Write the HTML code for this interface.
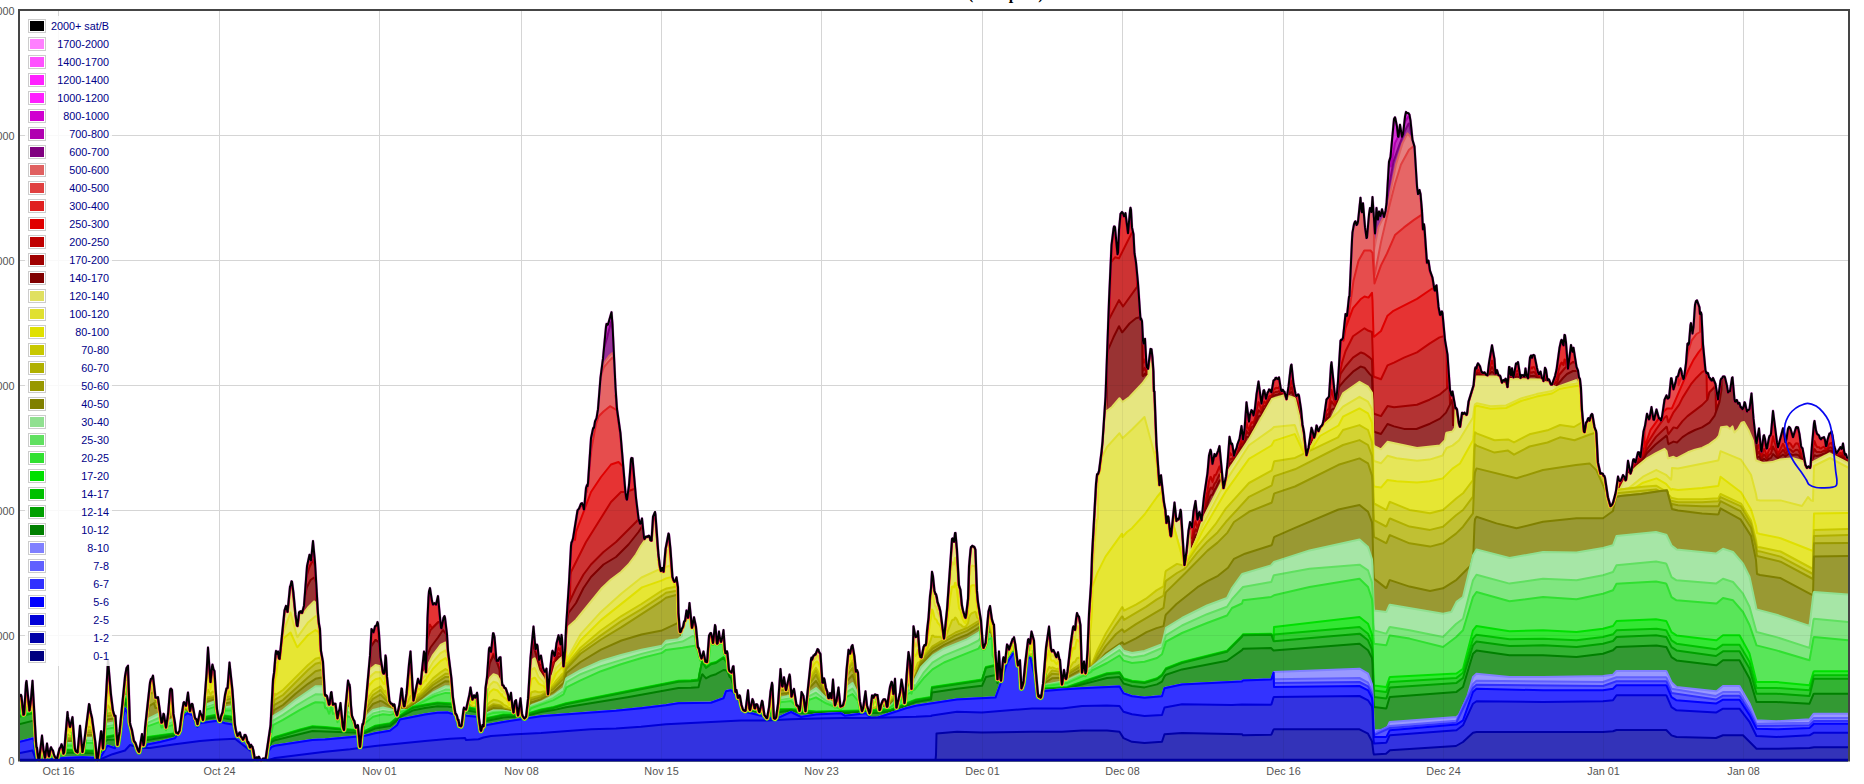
<!DOCTYPE html>
<html><head><meta charset="utf-8"><title>mempool</title>
<style>
html,body{margin:0;padding:0;background:#fff}
body{width:1864px;height:784px;position:relative;overflow:hidden;font-family:"Liberation Sans",sans-serif;font-size:10.83px;color:#545454}
.ttl{position:absolute;left:968px;top:-14.6px;white-space:nowrap;font-family:"Liberation Serif",serif;font-weight:bold;font-size:16px;color:#000;line-height:18px}
.xl{position:absolute;top:764.5px;width:60px;text-align:center;line-height:13px;white-space:nowrap}
.yl{position:absolute;right:1849.5px;width:60px;text-align:right;line-height:13px;white-space:nowrap}
.lg{position:absolute;left:25px;top:16px;width:87px;height:650px;background:rgba(255,255,255,.85)}
.lt{position:absolute;left:25px;top:16px;width:87px;color:#000088}
.r{position:relative;height:18px}
.r i{position:absolute;left:5px;top:5px;width:14px;height:10px;background:#000;box-shadow:0 0 0 1px #fff,0 0 0 2px #ccc}
.r span{position:absolute;right:3px;top:3px;line-height:14px;white-space:nowrap}
</style></head><body>
<div class="ttl">(Mempool)</div>
<svg width="1864" height="784" viewBox="0 0 1864 784" style="position:absolute;left:0;top:0">
<defs><path id="tp" d="M20,696.8 21,694.8 21.5,696.3 23.5,714.6 24,714.2 26,683 26.5,680.9 29.5,710.3 31,698.6 32.5,680.8 36,741.2 36.5,747 37,747.7 38.5,759.9 39,760.3 42,735.6 43.5,749.6 45,757.7 47,743.5 48.5,754.7 49,756.3 50.5,748.3 51,747.2 52,749.4 53,750.6 54,754.7 55,756.9 56,758.2 57,758.6 59.5,748.4 60.5,747.3 61.5,744.2 62.5,747.1 63.5,753.5 64,752.4 67.5,712 68,716.9 70,726.9 72.5,717.1 75,748.6 76,751.3 76.5,751.7 77,751.6 77.5,752.3 80,725.7 82.5,751.9 84,743.1 89,704.1 89.5,704.9 90.5,711.6 92,717.4 95.5,742.9 97,759.2 97.5,760.3 101,731.3 101.5,731.5 103,748.3 108,659.8 111,694.5 113,710.5 114.5,715.8 115.5,715.8 117.5,744.8 119.5,731.7 125,676.3 126.5,668 128,665.7 130,722.4 130.5,725.3 132,730 134,740.9 135.5,742.9 138,750.1 139,751.8 142,734 143.5,745.1 144,743 145,727.7 150,682.4 151,678.8 152,678.3 153,675.6 155.5,697.5 156.5,697.4 157.5,698.2 158,697.1 161.5,722.5 162,722.3 162.5,720.2 163.5,713.7 164,714.3 166,727.4 168,714 170,690.3 170.5,688.9 171,688.6 172,689.8 173.5,713.9 175,722.7 176,731.8 176.5,732.8 177.5,732.8 178,733.4 179.5,730.6 181.5,714.8 183.5,702.8 184,702.1 186,705.6 188,692.5 190,711.1 191,705.8 191.5,704.1 192,703.8 192.5,704.3 195,717.6 195.5,718.8 196.5,719.1 197.5,724.1 200,711.1 200.5,713.2 202,715.8 203,719.9 206.5,673.6 208,647.5 210.5,682 212,666.7 212.5,664.6 213.5,669.3 214.5,671 217,708.8 218.5,717.5 219.5,720.7 220,720.7 221,716.1 222.5,712.2 225,694.8 226.5,688.3 227.5,687.8 229.5,662.6 232.5,690.3 235,724.8 236,730.4 237.5,735.7 238.5,734.6 239.5,732.4 240,732.5 241,736.8 241.5,736.8 243,739.6 244,737.5 244.5,734.9 245.5,734.9 246.5,737.1 247.5,741.7 248,742.9 248.5,742.3 250,747.3 251,744.7 252,746.5 252.5,746.7 253.5,750.5 255,759.6 256.5,757.4 257.5,758.2 258,758.1 258.5,756.7 259,756.7 260.5,760.2 261.5,760.3 263,758.5 264.5,758.5 265.5,759.1 270.5,725.3 273,679.3 274,672.7 275.5,654.7 276,650.9 277,653.7 278,651.5 279,658.3 279.5,658.8 284.5,610.3 286,605.9 286.5,606.7 287.5,611.8 290,586.5 290.5,585.7 291.5,581.3 292,581.6 293.5,593 295.5,614.2 297,625.5 297.5,625.9 299,612.6 299.5,611.7 300,612.6 300.5,611.3 301,611.2 301.5,611.5 302,612.9 304,605.7 307,566.3 309.5,554.8 311,560.5 313,541.1 315,562.2 318,613.1 319,623.8 320,628.9 321,650.7 323,661.6 325,694.7 325.5,695.6 326,695 327,695.9 329,704.6 329.5,704 331,692.5 331.5,692.1 333,704.6 334,703.5 334.5,704.1 335.5,703.7 337.5,718.2 338.5,711.9 339.5,709.4 340.5,703 343,726.9 344,729.9 345.5,706.1 348,680.6 349,684.3 349.5,684.5 350,687.5 351,705.1 352,715.6 353.5,719.6 354.5,721.1 355.5,726.6 356,727.6 357.5,725 358,725.3 360,746.7 362,726.8 362.5,723.9 363,724.3 364,718.6 366,699.4 370,655.4 371.5,629 373.5,632.3 375,626.4 376.5,625.4 377.5,622.1 378,623.6 379,633.2 380.5,657.1 383,672.4 383.5,673.5 384,673.5 384.5,672.2 385.5,655.4 386,657.6 387,676.4 389.5,700.9 391,703.5 392,703.7 392.5,704.3 393,705.6 393.5,705.7 394,704.2 394.5,704.7 395.5,710.7 397,715.2 399.5,704.1 401.5,688.4 402,689 403,699.8 404,706.2 404.5,706 406.5,693.2 409,664.1 410.5,651.4 413.5,700.4 418,678.8 419.5,683.1 420.5,683.8 424,651.5 424.5,652.8 426,672.1 427.5,617.8 428.5,597.3 429,591.4 430,588.1 432,601.1 433,604.6 434.5,603.1 436,604.6 438,596.1 441,627.6 441.5,628.3 443.5,617.8 444.5,616.1 445,617.7 447,634.4 448,650.6 451.5,678.6 453,697.5 455.5,713.7 456,713.8 457,715.7 458,720 458.5,719.7 459.5,725.6 460,725.3 461,726.2 461.5,725.2 463.5,709.5 464,707.6 464.5,708.9 466,709.4 469.5,694.1 470.5,687.5 472.5,699.5 474,695.3 475,697.4 475.5,697.5 477,692.8 477.5,695.4 479,717.6 480.5,729.2 481,730.8 482.5,725 483.5,726.2 485.5,688 487,677 489,648.8 489.5,647.5 490,649.8 491,651.8 493,633.3 493.5,633.2 494.5,636.9 496.5,660.9 497.5,660.6 498,660.9 499.5,657.5 500.5,657.2 502,682 502.5,685.1 503.5,685.5 504.5,687.8 505,688.2 505.5,688 506,688.9 508,694.8 509,700.1 509.5,699.6 511,692.8 512.5,706.8 513.5,712.3 514.5,703.5 515,701.2 516,700.1 518,715.3 520.5,698.3 522,713.2 522.5,715.5 524,718.1 524.5,718.3 526,716.7 528,698.9 530.5,657.7 533.5,626.5 535.5,649.3 537,644.6 537.5,645.8 539,659.9 540.5,656 541,655.6 543,667.7 544.5,671.5 545,671.7 545.5,671.1 546.5,668.6 548,694.2 549.5,674.8 552,652.7 552.5,650.8 553,652.2 553.5,652.2 554.5,655.9 555,655.2 556.5,643.2 558.5,635.3 560.5,644.4 561.5,634.9 562,638 563.5,666.2 565,650.1 566,627.9 569,582.8 571,545.8 571.5,542.2 572,541.8 573,538.3 577.5,510.4 579,508.7 581,503.6 582,503.1 583,505.3 584,509.5 586,488 587,485 587.5,486 588,482.7 591,438.3 593,428.7 593.5,427.6 594,427.8 595,421.4 596.5,418.2 598,409.2 600.5,377.7 603,358.4 606,326.8 606.5,323.9 607,325.2 607.5,324 608,324.6 611.5,312.2 612.5,324.6 615.5,387.2 617,409 620.5,433.5 625.5,492.9 626.5,499.2 627,499.6 629,485 631,459.2 631.5,457.9 632.5,458.2 636,497.8 638.5,518.2 640,523.7 640.5,523.7 642,518.4 644,537.8 644.5,538.9 646,536.5 647,536.9 647.5,536.3 648,536.7 648.5,535.8 649,535.7 649.5,536.2 650.5,540.2 651.5,540.5 653,516.7 655,512 655.5,514.7 658.5,554.7 660,566.6 661,571 662,568 662.5,568.1 663.5,571.6 665.5,548.9 668.5,533.5 669,534.6 670.5,549.2 672.5,576.8 673.5,580 674.5,581.7 675.5,580.3 676.5,577.3 678,587.1 678.5,612.8 680,631.9 680.5,632 681,631.2 681.5,629.2 683,626.7 684,621.8 684.5,620.9 685,620.9 686.5,610.4 688,617.7 689.5,603 692,627.7 694,617.2 696,626.7 698,647.5 698.5,647.6 699,648.6 700.5,655.6 701.5,658.4 703.5,651.4 705.5,661.6 707,662 709,635.8 710,633.8 710.5,633 711,633 712.5,639 713,642.9 715,625.1 715.5,626.3 717,643.5 717.5,643.3 719,631.6 719.5,636 721,641.8 722.5,636.6 723.5,630.1 725,650.1 725.5,653 726,653.1 726.5,651.4 727,651.3 727.5,653.2 729,669.5 729.5,670.9 731.5,672.5 733,666.4 733.5,666.2 735.5,691.7 736,690 736.5,690.1 738,697.8 738.5,697.5 739.5,695.3 740,696.1 741.5,704.7 743,709.5 743.5,710 745,710.8 745.5,710.7 748,690.3 749.5,708.4 750,709.9 752.5,699.1 753.5,701.6 754.5,708.1 755,708.3 756,704.3 757,704.2 757.5,705.1 759,711.5 759.5,711.9 762,700.8 762.5,701.5 764.5,715 766.5,717.8 767,718 769,707.1 770.5,691.4 772,682.8 772.5,685.4 774,718.1 775,718.7 776,717.5 778,703.6 780.5,669 782,685.5 782.5,686.4 784,677.2 786,690 789.5,674.6 790,676.6 791.5,696.5 793,690.8 794,688.9 796.5,704.7 797,705.5 797.5,705.2 798.5,706.8 799.5,710.8 800,708.8 801.5,692 803.5,695.9 805.5,711.1 811,659.3 811.5,657.6 812,659.6 813.5,655.5 814.5,655.1 815,654.1 815.5,654.4 817.5,649.1 818.5,649.9 819,651.7 820.5,654 822.5,682.4 823,682.7 824,678.3 824.5,679.5 826,688 827.5,692.2 828,696.6 828.5,698 829,698.1 830,693.1 831.5,698.1 833,679.5 835,705.2 836.5,700.6 838.5,687.5 840.5,706.4 842,705.9 843,705.1 844.5,699.3 846.5,669.9 848.5,649.8 850,653.6 851.5,646.6 852.5,645 854.5,656.4 856,671.5 856.5,670.2 857,670.1 858,672.6 859.5,697 860,701.4 862,711.1 863,708.5 865.5,691.3 867,705.2 869.5,713.2 870,712 872,695.4 872.5,695.7 873,697.3 873.5,697.6 874.5,694.8 875,694.4 875.5,694.4 876,695.1 877.5,695 879.5,709.9 880,709.6 881,704.6 882.5,700.8 883.5,699.3 885,699.3 886,701.4 887,706.8 887.5,705.8 888,699.8 890,686.7 891.5,681.8 892,682.2 893.5,693.8 895,678.8 896.5,707.5 900,692.5 901.5,679.5 903,688.1 904.5,703 905,700.5 906.5,675.7 908.5,652.1 910,660.6 911.5,688.8 913.5,626.2 915.5,636.9 916.5,636.7 917,635.9 918,631.2 919.5,650.6 920,655.4 920.5,656.9 921,656.5 921.5,657.2 923.5,647 924.5,645 925,645.4 925.5,645.2 926,643.6 927,630.5 928.5,617.6 930,595.8 931,588.1 932,571.7 933,576.1 934.5,590.7 935.5,594 936,594.1 937,597.8 937.5,601.6 939.5,607.4 940.5,611.6 944,638.4 947,609.2 952,538.9 952.5,538.4 953,538.7 954,541.7 955,533 955.5,532.9 957,549.7 959,585.1 960.5,589.8 962,605.5 963,610.3 965,617 965.5,617.7 966,615.4 968,598.6 969,566.3 970.5,549.7 971,546.9 971.5,546.8 972,546 972.5,545.8 973.5,546.8 974,546.6 974.5,547.1 975.5,549.8 977,590.9 978,601.8 981,620.5 983,645.8 983.5,647.8 985.5,642.9 988.5,611.2 990,606 992,619.4 993.5,624.2 994,624.6 995.5,652.7 997.5,679.1 999,651.4 1000.5,677.9 1001,680.6 1003,659.3 1003.5,657.2 1005,662.2 1007,644.4 1008.5,646.8 1009,649.4 1012.5,639.2 1013.5,638.6 1014,637.2 1015.5,645.3 1018,665.3 1018.5,664.9 1019,662.5 1020,660.2 1021.5,688.3 1023,683.9 1023.5,680.7 1025,664.4 1028,639.8 1028.5,639.1 1030,643.5 1031.5,631.5 1034,640.4 1035.5,666.3 1038,693.8 1038.5,696.3 1039,696.7 1039.5,695.6 1040,696 1040.5,697.5 1041,697 1041.5,694.3 1043,683.4 1046,647.5 1049,626.6 1051,648.1 1051.5,649.9 1052,651.3 1053,650 1053.5,650.1 1055,653.1 1056,656.5 1056.5,657 1058,652.2 1059.5,659.4 1060,659.6 1062,684.3 1064,669.9 1065.5,678.2 1066,678.9 1066.5,677.2 1067.5,671.2 1070.5,644.4 1073,627.5 1073.5,626.3 1074.5,629.5 1075,629.8 1076,619.2 1077,613 1078,615.7 1079,616.7 1080.5,625.2 1082,672.6 1084,661.5 1085.5,673.2 1086,671.5 1087.5,650 1089,613.6 1091,583.5 1092,554.8 1096,483.6 1097,474.3 1097.5,474.5 1098,473.8 1099,470.9 1101.5,451.6 1102.5,441.6 1105.5,396.8 1109,300.9 1111.5,245 1113.5,228.8 1114,226.4 1114.5,226.4 1115,227.2 1117.5,254.2 1118,252.6 1119,229.9 1120.5,213.8 1122,212 1123,213.2 1124,216.3 1124.5,215.9 1125.5,213.1 1128,233.1 1130,210.5 1130.5,207.7 1131,209.9 1132,227.4 1133.5,234.3 1134.5,253.2 1136,262.3 1138,283 1140.5,319.4 1141,318.3 1142,321.1 1143,340.3 1143.5,343.5 1144.5,339.4 1145,338.8 1146.5,365.2 1147,367.2 1148,368.7 1150.5,348.9 1151.5,349.2 1152.5,357.5 1153.5,371.5 1154,391.2 1154.5,391.6 1156.5,443.2 1159.5,485 1160.5,476.1 1161,475.2 1164,502.1 1165.5,510.3 1166.5,522.8 1167.5,519.9 1168,516.3 1168.5,517.2 1170.5,535.1 1171,536.1 1174.5,502.5 1176.5,520.9 1177.5,519 1178,518.8 1178.5,519.4 1179,518.9 1180.5,509.8 1181,511.6 1184.5,564.9 1186.5,551.1 1188.5,530.7 1190,522.1 1191.5,525.3 1192,527.3 1193.5,511.8 1195.5,501.1 1197.5,519.6 1199,512.6 1199.5,512 1201.5,520.3 1204,496.4 1207.5,472.8 1209,455.6 1210.5,449.8 1211,451.2 1212.5,463.8 1214.5,454 1215,455.7 1215.5,456.3 1216,455.9 1218,451.1 1219.5,446.1 1223.5,488 1226,476.4 1227.5,463.7 1229.5,436.8 1231,443.7 1231.5,444.3 1232,443.6 1232.5,445.4 1234,455.7 1235.5,450.2 1236.5,448.3 1237.5,444.1 1239.5,438.9 1241.5,426.1 1243,439.5 1244.5,429.7 1246.5,402.3 1249,421.5 1250,414.9 1251.5,410.1 1252.5,411.1 1253.5,415.4 1255,408.1 1256.5,394.3 1258.5,381.6 1261.5,403.5 1263.5,390.7 1264,390.1 1264.5,391.4 1266,398.8 1267.5,392.7 1268.5,391.3 1269,389.4 1270,389.7 1271,391.9 1271.5,392.2 1273.5,380.5 1275,379.4 1275.5,377.9 1276.5,377.8 1277,378.8 1278,379.1 1279,377.4 1281,389.8 1281.5,391 1282,391.1 1282.5,389.8 1283,389.9 1284,391.8 1284.5,391.7 1286.5,399.1 1288.5,386.7 1290.5,368.9 1291,365.5 1291.5,364.6 1293.5,383.5 1295.5,393.8 1296,395.6 1296.5,396.1 1298,394.4 1298.5,394.5 1299,395.8 1301,408.8 1302.5,424.2 1304,432.1 1306.5,455.1 1308.5,447.5 1311.5,427.8 1312.5,430.5 1314,437.6 1315,434.9 1316.5,425.4 1317,426.2 1317.5,429.2 1318.5,431 1320,427.4 1321,426.1 1321.5,425.9 1322.5,424.3 1323.5,420.6 1326.5,399.5 1329,396.7 1331,365.4 1331.5,362.3 1334.5,391.4 1335.5,399.4 1336,399.1 1337,392.5 1338,381.1 1340.5,340.8 1341,339.9 1341.5,340.1 1342.5,338.9 1343,337.6 1345.5,314.1 1346.5,315.9 1347,315.7 1349,296.9 1349.5,296.1 1352,240 1352.5,232.4 1354,224.1 1355,221.6 1355.5,221.3 1356.5,225.1 1357.5,223.6 1358,221.6 1360.5,197.7 1361.5,211.3 1362,212.2 1363,203.2 1365,227.2 1366.5,238.1 1367,237.6 1369,214.5 1370,208 1371,211.6 1371.5,211.9 1372.5,197 1375,233.5 1376.5,207.9 1377.5,218.5 1378,219.6 1379,211.5 1380,215.6 1380.5,216.1 1382,209.3 1384,217 1385.5,211 1386.5,203.7 1389,161.9 1390.5,156.9 1394,119 1395,117.3 1395.5,119.1 1397,126.8 1398,136.6 1398.5,136.8 1400,124.7 1402,136.8 1403,134.3 1405,116.8 1406,111.9 1406.5,112.7 1408.5,113.2 1409.5,114.8 1410.5,120.7 1412.5,139.9 1414.5,146.6 1417,186.5 1418,194.1 1418.5,193.6 1419.5,190 1420.5,193.9 1422,210.7 1423,229.3 1423.5,229.2 1424,224.2 1424.5,227.8 1427,262.8 1428,261.9 1428.5,260.6 1430,270.7 1432.5,277.6 1434.5,290 1435,290.7 1436,285.9 1436.5,285.3 1438.5,306.7 1440,314.7 1440.5,314.9 1441.5,311.5 1442,311.6 1442.5,313.1 1445,340 1447.5,354.7 1450,390 1451.5,395.4 1452.5,391.5 1455.5,408.2 1456,407.7 1457,409.2 1459,423.6 1460,426.7 1462,412.7 1462.5,412.7 1463,413.9 1463.5,413.8 1464.5,412.6 1466.5,414.7 1467,413.7 1468.5,401.6 1473.5,385.3 1475,368.9 1475.5,367.4 1476,368.5 1476.5,368.5 1477,365.4 1478,363.3 1480,366.3 1481.5,372 1482,372.7 1482.5,372.2 1483,373 1483.5,372.7 1484,373 1484.5,372.3 1486,374.6 1487.5,375.2 1489,362.8 1492,345.2 1494.5,359.1 1495.5,373.5 1496,373.3 1497,370.1 1498.5,375.1 1500,375.6 1500.5,376.7 1502,382.5 1503,380.3 1503.5,380 1504.5,380.8 1505.5,378.7 1506,379 1507.5,387 1509,367 1509.5,367 1510.5,374.1 1511,375.3 1512,368.2 1513,375.9 1513.5,377.2 1516,363.5 1517,363.7 1518,362 1520.5,377.8 1521.5,375.1 1522.5,375.4 1523,375.1 1524,376.4 1524.5,376.5 1525.5,368.4 1526.5,375.2 1528,378.1 1530,357.4 1531,355.5 1532,357.8 1532.5,355.7 1533.5,354.9 1534.5,355.6 1537,368 1538,372.1 1539,374.2 1540.5,371.5 1542,378.1 1542.5,377.9 1543,378.4 1543.5,380.9 1545,367.7 1546,369.6 1547.5,380 1548.5,379.3 1549,379.4 1551,384.5 1552,384.5 1555,376.1 1556.5,369.8 1559.5,347.8 1561,341 1561.5,339.9 1562,340.1 1563,344.5 1563.5,345.3 1564.5,334.9 1565,335.1 1566,342.4 1568,368.7 1571,345 1572.5,351.7 1573.5,347.7 1576.5,366.8 1578,370.6 1579,377.3 1580,379.1 1581,388.2 1582,409.5 1584,431.5 1584.5,432 1586,422.7 1587,421.4 1588,418.5 1588.5,418.1 1589.5,420.5 1591,415.1 1592,413.9 1592.5,414.7 1594.5,426.7 1595.5,429.9 1596,430.4 1596.5,433.7 1598,462.4 1600.5,473.6 1602,473.3 1603,473.8 1603.5,475.6 1604.5,476.2 1605,477.7 1608,497.2 1610.5,506.1 1611,505.9 1612,504.7 1613,502.5 1615,495.1 1616,490.6 1618,476.6 1619,480.1 1620,481.1 1620.5,480.9 1621.5,479 1623,475 1624.5,477 1625.5,480.2 1626,479.7 1628,460.8 1630.5,473.4 1631.5,470.1 1633,460.4 1633.5,459.2 1634,459.2 1635,462 1635.5,462.4 1638,452.3 1639,452.3 1640,456.6 1640.5,457.2 1643.5,431.4 1645,425.8 1647,413.7 1649,419.3 1649.5,418.4 1651.5,407.1 1653.5,419.6 1654,419.8 1656.5,409.4 1659,418.5 1659.5,418 1661,420.5 1662,416.8 1664.5,399.7 1666.5,395.4 1667.5,398.4 1668,398.5 1669,397.6 1671,378.3 1671.5,378.3 1673.5,389.3 1675.5,382.4 1676.5,377.1 1678,376.1 1679.5,370.3 1680.5,368.4 1681.5,371.2 1682,374.7 1683.5,379.1 1684,377.9 1686,363.1 1687.5,343.7 1688,343.3 1688.5,344.7 1689,343.4 1690.5,324.9 1691,323.1 1692.5,333.6 1693.5,327 1695,305 1696,301 1697,300.4 1699.5,307.3 1700,313.8 1700.5,314.1 1701,312.5 1701.5,314.4 1703,344.1 1705.5,370.3 1706.5,373.3 1707,372.6 1707.5,373.6 1708,373.1 1709,377.2 1710,378.1 1710.5,379.4 1711,379.1 1711.5,380.4 1712.5,380.2 1713,377.9 1715.5,384 1718,399.4 1720.5,380.5 1721,379.2 1721.5,378.4 1722,378.4 1723,376.4 1724.5,376.4 1725,377.6 1727,386 1728,392.4 1729.5,391.1 1730,391.2 1732,377.9 1732.5,377.3 1734.5,399.6 1735,401.6 1735.5,401.7 1736.5,400 1737,400.2 1738,403.7 1739,402.7 1739.5,403.1 1740.5,407.1 1741,407.7 1741.5,407.2 1742.5,409.2 1743.5,407.5 1744.5,402.2 1745,402.8 1747,411.6 1747.5,410.2 1749,409.8 1749.5,408.8 1751.5,393.4 1753.5,418.7 1756,441 1756.5,443.5 1759,428.4 1761,449.5 1761.5,451.6 1763.5,436.1 1764,435.2 1765,438.8 1766.5,448.5 1767,448.2 1769,437.6 1769.5,436.1 1770.5,435.3 1771,433.5 1773,410.9 1777,442.4 1778,447.2 1783,428.3 1784,432.1 1785.5,442 1786.5,438.6 1788,428.7 1789,426.9 1790,427.7 1790.5,428.8 1793,437.1 1796,427.5 1797,427 1797.5,427.9 1798,427.4 1799.5,434.1 1801,445.5 1801.5,447.4 1802.5,448.3 1805.5,464.8 1807,467.9 1808.5,466.4 1810,467.9 1810.5,465.8 1812,444.7 1814,423.2 1814.5,420.9 1816,430.3 1817,433.8 1819,435.6 1820,438.3 1821,439.3 1822,437.8 1823,437.8 1824,437.1 1825,440 1826,446 1826.5,445.8 1827.5,439.8 1829.5,433.4 1830.5,433.2 1831.5,431.4 1832.5,435.2 1834,445.2 1836.5,453.5 1840.5,447 1841.5,448.9 1842,448.2 1843,443.5 1844.5,453.7 1845,454.7 1845.5,453.9 1846,454.3 1847,457.6 1848,458.1"/><clipPath id="ca"><path d="M20,696.8 21,694.8 21.5,696.3 23.5,714.6 24,714.2 26,683 26.5,680.9 29.5,710.3 31,698.6 32.5,680.8 36,741.2 36.5,747 37,747.7 38.5,759.9 39,760.3 42,735.6 43.5,749.6 45,757.7 47,743.5 48.5,754.7 49,756.3 50.5,748.3 51,747.2 52,749.4 53,750.6 54,754.7 55,756.9 56,758.2 57,758.6 59.5,748.4 60.5,747.3 61.5,744.2 62.5,747.1 63.5,753.5 64,752.4 67.5,712 68,716.9 70,726.9 72.5,717.1 75,748.6 76,751.3 76.5,751.7 77,751.6 77.5,752.3 80,725.7 82.5,751.9 84,743.1 89,704.1 89.5,704.9 90.5,711.6 92,717.4 95.5,742.9 97,759.2 97.5,760.3 101,731.3 101.5,731.5 103,748.3 108,659.8 111,694.5 113,710.5 114.5,715.8 115.5,715.8 117.5,744.8 119.5,731.7 125,676.3 126.5,668 128,665.7 130,722.4 130.5,725.3 132,730 134,740.9 135.5,742.9 138,750.1 139,751.8 142,734 143.5,745.1 144,743 145,727.7 150,682.4 151,678.8 152,678.3 153,675.6 155.5,697.5 156.5,697.4 157.5,698.2 158,697.1 161.5,722.5 162,722.3 162.5,720.2 163.5,713.7 164,714.3 166,727.4 168,714 170,690.3 170.5,688.9 171,688.6 172,689.8 173.5,713.9 175,722.7 176,731.8 176.5,732.8 177.5,732.8 178,733.4 179.5,730.6 181.5,714.8 183.5,702.8 184,702.1 186,705.6 188,692.5 190,711.1 191,705.8 191.5,704.1 192,703.8 192.5,704.3 195,717.6 195.5,718.8 196.5,719.1 197.5,724.1 200,711.1 200.5,713.2 202,715.8 203,719.9 206.5,673.6 208,647.5 210.5,682 212,666.7 212.5,664.6 213.5,669.3 214.5,671 217,708.8 218.5,717.5 219.5,720.7 220,720.7 221,716.1 222.5,712.2 225,694.8 226.5,688.3 227.5,687.8 229.5,662.6 232.5,690.3 235,724.8 236,730.4 237.5,735.7 238.5,734.6 239.5,732.4 240,732.5 241,736.8 241.5,736.8 243,739.6 244,737.5 244.5,734.9 245.5,734.9 246.5,737.1 247.5,741.7 248,742.9 248.5,742.3 250,747.3 251,744.7 252,746.5 252.5,746.7 253.5,750.5 255,759.6 256.5,757.4 257.5,758.2 258,758.1 258.5,756.7 259,756.7 260.5,760.2 261.5,760.3 263,758.5 264.5,758.5 265.5,759.1 270.5,725.3 273,679.3 274,672.7 275.5,654.7 276,650.9 277,653.7 278,651.5 279,658.3 279.5,658.8 284.5,610.3 286,605.9 286.5,606.7 287.5,611.8 290,586.5 290.5,585.7 291.5,581.3 292,581.6 293.5,593 295.5,614.2 297,625.5 297.5,625.9 299,612.6 299.5,611.7 300,612.6 300.5,611.3 301,611.2 301.5,611.5 302,612.9 304,605.7 307,566.3 309.5,554.8 311,560.5 313,541.1 315,562.2 318,613.1 319,623.8 320,628.9 321,650.7 323,661.6 325,694.7 325.5,695.6 326,695 327,695.9 329,704.6 329.5,704 331,692.5 331.5,692.1 333,704.6 334,703.5 334.5,704.1 335.5,703.7 337.5,718.2 338.5,711.9 339.5,709.4 340.5,703 343,726.9 344,729.9 345.5,706.1 348,680.6 349,684.3 349.5,684.5 350,687.5 351,705.1 352,715.6 353.5,719.6 354.5,721.1 355.5,726.6 356,727.6 357.5,725 358,725.3 360,746.7 362,726.8 362.5,723.9 363,724.3 364,718.6 366,699.4 370,655.4 371.5,629 373.5,632.3 375,626.4 376.5,625.4 377.5,622.1 378,623.6 379,633.2 380.5,657.1 383,672.4 383.5,673.5 384,673.5 384.5,672.2 385.5,655.4 386,657.6 387,676.4 389.5,700.9 391,703.5 392,703.7 392.5,704.3 393,705.6 393.5,705.7 394,704.2 394.5,704.7 395.5,710.7 397,715.2 399.5,704.1 401.5,688.4 402,689 403,699.8 404,706.2 404.5,706 406.5,693.2 409,664.1 410.5,651.4 413.5,700.4 418,678.8 419.5,683.1 420.5,683.8 424,651.5 424.5,652.8 426,672.1 427.5,617.8 428.5,597.3 429,591.4 430,588.1 432,601.1 433,604.6 434.5,603.1 436,604.6 438,596.1 441,627.6 441.5,628.3 443.5,617.8 444.5,616.1 445,617.7 447,634.4 448,650.6 451.5,678.6 453,697.5 455.5,713.7 456,713.8 457,715.7 458,720 458.5,719.7 459.5,725.6 460,725.3 461,726.2 461.5,725.2 463.5,709.5 464,707.6 464.5,708.9 466,709.4 469.5,694.1 470.5,687.5 472.5,699.5 474,695.3 475,697.4 475.5,697.5 477,692.8 477.5,695.4 479,717.6 480.5,729.2 481,730.8 482.5,725 483.5,726.2 485.5,688 487,677 489,648.8 489.5,647.5 490,649.8 491,651.8 493,633.3 493.5,633.2 494.5,636.9 496.5,660.9 497.5,660.6 498,660.9 499.5,657.5 500.5,657.2 502,682 502.5,685.1 503.5,685.5 504.5,687.8 505,688.2 505.5,688 506,688.9 508,694.8 509,700.1 509.5,699.6 511,692.8 512.5,706.8 513.5,712.3 514.5,703.5 515,701.2 516,700.1 518,715.3 520.5,698.3 522,713.2 522.5,715.5 524,718.1 524.5,718.3 526,716.7 528,698.9 530.5,657.7 533.5,626.5 535.5,649.3 537,644.6 537.5,645.8 539,659.9 540.5,656 541,655.6 543,667.7 544.5,671.5 545,671.7 545.5,671.1 546.5,668.6 548,694.2 549.5,674.8 552,652.7 552.5,650.8 553,652.2 553.5,652.2 554.5,655.9 555,655.2 556.5,643.2 558.5,635.3 560.5,644.4 561.5,634.9 562,638 563.5,666.2 565,650.1 566,627.9 569,582.8 571,545.8 571.5,542.2 572,541.8 573,538.3 577.5,510.4 579,508.7 581,503.6 582,503.1 583,505.3 584,509.5 586,488 587,485 587.5,486 588,482.7 591,438.3 593,428.7 593.5,427.6 594,427.8 595,421.4 596.5,418.2 598,409.2 600.5,377.7 603,358.4 606,326.8 606.5,323.9 607,325.2 607.5,324 608,324.6 611.5,312.2 612.5,324.6 615.5,387.2 617,409 620.5,433.5 625.5,492.9 626.5,499.2 627,499.6 629,485 631,459.2 631.5,457.9 632.5,458.2 636,497.8 638.5,518.2 640,523.7 640.5,523.7 642,518.4 644,537.8 644.5,538.9 646,536.5 647,536.9 647.5,536.3 648,536.7 648.5,535.8 649,535.7 649.5,536.2 650.5,540.2 651.5,540.5 653,516.7 655,512 655.5,514.7 658.5,554.7 660,566.6 661,571 662,568 662.5,568.1 663.5,571.6 665.5,548.9 668.5,533.5 669,534.6 670.5,549.2 672.5,576.8 673.5,580 674.5,581.7 675.5,580.3 676.5,577.3 678,587.1 678.5,612.8 680,631.9 680.5,632 681,631.2 681.5,629.2 683,626.7 684,621.8 684.5,620.9 685,620.9 686.5,610.4 688,617.7 689.5,603 692,627.7 694,617.2 696,626.7 698,647.5 698.5,647.6 699,648.6 700.5,655.6 701.5,658.4 703.5,651.4 705.5,661.6 707,662 709,635.8 710,633.8 710.5,633 711,633 712.5,639 713,642.9 715,625.1 715.5,626.3 717,643.5 717.5,643.3 719,631.6 719.5,636 721,641.8 722.5,636.6 723.5,630.1 725,650.1 725.5,653 726,653.1 726.5,651.4 727,651.3 727.5,653.2 729,669.5 729.5,670.9 731.5,672.5 733,666.4 733.5,666.2 735.5,691.7 736,690 736.5,690.1 738,697.8 738.5,697.5 739.5,695.3 740,696.1 741.5,704.7 743,709.5 743.5,710 745,710.8 745.5,710.7 748,690.3 749.5,708.4 750,709.9 752.5,699.1 753.5,701.6 754.5,708.1 755,708.3 756,704.3 757,704.2 757.5,705.1 759,711.5 759.5,711.9 762,700.8 762.5,701.5 764.5,715 766.5,717.8 767,718 769,707.1 770.5,691.4 772,682.8 772.5,685.4 774,718.1 775,718.7 776,717.5 778,703.6 780.5,669 782,685.5 782.5,686.4 784,677.2 786,690 789.5,674.6 790,676.6 791.5,696.5 793,690.8 794,688.9 796.5,704.7 797,705.5 797.5,705.2 798.5,706.8 799.5,710.8 800,708.8 801.5,692 803.5,695.9 805.5,711.1 811,659.3 811.5,657.6 812,659.6 813.5,655.5 814.5,655.1 815,654.1 815.5,654.4 817.5,649.1 818.5,649.9 819,651.7 820.5,654 822.5,682.4 823,682.7 824,678.3 824.5,679.5 826,688 827.5,692.2 828,696.6 828.5,698 829,698.1 830,693.1 831.5,698.1 833,679.5 835,705.2 836.5,700.6 838.5,687.5 840.5,706.4 842,705.9 843,705.1 844.5,699.3 846.5,669.9 848.5,649.8 850,653.6 851.5,646.6 852.5,645 854.5,656.4 856,671.5 856.5,670.2 857,670.1 858,672.6 859.5,697 860,701.4 862,711.1 863,708.5 865.5,691.3 867,705.2 869.5,713.2 870,712 872,695.4 872.5,695.7 873,697.3 873.5,697.6 874.5,694.8 875,694.4 875.5,694.4 876,695.1 877.5,695 879.5,709.9 880,709.6 881,704.6 882.5,700.8 883.5,699.3 885,699.3 886,701.4 887,706.8 887.5,705.8 888,699.8 890,686.7 891.5,681.8 892,682.2 893.5,693.8 895,678.8 896.5,707.5 900,692.5 901.5,679.5 903,688.1 904.5,703 905,700.5 906.5,675.7 908.5,652.1 910,660.6 911.5,688.8 913.5,626.2 915.5,636.9 916.5,636.7 917,635.9 918,631.2 919.5,650.6 920,655.4 920.5,656.9 921,656.5 921.5,657.2 923.5,647 924.5,645 925,645.4 925.5,645.2 926,643.6 927,630.5 928.5,617.6 930,595.8 931,588.1 932,571.7 933,576.1 934.5,590.7 935.5,594 936,594.1 937,597.8 937.5,601.6 939.5,607.4 940.5,611.6 944,638.4 947,609.2 952,538.9 952.5,538.4 953,538.7 954,541.7 955,533 955.5,532.9 957,549.7 959,585.1 960.5,589.8 962,605.5 963,610.3 965,617 965.5,617.7 966,615.4 968,598.6 969,566.3 970.5,549.7 971,546.9 971.5,546.8 972,546 972.5,545.8 973.5,546.8 974,546.6 974.5,547.1 975.5,549.8 977,590.9 978,601.8 981,620.5 983,645.8 983.5,647.8 985.5,642.9 988.5,611.2 990,606 992,619.4 993.5,624.2 994,624.6 995.5,652.7 997.5,679.1 999,651.4 1000.5,677.9 1001,680.6 1003,659.3 1003.5,657.2 1005,662.2 1007,644.4 1008.5,646.8 1009,649.4 1012.5,639.2 1013.5,638.6 1014,637.2 1015.5,645.3 1018,665.3 1018.5,664.9 1019,662.5 1020,660.2 1021.5,688.3 1023,683.9 1023.5,680.7 1025,664.4 1028,639.8 1028.5,639.1 1030,643.5 1031.5,631.5 1034,640.4 1035.5,666.3 1038,693.8 1038.5,696.3 1039,696.7 1039.5,695.6 1040,696 1040.5,697.5 1041,697 1041.5,694.3 1043,683.4 1046,647.5 1049,626.6 1051,648.1 1051.5,649.9 1052,651.3 1053,650 1053.5,650.1 1055,653.1 1056,656.5 1056.5,657 1058,652.2 1059.5,659.4 1060,659.6 1062,684.3 1064,669.9 1065.5,678.2 1066,678.9 1066.5,677.2 1067.5,671.2 1070.5,644.4 1073,627.5 1073.5,626.3 1074.5,629.5 1075,629.8 1076,619.2 1077,613 1078,615.7 1079,616.7 1080.5,625.2 1082,672.6 1084,661.5 1085.5,673.2 1086,671.5 1087.5,650 1089,613.6 1091,583.5 1092,554.8 1096,483.6 1097,474.3 1097.5,474.5 1098,473.8 1099,470.9 1101.5,451.6 1102.5,441.6 1105.5,396.8 1109,300.9 1111.5,245 1113.5,228.8 1114,226.4 1114.5,226.4 1115,227.2 1117.5,254.2 1118,252.6 1119,229.9 1120.5,213.8 1122,212 1123,213.2 1124,216.3 1124.5,215.9 1125.5,213.1 1128,233.1 1130,210.5 1130.5,207.7 1131,209.9 1132,227.4 1133.5,234.3 1134.5,253.2 1136,262.3 1138,283 1140.5,319.4 1141,318.3 1142,321.1 1143,340.3 1143.5,343.5 1144.5,339.4 1145,338.8 1146.5,365.2 1147,367.2 1148,368.7 1150.5,348.9 1151.5,349.2 1152.5,357.5 1153.5,371.5 1154,391.2 1154.5,391.6 1156.5,443.2 1159.5,485 1160.5,476.1 1161,475.2 1164,502.1 1165.5,510.3 1166.5,522.8 1167.5,519.9 1168,516.3 1168.5,517.2 1170.5,535.1 1171,536.1 1174.5,502.5 1176.5,520.9 1177.5,519 1178,518.8 1178.5,519.4 1179,518.9 1180.5,509.8 1181,511.6 1184.5,564.9 1186.5,551.1 1188.5,530.7 1190,522.1 1191.5,525.3 1192,527.3 1193.5,511.8 1195.5,501.1 1197.5,519.6 1199,512.6 1199.5,512 1201.5,520.3 1204,496.4 1207.5,472.8 1209,455.6 1210.5,449.8 1211,451.2 1212.5,463.8 1214.5,454 1215,455.7 1215.5,456.3 1216,455.9 1218,451.1 1219.5,446.1 1223.5,488 1226,476.4 1227.5,463.7 1229.5,436.8 1231,443.7 1231.5,444.3 1232,443.6 1232.5,445.4 1234,455.7 1235.5,450.2 1236.5,448.3 1237.5,444.1 1239.5,438.9 1241.5,426.1 1243,439.5 1244.5,429.7 1246.5,402.3 1249,421.5 1250,414.9 1251.5,410.1 1252.5,411.1 1253.5,415.4 1255,408.1 1256.5,394.3 1258.5,381.6 1261.5,403.5 1263.5,390.7 1264,390.1 1264.5,391.4 1266,398.8 1267.5,392.7 1268.5,391.3 1269,389.4 1270,389.7 1271,391.9 1271.5,392.2 1273.5,380.5 1275,379.4 1275.5,377.9 1276.5,377.8 1277,378.8 1278,379.1 1279,377.4 1281,389.8 1281.5,391 1282,391.1 1282.5,389.8 1283,389.9 1284,391.8 1284.5,391.7 1286.5,399.1 1288.5,386.7 1290.5,368.9 1291,365.5 1291.5,364.6 1293.5,383.5 1295.5,393.8 1296,395.6 1296.5,396.1 1298,394.4 1298.5,394.5 1299,395.8 1301,408.8 1302.5,424.2 1304,432.1 1306.5,455.1 1308.5,447.5 1311.5,427.8 1312.5,430.5 1314,437.6 1315,434.9 1316.5,425.4 1317,426.2 1317.5,429.2 1318.5,431 1320,427.4 1321,426.1 1321.5,425.9 1322.5,424.3 1323.5,420.6 1326.5,399.5 1329,396.7 1331,365.4 1331.5,362.3 1334.5,391.4 1335.5,399.4 1336,399.1 1337,392.5 1338,381.1 1340.5,340.8 1341,339.9 1341.5,340.1 1342.5,338.9 1343,337.6 1345.5,314.1 1346.5,315.9 1347,315.7 1349,296.9 1349.5,296.1 1352,240 1352.5,232.4 1354,224.1 1355,221.6 1355.5,221.3 1356.5,225.1 1357.5,223.6 1358,221.6 1360.5,197.7 1361.5,211.3 1362,212.2 1363,203.2 1365,227.2 1366.5,238.1 1367,237.6 1369,214.5 1370,208 1371,211.6 1371.5,211.9 1372.5,197 1375,233.5 1376.5,207.9 1377.5,218.5 1378,219.6 1379,211.5 1380,215.6 1380.5,216.1 1382,209.3 1384,217 1385.5,211 1386.5,203.7 1389,161.9 1390.5,156.9 1394,119 1395,117.3 1395.5,119.1 1397,126.8 1398,136.6 1398.5,136.8 1400,124.7 1402,136.8 1403,134.3 1405,116.8 1406,111.9 1406.5,112.7 1408.5,113.2 1409.5,114.8 1410.5,120.7 1412.5,139.9 1414.5,146.6 1417,186.5 1418,194.1 1418.5,193.6 1419.5,190 1420.5,193.9 1422,210.7 1423,229.3 1423.5,229.2 1424,224.2 1424.5,227.8 1427,262.8 1428,261.9 1428.5,260.6 1430,270.7 1432.5,277.6 1434.5,290 1435,290.7 1436,285.9 1436.5,285.3 1438.5,306.7 1440,314.7 1440.5,314.9 1441.5,311.5 1442,311.6 1442.5,313.1 1445,340 1447.5,354.7 1450,390 1451.5,395.4 1452.5,391.5 1455.5,408.2 1456,407.7 1457,409.2 1459,423.6 1460,426.7 1462,412.7 1462.5,412.7 1463,413.9 1463.5,413.8 1464.5,412.6 1466.5,414.7 1467,413.7 1468.5,401.6 1473.5,385.3 1475,368.9 1475.5,367.4 1476,368.5 1476.5,368.5 1477,365.4 1478,363.3 1480,366.3 1481.5,372 1482,372.7 1482.5,372.2 1483,373 1483.5,372.7 1484,373 1484.5,372.3 1486,374.6 1487.5,375.2 1489,362.8 1492,345.2 1494.5,359.1 1495.5,373.5 1496,373.3 1497,370.1 1498.5,375.1 1500,375.6 1500.5,376.7 1502,382.5 1503,380.3 1503.5,380 1504.5,380.8 1505.5,378.7 1506,379 1507.5,387 1509,367 1509.5,367 1510.5,374.1 1511,375.3 1512,368.2 1513,375.9 1513.5,377.2 1516,363.5 1517,363.7 1518,362 1520.5,377.8 1521.5,375.1 1522.5,375.4 1523,375.1 1524,376.4 1524.5,376.5 1525.5,368.4 1526.5,375.2 1528,378.1 1530,357.4 1531,355.5 1532,357.8 1532.5,355.7 1533.5,354.9 1534.5,355.6 1537,368 1538,372.1 1539,374.2 1540.5,371.5 1542,378.1 1542.5,377.9 1543,378.4 1543.5,380.9 1545,367.7 1546,369.6 1547.5,380 1548.5,379.3 1549,379.4 1551,384.5 1552,384.5 1555,376.1 1556.5,369.8 1559.5,347.8 1561,341 1561.5,339.9 1562,340.1 1563,344.5 1563.5,345.3 1564.5,334.9 1565,335.1 1566,342.4 1568,368.7 1571,345 1572.5,351.7 1573.5,347.7 1576.5,366.8 1578,370.6 1579,377.3 1580,379.1 1581,388.2 1582,409.5 1584,431.5 1584.5,432 1586,422.7 1587,421.4 1588,418.5 1588.5,418.1 1589.5,420.5 1591,415.1 1592,413.9 1592.5,414.7 1594.5,426.7 1595.5,429.9 1596,430.4 1596.5,433.7 1598,462.4 1600.5,473.6 1602,473.3 1603,473.8 1603.5,475.6 1604.5,476.2 1605,477.7 1608,497.2 1610.5,506.1 1611,505.9 1612,504.7 1613,502.5 1615,495.1 1616,490.6 1618,476.6 1619,480.1 1620,481.1 1620.5,480.9 1621.5,479 1623,475 1624.5,477 1625.5,480.2 1626,479.7 1628,460.8 1630.5,473.4 1631.5,470.1 1633,460.4 1633.5,459.2 1634,459.2 1635,462 1635.5,462.4 1638,452.3 1639,452.3 1640,456.6 1640.5,457.2 1643.5,431.4 1645,425.8 1647,413.7 1649,419.3 1649.5,418.4 1651.5,407.1 1653.5,419.6 1654,419.8 1656.5,409.4 1659,418.5 1659.5,418 1661,420.5 1662,416.8 1664.5,399.7 1666.5,395.4 1667.5,398.4 1668,398.5 1669,397.6 1671,378.3 1671.5,378.3 1673.5,389.3 1675.5,382.4 1676.5,377.1 1678,376.1 1679.5,370.3 1680.5,368.4 1681.5,371.2 1682,374.7 1683.5,379.1 1684,377.9 1686,363.1 1687.5,343.7 1688,343.3 1688.5,344.7 1689,343.4 1690.5,324.9 1691,323.1 1692.5,333.6 1693.5,327 1695,305 1696,301 1697,300.4 1699.5,307.3 1700,313.8 1700.5,314.1 1701,312.5 1701.5,314.4 1703,344.1 1705.5,370.3 1706.5,373.3 1707,372.6 1707.5,373.6 1708,373.1 1709,377.2 1710,378.1 1710.5,379.4 1711,379.1 1711.5,380.4 1712.5,380.2 1713,377.9 1715.5,384 1718,399.4 1720.5,380.5 1721,379.2 1721.5,378.4 1722,378.4 1723,376.4 1724.5,376.4 1725,377.6 1727,386 1728,392.4 1729.5,391.1 1730,391.2 1732,377.9 1732.5,377.3 1734.5,399.6 1735,401.6 1735.5,401.7 1736.5,400 1737,400.2 1738,403.7 1739,402.7 1739.5,403.1 1740.5,407.1 1741,407.7 1741.5,407.2 1742.5,409.2 1743.5,407.5 1744.5,402.2 1745,402.8 1747,411.6 1747.5,410.2 1749,409.8 1749.5,408.8 1751.5,393.4 1753.5,418.7 1756,441 1756.5,443.5 1759,428.4 1761,449.5 1761.5,451.6 1763.5,436.1 1764,435.2 1765,438.8 1766.5,448.5 1767,448.2 1769,437.6 1769.5,436.1 1770.5,435.3 1771,433.5 1773,410.9 1777,442.4 1778,447.2 1783,428.3 1784,432.1 1785.5,442 1786.5,438.6 1788,428.7 1789,426.9 1790,427.7 1790.5,428.8 1793,437.1 1796,427.5 1797,427 1797.5,427.9 1798,427.4 1799.5,434.1 1801,445.5 1801.5,447.4 1802.5,448.3 1805.5,464.8 1807,467.9 1808.5,466.4 1810,467.9 1810.5,465.8 1812,444.7 1814,423.2 1814.5,420.9 1816,430.3 1817,433.8 1819,435.6 1820,438.3 1821,439.3 1822,437.8 1823,437.8 1824,437.1 1825,440 1826,446 1826.5,445.8 1827.5,439.8 1829.5,433.4 1830.5,433.2 1831.5,431.4 1832.5,435.2 1834,445.2 1836.5,453.5 1840.5,447 1841.5,448.9 1842,448.2 1843,443.5 1844.5,453.7 1845,454.7 1845.5,453.9 1846,454.3 1847,457.6 1848,458.1 L1848,761.3 L20,761.3 Z"/></clipPath></defs>
<path d="M58.5,11V760M219.5,11V760M379.5,11V760M521.5,11V760M661.5,11V760M821.5,11V760M982.5,11V760M1122.5,11V760M1283.5,11V760M1443.5,11V760M1603.5,11V760M1743.5,11V760M20,135.5H1848M20,260.5H1848M20,385.5H1848M20,510.5H1848M20,635.5H1848" stroke="#d5d5d5" stroke-width="1" fill="none"/>
<g clip-path="url(#ca)" stroke-width="2" stroke-linejoin="round">
<rect x="20" y="0" width="1828" height="762" fill="#ff4dff"/>
<path d="M8,-50 L20,-50 1848,-50 L1860,-50 V800 H8 Z" fill="#d933d9" stroke="#d000d0"/>
<path d="M8,-50 L20,-50 1390.5,-50 1391,166.5 1395,143.1 1400,133 1405,121.8 1408,117.1 1408.5,116.7 1409.5,117.9 1410,-50 1848,-50 L1860,-50 V800 H8 Z" fill="#c033c0" stroke="#b000b0"/>
<path d="M8,-50 L20,-50 602,-50 602.5,358 603,352 607,338 611,322 614,335 614.5,-50 1386.5,-50 1387,206.5 1388.5,189.1 1393.5,161.6 1399.5,144.6 1405,130.7 1408.5,123.7 1409,123.5 1412,136.6 1412.5,-50 1848,-50 L1860,-50 V800 H8 Z" fill="#993399" stroke="#800080"/>
<path d="M8,-50 L20,-50 601,-50 601.5,372 604,363 609,356 612.5,353 614,357 616,360 616.5,-50 1373.5,-50 1374,250.2 1378.5,227.1 1382,220.1 1387,212.5 1391,189.4 1396,164.4 1402.5,143.4 1407.5,133.4 1411.5,138.4 1414.5,143.9 1415.5,144.9 1416,-50 1848,-50 L1860,-50 V800 H8 Z" fill="#e68080" stroke="#e06060"/>
<path d="M8,-50 L20,-50 600,-50 600.5,380 601.5,374.2 603.5,368.2 604,367.2 608.5,361.6 612.5,357.5 614,360 616,362 616.5,-50 1373.5,-50 1374,275.9 1374.5,275.7 1381,242.1 1388.5,209.6 1395,183.7 1401,164.5 1409,149.7 1414,145.9 1415.5,145.4 1416,-50 1848,-50 L1860,-50 V800 H8 Z" fill="#e66666" stroke="#e04040"/>
<path d="M8,-50 L20,-50 586.5,-50 587,492 587.5,485 591.5,448.6 596,423.9 598.5,416.9 599,416 603.5,411.5 610,406.2 620,412 620.5,-50 1346.5,-50 1347,324.2 1348,321 1353.5,280.7 1358.5,260.8 1364,250.9 1364.5,250.5 1370.5,250.5 1372.5,252.8 1374.5,283.5 1381,265.4 1387,253.4 1395,235.1 1404,227.4 1414,219.9 1421.5,214.9 1424,213.6 1424.5,-50 1678,-50 1678.5,385.3 1679,383.4 1684.5,370.1 1688.5,350.9 1691.5,340.6 1696.5,334 1700,332 1700.5,-50 1848,-50 L1860,-50 V800 H8 Z" fill="#e64d4d" stroke="#e02020"/>
<path d="M8,-50 L20,-50 574.5,-50 575,540 576,532 591,492 601,477 611,464.5 618.5,462 623.5,467 640,470 640.5,-50 1343,-50 1343.5,340.7 1345.5,328.2 1353,308.2 1360.5,299.3 1364.5,296.5 1368.5,297.6 1372,292.8 1372.5,300.6 1373.5,335.6 1374,336.8 1381,331 1387.5,315.7 1393.5,310.8 1417,298.8 1431.5,289 1438,287 1438.5,-50 1644,-50 1644.5,448.6 1645,446.1 1650.5,429.8 1664.5,410.6 1667,408.6 1671.5,408.6 1672,408.1 1688,370.8 1693.5,359.9 1698.5,352.4 1702,348 1702.5,-50 1848,-50 L1860,-50 V800 H8 Z" fill="#e63333" stroke="#e00000"/>
<path d="M8,-50 L20,-50 297.5,-50 298.5,616.2 299,614.2 299.5,613.6 300,613.9 301,612.9 301.5,612.9 302,613.4 302.5,612.6 303,605 305,595.7 305.5,580 309.5,567 313,560 315.5,567.5 316.5,597.7 317,601.1 317.5,-50 369,-50 369.5,665.1 370,662.4 370.5,647.5 375.5,640 379,642.3 381,647.5 381.5,666.2 383.5,673.6 384,-50 417.5,-50 418,679.4 418.5,679.3 421.5,675.3 424,661.8 424.5,662.1 425,665 425.5,660 426.5,657.5 427,640 428,636.4 429,627.2 430,624.6 432,628.5 438,622.2 438.5,622.3 444,620.1 444.5,620.8 446.5,626.8 447,641 448,650.7 448.5,652.5 449,-50 485.5,-50 486,688.4 487,683 489,664.9 489.5,663.3 492,658.5 493,654 493.5,653.7 494,654.4 495,658.3 497,662.5 499,668.2 500.5,669.9 501.5,679.9 502,-50 528,-50 528.5,688 531.5,652.9 533,643 533.5,642.7 535,651 536,654.6 536.5,654.6 537,655 537.5,656.5 539,665.6 540.5,664.8 541,664.9 543,672.5 544.5,676.7 545.5,678.4 546.5,679.1 548,690.6 552,664.8 552.5,663 553,662.9 553.5,662 554,662.3 554.5,662.1 555,660.9 556,654.7 558,648.9 558.5,647.9 560.5,651.5 561.5,646.2 562,647.6 563,656.3 564,655.5 568.5,604 569,602.9 569.5,600.1 570,595.3 570.5,575 571,572 586,542 611,502 621,492 626,492 645,485 645.5,-50 1105,-50 1105.5,405 1106.5,391.1 1107,353.4 1107.5,351.1 1108,323 1108.5,320.2 1109,319.3 1109.5,266.9 1110,263.3 1115,257.3 1119,258.4 1132,232.5 1136.5,236.1 1137,287.3 1141,283.5 1141.5,316.8 1142,316.5 1142.5,357.3 1143,361.5 1143.5,362.7 1145,359.3 1146.5,371.4 1147,372.1 1148,372.2 1148.5,370.6 1149,-50 1184,-50 1184.5,557.9 1185,558.7 1185.5,557.7 1186,555 1188,535.8 1189.5,527.9 1190,538 1191.5,537.9 1192,538.3 1193.5,528.8 1195.5,521.3 1197.5,527.9 1199.5,520.9 1201.5,521.9 1204,506.6 1207.5,491.4 1209,481.3 1210.5,476.9 1211,477.2 1212.5,482 1214.5,475.1 1215,475.5 1216,474.6 1219.5,466.3 1220.5,469.6 1222.5,479.6 1223,479.7 1226.5,472.6 1228,464.9 1229.5,452.7 1230,453 1231,455 1231.5,455 1232,454.2 1232.5,454.7 1234,458.8 1239.5,446.3 1241.5,438.4 1243,443.9 1244.5,437.9 1246.5,422.7 1247.5,426.8 1249,430.4 1250,426.2 1251.5,422.5 1252.5,422.1 1253.5,423.4 1255,418.4 1256.5,410.2 1258.5,402.1 1259,402.8 1261.5,410.4 1263.5,402.2 1264,401.5 1264.5,401.7 1266,404.1 1267.5,399.7 1269,396.7 1270,395.9 1271,396.1 1271.5,395.9 1273.5,389.5 1275,388.7 1275.5,387.9 1276.5,387.7 1277,388.1 1278,388.1 1279,387.1 1281,393 1281.5,393.5 1282,393.5 1282.5,392.8 1283.5,392.9 1284,393.5 1284.5,393.4 1285,393.9 1285.5,395.1 1287,395.6 1288.5,391.4 1290.5,382.8 1291,381.2 1291.5,380.8 1293.5,390.6 1294.5,393.1 1296,399.4 1298,403 1299,405.8 1301,417.7 1305,447.9 1306,452.4 1307,452.2 1309,448 1311.5,437 1312.5,437.3 1313.5,439.1 1314,439.2 1315,436.8 1316.5,430.5 1317,430.3 1317.5,431.3 1318.5,431.1 1320,427.7 1322.5,425 1323.5,422.8 1326.5,410.9 1329,408.4 1331,391.9 1331.5,390.1 1334.5,401.5 1335.5,404.4 1336,403.7 1338,392.5 1340,373.1 1342,362.9 1345.5,351.2 1353,336.2 1364.5,328.3 1368.5,330.8 1372,332 1373.5,375.1 1374,376.8 1381,379.2 1387.5,365.4 1394,362.6 1404,357.6 1417,352.4 1429.5,343.6 1439.5,337.4 1446.5,335.5 1447,388.6 1449.5,385.6 1450,404.8 1452.5,399.8 1453,412.4 1455,416.8 1455.5,407.5 1457,411.2 1458.5,420.4 1459.5,423.5 1460,423.4 1460.5,422.6 1462,415.4 1462.5,414.7 1463.5,414.9 1464.5,414.3 1466,414.6 1466.5,413.6 1469.5,398.8 1472.5,389.3 1474,381.7 1475,373.8 1475.5,372.3 1476.5,372.4 1477,370.9 1478,369.9 1480,371.3 1481.5,374.2 1482,374.5 1482.5,374.3 1483,374.7 1484,374.7 1484.5,374.3 1486,375.5 1487.5,375.8 1489,369.6 1492,360.8 1494.5,367.8 1495.5,374.9 1496,374.8 1497,373.2 1498.5,375.8 1500,376.7 1502,381.9 1502.5,382.3 1503,381.8 1504.5,382.3 1505.5,381.4 1507,383.6 1507.5,382.9 1508,380.8 1509,373.7 1509.5,373.1 1510.5,376.5 1511,377.1 1512,373.6 1513,377.4 1513.5,378.1 1516,371.2 1517,371.3 1518,370.5 1520.5,378.4 1521.5,377 1523,377.1 1524.5,377.7 1525.5,373.7 1526.5,377.1 1528,378.6 1530,368.3 1531,367.4 1532,368.5 1532.5,367.5 1533.5,367.1 1534.5,367.5 1537,373.7 1538.5,376.3 1539,376.8 1540.5,375.4 1542,378.9 1543,379.5 1543.5,380.9 1545,374.9 1546,375.9 1547.5,381.1 1548.5,380.8 1549,381 1550.5,383.8 1552,384.9 1554.5,381.6 1555,381.4 1556.5,378.5 1559.5,367 1561,363.3 1561.5,362.6 1562,362.7 1563,364.7 1563.5,365 1564.5,359.6 1565,359.7 1565.5,360.8 1566.5,366.5 1567,366.5 1573,362 1578,364 1581,366 1581.5,383.5 1582,383.5 1582.5,386.8 1589.5,398.1 1593,418.8 1593.5,420.1 1598,419 1616,488.7 1616.5,488.7 1618,483.2 1619,484.9 1620,485.2 1623,479.1 1624.5,478.7 1625,479.1 1625.5,478.3 1626.5,475.8 1628,468 1630.5,472.7 1631.5,470.9 1633,465.4 1634,464.3 1635,465.2 1635.5,465.2 1638,458.9 1639,458.6 1640,460.3 1640.5,460.4 1643,448.3 1643.5,456.8 1647,443.9 1656,429.6 1664.5,417.7 1666.5,416 1667,416.8 1668,421.8 1668.5,422.3 1673.5,412.3 1679,404.9 1682.5,397.9 1691,384.2 1696.5,377.7 1702,372.1 1705.5,370.3 1706.5,371.5 1707,400.1 1707.5,399.6 1709.5,392.3 1714.5,387.3 1715.5,384.3 1716,411.9 1719.5,401.9 1721.5,389.4 1722.5,-50 1756,-50 1756.5,452.1 1758,447.1 1759,445 1761,455.9 1761.5,457.1 1763.5,449.5 1764,449.1 1765,450.8 1766.5,455.6 1767,455.4 1769,450 1769.5,449.2 1770.5,448.8 1771,447.8 1773,436.3 1774,440.6 1775.5,444.8 1777,451.4 1778,453.7 1783,443.8 1784,445.6 1785.5,450.5 1786.5,448.7 1788,443.7 1789,442.8 1790.5,443.7 1793,447.7 1795.5,443.8 1796,443.4 1797,443.3 1797.5,443.8 1798,443.6 1799,445.7 1801,453.1 1801.5,454.1 1802.5,454.7 1805,461.9 1810,463.2 1810.5,463 1814,442.3 1814.5,441.1 1816,445.4 1817,446.9 1819,447.2 1820,448.3 1821,448.6 1822,447.6 1824,446.7 1825,447.9 1826,450.6 1826.5,450.4 1827.5,447.1 1829.5,443.4 1831,443.3 1831.5,442.8 1832.5,445 1834,450.4 1836.5,455.2 1840.5,453 1841.5,454.2 1842,454 1843,451.8 1844.5,457.4 1845,458 1845.5,457.7 1846,458 1847,459.9 1848,460.5 L1860,460.5 V800 H8 Z" fill="#cd3333" stroke="#c00000"/>
<path d="M8,-50 L20,-50 297.5,-50 298.5,616.2 299.5,614.4 300,614.5 301,613.6 302,613.6 302.5,613 303,605 305,595.7 305.5,580 309.5,567 313,560 315.5,567.5 316.5,600.4 317,602.7 317.5,-50 369,-50 369.5,667 370,665.2 370.5,647.5 375.5,640 379,642.3 381,647.5 381.5,667.2 383.5,673.7 384,-50 417.5,-50 418,679.7 421.5,675.3 424,665.9 424.5,665.8 425,667.3 425.5,660 426.5,657.5 427,640 430.5,630 438,622.5 444,620.1 444.5,620.8 446.5,626.8 447,643.6 448.5,652.5 449,-50 485.5,-50 486,690.3 487,685.4 487.5,678.8 489.5,664.8 490,662.5 493.5,655.5 497,662.5 499.5,669.8 501.5,682.1 502,-50 528,-50 528.5,688 530,668.4 533,643 535.5,653 538.5,663 539,667.9 541,668.7 545,680.2 546.5,683.4 547,687.2 548,690.6 549,687.1 552,669.7 552.5,667.9 555,663.1 556.5,656.7 558.5,653 560.5,654.3 561.5,650.8 562,651.4 563,656.3 564,655.5 567,623 568,615.5 568.5,604 576,588 583.5,574.5 591,564.5 603.5,552 616,542 636,522 645,512 645.5,-50 1105,-50 1105.5,408.3 1106.5,399.2 1107,353.4 1107.5,351.1 1108,323 1108.5,320.2 1119,300.1 1123,306.5 1136,288.3 1141,283.5 1141.5,316.8 1142,316.5 1142.5,367.7 1143,369.9 1143.5,370.4 1145,367.5 1146.5,373.9 1147,374 1148,373.5 1148.5,372.3 1149,-50 1184,-50 1184.5,557.9 1185,558.7 1186,555 1188,536.5 1189.5,528.8 1190,544.3 1192,542.7 1193.5,535.7 1195.5,529.3 1196,529.5 1197,531.2 1197.5,531.2 1199.5,524.5 1201.5,522.5 1204,510.6 1207,500.7 1209,491.6 1210.5,487.8 1211,487.5 1212.5,489.2 1214.5,483.6 1216,482.1 1219.5,474.4 1220.5,475.6 1222.5,480 1223,479.7 1226.5,472.8 1228,467.3 1229.5,459.1 1230,458.9 1231,459.6 1232,458.5 1232.5,458.5 1234,460 1239.5,449.2 1241.5,443.3 1243,445.7 1244.5,441.2 1246.5,430.9 1247.5,432.7 1249,434 1250,430.8 1251.5,427.5 1252.5,426.6 1253.5,426.6 1255,422.6 1258.5,410.3 1259,410.4 1261,413 1261.5,413.2 1263.5,406.9 1264.5,405.8 1266,406.2 1269,399.6 1271.5,397.3 1273.5,393.1 1275,392.4 1275.5,391.9 1278,391.7 1279,391 1281,394.3 1281.5,394.6 1283,393.9 1284.5,394.1 1285.5,395.1 1287,395.6 1288.5,393.3 1290.5,388.3 1291,387.4 1291.5,387.3 1293.5,393.4 1294.5,395 1296,400.8 1299,409.8 1300.5,417.9 1305,450 1306,452.5 1307,452.2 1309,449.3 1311.5,440.7 1312.5,440 1313.5,440.2 1314,439.9 1316.5,432.5 1317,432 1317.5,432.1 1318.5,431.2 1320,427.8 1322.5,425.4 1323.5,423.6 1326.5,415.5 1329,413.1 1331,402.5 1331.5,401.3 1334.5,405.5 1335.5,406.4 1336,405.5 1337.5,399.6 1338,393.6 1339,387.6 1339.5,379.5 1340.5,374 1345.5,366.5 1353,357.7 1360.5,352.7 1361,352.5 1364.5,353.7 1369.5,357.4 1372,359.8 1373.5,411.8 1374,413.8 1381,416.1 1387.5,406.1 1394,407.3 1417,404.7 1429.5,399.7 1439.5,394.7 1447.5,388.1 1449.5,385.6 1450,404.8 1452.5,399.8 1453,419.8 1454.5,421.2 1455,421.2 1455.5,407.5 1457,412 1458.5,420.4 1459.5,423.5 1460,423.4 1460.5,422.6 1462,416.5 1462.5,415.6 1464.5,414.9 1465.5,415.1 1466,414.8 1466.5,413.6 1469.5,399.1 1472.5,389.4 1475,375.7 1475.5,374.3 1476.5,374 1477.5,372.7 1478,372.5 1480,373.4 1482,375.3 1484.5,375.1 1486,375.8 1487.5,376 1489,372.3 1492,367 1494.5,371.2 1495.5,375.5 1496,375.5 1497,374.5 1500,377.1 1502.5,382.5 1504.5,382.8 1505.5,382.5 1506.5,383.6 1507,383.6 1507.5,382.9 1508.5,378.2 1509.5,375.5 1510.5,377.5 1511,377.9 1512,375.7 1513,378.1 1513.5,378.4 1516,374.3 1517,374.4 1518,373.9 1520.5,378.6 1521.5,377.8 1524.5,378.2 1525.5,375.8 1526.5,377.9 1528,378.9 1530,372.7 1531,372.2 1532,372.9 1532.5,372.2 1533.5,372 1534.5,372.2 1537,375.9 1538.5,377.5 1539,377.8 1540.5,377 1542,379.2 1543,379.9 1543.5,380.9 1545,377.8 1546,378.4 1547.5,381.5 1549,381.7 1550.5,383.9 1552,385.1 1555,383.5 1556.5,382 1557,384 1559,375 1565,368 1573,362 1578,364 1581,366 1581.5,383.5 1582,383.5 1582.5,386.8 1589.5,398.1 1593,419 1593.5,420.1 1598,419 1616,488.7 1616.5,489.2 1618,485.8 1619,486.8 1620,486.9 1623,480.8 1625,479.2 1626.5,476.1 1628,470.8 1630.5,472.7 1631.5,471.3 1633,467.4 1634,466.3 1635.5,466.3 1638,461.6 1639,461.1 1640,461.8 1640.5,461.7 1642,457.3 1642.5,460.4 1647,449.3 1656,436.9 1666.5,426.7 1667,427.6 1668,433.3 1668.5,434.1 1673.5,427.4 1677,428.2 1677.5,427.7 1682.5,421.1 1687.5,416.1 1702,405.1 1707.5,399.6 1709.5,392.3 1714.5,387.3 1715.5,384.3 1716,411.9 1719.5,401.9 1721.5,389.4 1722.5,-50 1756,-50 1756.5,455.5 1758,452.7 1759,451.6 1761,458.5 1761.5,459.3 1763.5,454.9 1764,454.6 1765,455.6 1766.5,458.4 1767,458.3 1769,455 1771,453.6 1773,446.5 1774,448.9 1775.5,451.3 1777,455 1778,456.3 1783,449.9 1784,451 1785.5,453.9 1786.5,452.8 1788,449.7 1789,449.1 1790.5,449.6 1793,452 1795.5,449.9 1797,449.8 1798,450.1 1799,451.5 1801,456.2 1801.5,456.8 1802.5,457.3 1805,461.9 1809.5,463.3 1810.5,463 1814,450 1814.5,449.1 1816,451.4 1817,452.1 1819,451.9 1820,452.3 1821,452.3 1824,450.5 1825,451 1826,452.5 1826.5,452.2 1827.5,450.1 1829.5,447.4 1831.5,447.4 1834,452.5 1836.5,455.8 1840.5,455.4 1841.5,456.3 1842,456.3 1843,455.2 1844.5,458.8 1846,459.5 1847,460.9 1848,461.4 L1860,461.4 V800 H8 Z" fill="#b33333" stroke="#a00000"/>
<path d="M8,-50 L20,-50 297.5,-50 298.5,616.2 299.5,615 302.5,613.3 303,605 306.5,588.7 307,587 310.5,580 314,577.7 314.5,578.2 316,582.5 316.5,602.3 317,603.8 317.5,-50 369,-50 369.5,668.4 370,667.3 370.5,647.5 375.5,640 379,642.3 381,647.5 381.5,668 383.5,673.7 384,-50 417.5,-50 418,679.8 421.5,675.3 424,668.9 424.5,668.6 425,669 425.5,660 430.5,647.5 438,637.5 443,630 446.5,634.7 447,645.5 448.5,652.5 449,-50 485.5,-50 486,691.6 487,687.2 487.5,678.8 489.5,664.8 490,662.5 493.5,655.5 497,662.5 499.5,669.8 500,677.6 501.5,683.8 502,-50 528,-50 528.5,688 529.5,678.2 530,668.4 533,643 535.5,653 538.5,663 539,669.6 541,671.5 543.5,676.6 546.5,686.5 547,689.2 548,690.6 549,688.5 552,673.4 555,664.8 556,660.5 558.5,656.7 560.5,656.4 561.5,654.2 562,654.3 563,656.3 564,655.5 567.5,618 568.5,613 576,603 583.5,588 591,577 603.5,564.5 616,557 628.5,544.5 638.5,532 645,522 645.5,-50 1105,-50 1105.5,410.8 1106.5,405.3 1107,353.4 1107.5,351.1 1113.5,337.3 1119,326.2 1122,332.3 1122.5,332.2 1129.5,323.5 1136,318.3 1141,317 1142,316.5 1142.5,375.5 1143,376.2 1143.5,376.1 1145,373.6 1146.5,375.8 1148,374.6 1148.5,373.6 1149,-50 1184,-50 1184.5,557.9 1185,558.7 1186,555 1188,537.1 1189.5,529.4 1190,549.1 1192,546 1195.5,535.4 1197,534.5 1197.5,533.7 1199.5,527.1 1201.5,523 1203,516.7 1207.5,504.3 1209,499.3 1210.5,495.9 1211,495.3 1212.5,494.7 1214.5,489.9 1216,487.7 1219.5,480.4 1220.5,480.1 1222.5,480.3 1223,479.7 1226.5,472.9 1229.5,463.8 1231,463 1232.5,461.3 1234,460.9 1239.5,451.4 1241.5,446.9 1243,447 1244.5,443.6 1246.5,437 1247.5,437.1 1249,436.7 1251.5,431.2 1253.5,429 1258.5,416.5 1261.5,415.3 1264,409.5 1266,407.7 1269,401.8 1273,396.3 1275.5,394.9 1278,394.4 1279,393.9 1281,395.3 1284.5,394.6 1287,395.6 1288.5,394.7 1290.5,392.5 1291.5,392.1 1293.5,395.5 1294.5,396.5 1298.5,410.8 1300,417.4 1305,451.6 1306,452.6 1306.5,452.4 1309,450.3 1311.5,443.5 1314,440.4 1316.5,434 1318.5,431.2 1320,427.9 1323.5,424.3 1326.5,418.9 1329,416.7 1331.5,409.6 1334.5,408.5 1335.5,407.9 1336,406.9 1337.5,402.3 1338,393.6 1339,387.6 1339.5,386.4 1345.5,379.2 1353,371.7 1360.5,366.7 1361,366.6 1364.5,367.7 1369.5,373.9 1372,376.4 1373.5,429.6 1374,431.7 1381,434 1387.5,424 1394,426.4 1404,428.9 1416.5,429 1430,423.7 1440,418.6 1446,412.6 1452.5,399.8 1453,425.3 1455,424.6 1455.5,407.5 1457,412.6 1459,422.6 1459.5,423.5 1460,423.4 1462.5,416.2 1463.5,415.6 1465.5,415.4 1466.5,413.6 1469.5,399.3 1472.5,389.5 1475,377.2 1476,375.2 1477.5,374.5 1480,374.9 1482,375.8 1484.5,375.8 1487.5,376.2 1489,374.3 1492,371.7 1494.5,373.8 1495.5,375.9 1497,375.4 1499.5,376.8 1502.5,382.6 1503.5,383.1 1505.5,383.3 1506,383.9 1506.5,383.9 1507.5,382.9 1509.5,377.4 1511,378.4 1512,377.3 1513.5,378.7 1516,376.6 1518,376.4 1520.5,378.8 1521.5,378.4 1524.5,378.6 1525.5,377.4 1526.5,378.4 1528,379 1530,376 1534.5,375.8 1538,378.2 1539,378.6 1540.5,378.1 1543.5,380.9 1545,379.9 1546,380.2 1547.5,381.8 1549,382.2 1551.5,385 1553.5,385.1 1554,386.2 1555.5,386.9 1556,386.8 1556.5,385.8 1563,378 1567,374 1573,371 1578,371 1581,372 1581.5,383.5 1582,383.5 1582.5,386.8 1589.5,398.1 1593,419.1 1593.5,420.1 1598,419 1616,488.7 1616.5,489.6 1618,487.8 1619,488.2 1620,488.1 1623,482.1 1625.5,478.3 1628,472.9 1630.5,472.7 1633,468.8 1634,467.9 1635.5,467.1 1638,463.6 1639.5,462.8 1640.5,462.6 1641,463 1647,453 1655.5,444.5 1666.5,435.6 1667,436.7 1668,442.9 1668.5,444.1 1673.5,441.6 1677,442.5 1682.5,437.1 1688,433.5 1695,430 1702,427.4 1709.5,422.6 1714.5,415.9 1715,414.7 1719.5,401.9 1721.5,389.4 1722.5,-50 1756,-50 1756.5,458.1 1759,456.6 1761.5,460.9 1764,458.8 1766.5,460.5 1767.5,460.1 1769,458.7 1771,457.9 1773,454.1 1777,457.7 1778,458.2 1783,454.6 1785.5,456.4 1788,454.3 1789,453.9 1790.5,454.1 1793,455.1 1796,454.5 1798,455 1799,455.8 1801,458.4 1802.5,459.2 1805,461.9 1809.5,463.3 1810.5,463 1814.5,455.2 1816,455.9 1817,456 1821,455.1 1824,453.4 1825,453.4 1826,453.9 1829.5,450.4 1831.5,450.8 1834,454 1836.5,456.4 1840.5,457.2 1842,458 1843,457.7 1844.5,459.9 1848,462.1 L1860,462.1 V800 H8 Z" fill="#993333" stroke="#800000"/>
<path d="M8,-50 L20,-50 297.5,-50 298.5,616.2 304,612.7 308,607.5 314,601.5 314.5,601.6 317,605 317.5,-50 369,-50 369.5,669.8 375.5,665 380.5,666.2 383.5,673.8 384,-50 417.5,-50 418,680 425.5,670 433,655 440.5,645 445.5,642.5 448.5,652.5 449,-50 485.5,-50 486,693 489.5,679 490,677.8 493.5,674.2 497,675.4 497.5,676 499.5,680 501.5,685.5 502,-50 528,-50 528.5,688 531.5,660.5 534.5,658.2 535,658.8 538.5,670.5 543.5,678 547,691.3 549,689.9 551,680.5 556,663 561,658 564,655.5 567,628 576,620 602,588 611,579.5 621,572 628.5,564.5 636,554.5 641,545.8 645,540 645.5,-50 1105,-50 1105.5,413.2 1106,411.8 1112,407 1119.5,398.2 1122.5,402 1129.5,397 1142.5,383.3 1148.5,374.9 1149,-50 1184,-50 1184.5,557.9 1185,558.7 1186,555 1188,537.7 1189.5,530.1 1190,553.8 1196.5,539.2 1203,518.7 1225.5,474.8 1249,439.3 1272,398.9 1285,395 1294.5,397.9 1295,398.8 1300,420 1305,453.1 1309,451.2 1309.5,450.5 1320,428 1331.5,418 1343,393.3 1359.5,381.8 1368,386.7 1372,392.8 1372.5,400.5 1373.5,443.6 1374,445.8 1381,449.3 1387.5,441.8 1417,448.1 1440,445.4 1445,440.1 1446,434.1 1446.5,432.7 1452.5,431.5 1455,427.9 1455.5,407.5 1459,422.6 1459.5,423.5 1460,423.4 1460.5,422.6 1463,416.1 1465.5,415.8 1466,415 1467.5,409.6 1469.5,399.6 1472,391.6 1474.5,380.4 1476,376.4 1498.5,376.5 1500,377.8 1503,383.4 1503.5,383.7 1505,383.7 1506,384.7 1508.5,381.6 1509.5,379.2 1510,379 1541.5,379.4 1545,382.1 1548.5,382.3 1551.5,385.1 1556.5,387.3 1576,380.1 1576.5,380.4 1577.5,383.1 1582,383.5 1582.5,386.8 1589.5,398.1 1593,419.2 1593.5,420.1 1598,419 1616.5,490 1620,489.3 1626.5,476.5 1637.5,466.1 1647,458.4 1656,453.1 1664.5,448.8 1666.5,451.1 1668,458.5 1673.5,456.8 1676.5,458.4 1688,452.3 1695,449.6 1702,447.9 1709.5,444.1 1716.5,438.8 1719,435.5 1721,427.3 1727,426.4 1730,428.9 1732.5,426.4 1734,431.7 1734.5,432.5 1738,428.9 1741.5,422.8 1744,422 1748.5,429.9 1753,440.6 1755.5,458.8 1756,460.5 1763,463 1772,462.1 1780,459.5 1793,458.3 1809.5,463.3 1814,461.5 1829.5,453.4 1848,462.8 L1860,462.8 V800 H8 Z" fill="#e6e680" stroke="#e0e060"/>
<path d="M8,697.1 L20,697.1 21,695.6 22,698 25,698 26,686.8 26.5,685.2 28,696.3 28.5,698 31,698 32.5,685.1 34,703.2 36,742.2 36.5,747.9 37,748.3 37.5,749.9 40.5,748.5 42,738.7 43.5,747 46.5,745.6 47,744 47.5,745.1 62.5,738 65,738 67.5,718.5 68,722.2 70,729.7 72.5,722.3 74,737.8 75,738 79,735.3 80,728 81,734 85.5,731 89,710.7 89.5,711.3 90.5,716.4 92,720.7 93.5,729.2 94,730.5 95,730.5 99.5,744 101,732.8 101.5,731.9 102,728.8 103.5,716.3 104,714.2 104.5,714.1 105,710.4 108,673.2 111,699.1 113.5,712.5 117.5,711.8 122.5,700.8 125.5,678 126.5,673.9 127.5,674 128,674.3 129.5,707.8 135,738 147.5,688 149.5,686.7 150,683.4 151,680.5 152,680 153,677.8 154,683.5 155,683 161,697.4 165,718 167.5,715.5 168,714.2 170,696 170.5,694.8 171,694.4 172,695.1 173,707.3 173.5,709.5 175,708 180,723 183.5,704.4 184,703.7 186,706.7 188,697.4 190,711.5 191.5,706.5 192,706.3 192.5,706.7 195,717.8 195.5,718.7 196.5,719.3 197.5,720.5 203.5,698.9 204,698 204.5,697.9 206.5,679.6 208,659.9 210.5,685.7 212,674.1 212.5,672.5 213.5,676 214.5,677.3 216,693.9 216.5,695.7 217.5,695.5 222.5,698 224.5,697.6 226.5,690.5 227.5,690.1 229.5,671.1 233,695.9 235,695.5 250,745.5 251,744.6 253,745.9 266.5,747.7 267.5,746.3 268,744.2 270.5,727.2 273,687.2 276,663 277,664.9 277.5,664.3 281.5,641.5 282,635.6 290.5,612.5 297,636.6 297.5,637.2 308,622.5 315.5,616.2 318,617.5 318.5,629.8 320,637.4 321,653.9 323,662.9 323.5,667.8 343,702.5 345.5,702.8 346,701.3 348,686.2 349,689 349.5,689.2 350,691.4 351,703.3 365,704.8 365.5,704.1 366,700.8 369,675.1 369.5,677.5 373,674 375.5,672.1 380.5,672.2 383.5,678.8 384,678.8 384.5,678 385.5,665.7 386,667.6 387,681.9 389.5,700.5 399.5,703.6 401.5,692.4 402,692.9 403.5,703.5 404,705 404.5,705.2 406.5,696.4 409,674.4 410.5,664.5 413.5,700.6 415,695.6 417.5,684.8 418,684.3 418.5,684.4 419.5,686.2 420.5,686.6 421.5,680.2 425.5,675 426,676.5 426.5,673.2 433,661.9 440.5,653.1 445.5,650.3 448,656.6 451,673.9 459,679.8 466,700.5 467,702.2 467.5,703.1 468.5,699.4 469.5,697.3 470.5,692.6 472,700.5 472.5,701.7 474,698.6 475,700.3 475.5,700.3 477,696.9 477.5,698.9 478.5,709.5 479,711.1 483.5,716.3 484,716.4 485.5,695.4 486,698.6 487.5,692.2 489.5,685.9 490,684.9 493.5,681.8 497,682.8 497.5,683.2 499.5,686.3 501.5,690.6 502,688.1 502.5,690.6 503.5,691.2 504.5,692.9 505,693.3 505.5,693.2 506.5,694.8 508,698.5 509,702.5 509.5,702.1 511,697.2 513,710.6 513.5,711 515,703.7 516,703 518,713.8 520.5,702.2 522,713.4 522.5,714.5 523,714.8 526,714.5 528,701.6 529,689.1 531.5,669.8 534.5,667.9 535,668.4 538.5,676.9 543.5,681.9 547,691.3 549,689.9 551,682.5 556,668.2 561,663.1 563,661.6 563.5,668.5 566,644.4 566.5,660.3 580.5,634.4 601,611.9 621.5,593.5 641.5,577.5 662,568.2 674,564.2 674.5,584 675.5,583 676.5,580.7 678,586.5 680,586.5 680.5,-50 746,-50 746.5,702.3 748,694.4 749.5,705.8 751,704.7 752.5,700.3 754,703.1 770,693.2 772,685.1 773,691.4 778.5,688 779,688 780.5,673.8 782,686.1 782.5,686.8 784,679.9 785.5,686.9 786,688 786.5,688 789.5,678 790,679.4 791,688 792.5,691.6 794,690.5 796,699.9 800,708.9 801.5,696.5 803.5,697.5 804,699.7 808.5,683 811,664.2 811.5,662.7 812,664 813.5,660.3 814.5,659.6 815,658.6 815.5,658.6 817,655.7 817.5,655.4 818.5,656.6 819,658.2 820.5,661 822.5,683.5 823,684.1 824,681.3 825,684.4 826,689.9 827.5,693.3 828,696.7 829,697.8 830,694.4 831.5,698.5 833,684.8 834.5,701.8 835.5,702.6 836.5,701.3 838.5,691.8 840.5,706.4 841,706.3 846.5,670.4 848.5,654.6 849.5,656.6 850,656.9 851.5,651.1 852.5,649.5 854.5,660.3 856,673.3 856.5,672.9 857,673.3 858,676.4 859,689.8 859.5,694.4 860,695.9 864,701.2 865.5,694.4 867,705.4 867.5,706.7 870,710.3 872,699.1 872.5,699.3 873,700.5 873.5,700.7 874.5,698.5 875,698.2 875.5,698.1 876,698.6 877.5,698.3 879,707.2 880.5,706.2 882.5,701.9 883.5,700.7 885,700.5 886.5,703 887.5,702.5 890,690.3 891.5,686.3 892,686.6 893.5,694.9 895,683.3 896,696 900,692.5 901.5,682.4 903,688.5 903.5,689.3 905.5,687.5 908.5,660.1 910,666.1 911,679.3 911.5,681.2 912,675.8 913.5,639.5 915.5,646.4 917,644.7 918,640.5 920,657.3 920.5,658 921,657.5 921.5,657.8 923.5,649.5 924.5,647.7 925,647.9 925.5,647.6 926,646.3 927,636.1 928.5,626 930,609.2 931,603.2 932,590.5 933,593.6 934.5,604.3 935.5,606.7 936,606.7 937,609.3 937.5,612 939.5,616.1 940.5,619.1 944,638.7 947,616.3 950,581.6 952,562.8 952.5,562.4 953,562.6 954,564.6 955,557.9 955.5,557.8 957,570.2 959,596.6 959.5,598.3 960.5,600 962.5,613.5 964.5,619 965.5,620.4 968,605.8 969,581.4 970.5,568.8 971,566.5 971.5,566.4 972,565.7 972.5,565.5 973.5,566.1 974,565.9 975,566.7 975.5,568 976,574.9 977,598.7 978,606.6 980,616.4 981,619.2 984,617 985.5,614.6 986,615.3 987.5,620.8 988.5,614.8 989.5,612.7 990,612.4 992,624.1 993.5,629.7 994,630.5 995.5,653.1 997,660.5 998.5,660.4 999,653.6 999.5,660 1000,660.3 1002.5,660.1 1003.5,657.9 1004,659.7 1005,659.9 1007,648.3 1008.5,650 1009,651.7 1012.5,642.7 1013.5,642 1014,641 1015,644.6 1016.5,652.9 1017,654.1 1025.5,656.5 1026,656.3 1028,643.9 1028.5,643.4 1030,646.8 1031.5,638.1 1034,646 1035.5,666.4 1042,683 1043,681.8 1043.5,679.7 1046,655.1 1049,638.5 1051,654 1051.5,655.2 1052,656.1 1053,655.2 1053.5,655.2 1055,657.6 1056,660.2 1056.5,660.6 1058,657.1 1059.5,662.5 1060,662.7 1061.5,672.1 1063.5,672.4 1064,670.5 1064.5,672.6 1067,673 1067.5,671.6 1070.5,650.9 1073,637.9 1073.5,636.9 1074.5,639.1 1075,639.3 1076,631.2 1077,626.3 1078,628.2 1079,628.8 1080.5,634.9 1082,663 1082.5,-50 1089,-50 1089.5,621.6 1090.5,612.2 1092,582.5 1095.5,532.9 1097,519.5 1097.5,519.4 1098,518.7 1098.5,473.3 1102,457 1107,447 1119.5,433.2 1122.5,438.2 1132,429.5 1144.5,417 1184.5,565.6 1185.5,564 1203,524.5 1225.5,481.6 1249,445.2 1271.5,429.4 1274,427 1294.5,425 1295,425.6 1304.5,453.4 1309,451.2 1309.5,450.5 1320,428 1338.5,411.9 1343,406.7 1359.5,396.8 1368,401.7 1372,409.4 1372.5,417 1373.5,459 1374,461 1381,463.3 1387.5,455.8 1396.5,458.3 1417,460.8 1429.5,459.6 1442,455.8 1442.5,455.5 1446.5,448 1452.5,445.6 1459,440.4 1473,417.4 1474.5,406.2 1475,404.3 1476.5,403.5 1477,403.3 1490.5,406.3 1506,405.5 1521,398.5 1536.5,394.1 1552,391 1559.5,386.5 1567,384.9 1578,383.3 1582,383.5 1582.5,386.8 1589.5,398.1 1593,419.2 1593.5,420.1 1598,419 1616.5,490 1628.5,488.4 1643,476.7 1656,470.2 1656.5,470.1 1666,474.8 1671,479.7 1671.5,477 1672,468 1678,468.5 1718,460.5 1718.5,460 1720.5,451.2 1741,459.7 1751,474.7 1756,494 1757,500 1760,500.4 1780.5,500.4 1802,506 1808,497 1811,500.4 1813,501 1814,466 1830,458 1848,467.5 L1860,467.5 V800 H8 Z" fill="#e6e659" stroke="#e0e030"/>
<path d="M8,697.4 L20,697.4 21,696.4 22,698 25,698 26,690.5 26.5,689.5 28,696.9 28.5,698 31,698 32.5,689.4 33.5,696.5 34,703.2 36,743.2 36.5,748.7 37,748.9 37.5,749.9 40.5,748.5 42,741.7 43,746.1 43.5,747 46.5,745.6 47,744.5 47.5,745.1 62.5,738 65,738 67.5,725 68,727.4 70,732.5 72.5,727.5 74,737.9 75,738 79,735.3 80,730.2 81,734 85.5,731 89,717.3 89.5,717.7 90.5,721.1 92,724 93.5,729.6 94,730.5 95,730.5 99.5,744 100,742.8 103.5,716.3 104,714.2 104.5,714.1 105,711.6 108,686.7 111,703.7 113,711.5 113.5,712.5 117.5,711.8 122.5,700.8 126,680.6 126.5,679.9 127.5,681.7 128,682.8 129.5,707.8 135,738 147.5,688 149.5,686.7 150,684.4 151,682.2 152,681.7 153,679.9 154,683.6 155,683 161,697.4 165,718 167.5,715.5 168,714.5 170,701.7 171,700.3 172,700.4 173,708.2 173.5,709.5 175,708 180,723 183.5,705.9 184,705.2 186,707.8 186.5,707.1 188,702.2 190,712 191.5,708.9 192.5,709.2 194,715.2 195,717.9 197.5,720.5 203.5,698.9 204,698 204.5,697.9 206.5,685.5 208,672.4 210.5,689.4 212,681.6 212.5,680.5 213.5,682.8 214.5,683.5 216,694.5 216.5,695.7 217.5,695.5 222.5,698 224.5,697.6 226.5,692.7 227.5,692.4 229.5,679.6 233,695.9 235,695.5 250,745.5 251,744.6 253,745.9 266.5,747.7 267.5,746.4 268,745.1 269,740.9 270.5,729 273,695.1 275.5,677 276,675 276.5,675.3 277,668.5 282,639.8 290.5,632.5 297,646.9 297.5,647.2 308,635 315.5,630 319,632.3 319.5,644.6 320,645.8 321,657.1 323,664.3 323.5,667.8 343,702.5 345.5,702.8 346,701.8 348,691.8 349,693.7 349.5,693.9 350,695.4 351,703.3 365,704.8 365.5,704.4 366,702.2 369,683.9 369.5,685.2 373,681 375.5,679.2 380.5,678.1 383.5,683.9 384,684.1 384.5,683.8 385.5,676.1 386,677.5 387,687.5 389.5,700.5 399.5,703.6 401.5,696.3 402,696.7 403.5,704 404,705 404.5,705.2 406.5,699.5 410.5,677.7 413.5,700.8 417.5,689 418.5,688.5 419.5,689.4 420.5,689.3 421.5,684.7 425.5,680 426,680.8 426.5,678.5 433,668.8 440.5,661.1 445.5,658.1 448,662.3 451,674 459,679.8 459.5,680.8 466,700.5 467.5,703.1 468.5,701.2 469.5,700.4 470.5,697.7 472.5,703.9 474,702 475,703.1 475.5,703.2 477,701 477.5,702.4 478.5,709.5 479,711.1 483.5,716.3 484,716.4 485.5,702.8 486,704.2 487.5,697.4 489.5,692.8 490,692 493.5,689.2 497.5,690.5 500,693.3 501.5,695.8 502,694.2 502.5,696.1 504.5,698 505.5,698.3 506.5,699.5 508,702.1 509,704.9 509.5,704.7 511,701.5 513,710.7 513.5,711 515,706.3 516,705.9 518,713.8 520.5,706.2 522,713.5 522.5,714.5 523,714.8 526,714.5 528,704.4 529,694.7 531.5,679.2 534.5,677.7 535,677.9 538.5,683.3 541,684.9 543.5,685.9 547,691.3 549,689.9 551,684.5 556,673.5 563,666.4 563.5,670.9 566,652.1 566.5,662.5 580.5,640.5 601,620.1 642,587.4 662,580.4 666,578.4 674,576.4 674.5,586.4 675.5,585.6 676.5,584 677.5,586.5 680,586.5 680.5,-50 746,-50 746.5,704.1 748,698.5 749.5,705.8 751,704.8 752.5,701.6 754,703.1 770,693.2 772,687.4 773,691.4 778.5,688 779,688 780.5,678.5 782,686.7 782.5,687.2 784,682.6 785.5,687.2 786,688 786.5,688 789.5,681.3 790,682.3 791,688 792.5,691.6 794,692 796,699.9 800,709.1 801.5,700.9 803.5,699 804,699.9 804.5,698.3 809,681 811,669.1 811.5,667.8 812,668.4 813.5,665.1 815,663.2 816,662 817,661.5 817.5,661.7 818.5,663.3 820.5,667.9 822.5,684.6 823,685.4 823.5,685.2 824,684.4 826,691.7 827.5,694.4 828,696.8 829,697.8 830,695.8 831.5,698.9 833,690.1 834.5,701.8 835.5,702.6 836.5,702 838.5,696.2 840.5,706.4 841,706.5 846,673 848.5,659.5 849.5,660.3 850,660.2 851.5,655.6 852.5,654 854.5,664.2 856,675.1 857,676.6 858,680.2 859.5,694.4 860,695.9 864,701.4 865.5,697.5 867,705.6 870,710.3 872,702.8 873.5,703.8 875,702 876,702 877.5,701.6 879,707.2 880.5,706.3 882.5,703 883.5,702 885,701.6 886.5,703 887.5,702.5 890,693.9 891.5,690.9 892,690.9 893.5,696 895,687.8 896,696 900,692.5 901.5,685.3 903,688.9 903.5,689.3 905.5,687.5 908.5,668.2 910,671.7 911,680.1 911.5,681.2 912,677.4 913.5,652.7 915.5,655.9 917,653.4 918,649.8 919.5,657.4 920,659.2 920.5,659.2 921,658.4 921.5,658.4 923.5,652.1 924.5,650.5 925.5,650 926,648.9 927,641.7 928.5,634.4 930,622.6 931,618.2 932,609.4 933,611.1 934.5,617.9 935.5,619.3 936,619.2 937,620.7 937.5,622.5 939.5,624.8 940.5,626.6 944,638.9 947,623.4 950,599.7 952,586.8 953,586.4 954,587.5 955,582.9 955.5,582.7 957,590.8 959,608.1 959.5,609.2 960.5,610.2 962.5,618.9 964.5,622.4 965.5,623.2 968,613 969,596.6 970.5,587.8 971,586.2 972.5,585.2 974.5,585.3 975.5,586.3 977,606.4 978,611.5 980.5,618.7 981,619.2 984,617 985.5,614.6 986,615.3 987.5,621 988.5,618.4 989.5,618.4 990,618.9 992.5,631.5 994,636.4 995.5,653.5 997,660.5 998.5,660.4 999,655.9 999.5,660.1 1002.5,660.1 1003.5,658.6 1004,659.8 1005,659.9 1007,652.1 1008.5,653.2 1009,654.1 1012.5,646.2 1014,644.7 1017,654.1 1025.5,656.5 1026,656.3 1028,648 1028.5,647.7 1030,650.1 1031.5,644.8 1032,645.4 1034,651.7 1035.5,666.5 1042,683 1043,681.8 1043.5,680.2 1046,662.7 1049,650.4 1051,659.9 1052,660.9 1053.5,660.4 1056.5,664.1 1058,661.9 1059.5,665.6 1060,665.7 1061.5,672.1 1063.5,672.4 1064,671.2 1064.5,672.6 1067,673 1067.5,671.9 1070.5,657.5 1073,648.2 1073.5,647.5 1074.5,648.8 1075,648.7 1076,643.1 1077,639.6 1078,640.7 1079,640.8 1080.5,644.6 1082,663 1082.5,-50 1089,-50 1089.5,637.1 1091,625.4 1092,610.3 1092.5,586.3 1097.5,572.6 1105.5,556.6 1122,533.7 1122.5,537 1127,532 1132,528.2 1144.5,514.5 1157,497 1162,491 1172,520 1184.5,565.6 1185.5,564.2 1203,530.2 1225.5,491.9 1249,458.9 1271.5,445.5 1274,440.9 1274.5,440.6 1294.5,434.1 1295,434.4 1304,453.6 1311,450.1 1320,436 1338.5,425.5 1343,416.7 1359.5,408.4 1368,413.3 1372,422.6 1372.5,432 1373.5,484 1374,486.4 1381,487.6 1387.5,480 1396.5,481.2 1417,482.5 1429.5,481.2 1442.5,478.6 1452.5,468.6 1460,463.5 1473,440.3 1473.5,437 1475,406.8 1476.5,406 1477,405.8 1490.5,408.8 1506,408 1521,401 1536.5,396.6 1552,393.5 1559.5,389 1567,387.4 1578,385.8 1582,386 1589.5,398.1 1593,419.2 1593.5,420.1 1598,419 1616.5,490 1635.5,487.6 1643,482.7 1656.5,478.4 1666,483.8 1671,489.6 1671.5,489.7 1672,489 1678,490 1702,488 1718,486 1718.5,485.5 1720.5,476.7 1741,492.3 1751,509.4 1756,526 1757,533 1760,534 1780.5,538.2 1813,551 1814,513.5 1848,513 L1860,513 V800 H8 Z" fill="#e6e633" stroke="#e0e000"/>
<path d="M8,697.8 L20,697.8 21,697.5 22,698 25,698 26,695.8 26.5,695.4 28.5,698 31,698 32.5,695.4 33.5,697.6 36.5,749.9 37.5,749.9 40.5,748.5 42,745.9 43.5,747 47,745.1 47.5,745.1 62.5,738 65,738 67.5,734.1 70,736.3 72.5,734.9 74,738 75,738 79,735.3 80,733.3 81,734 85.5,731 89,726.5 92,728.5 93.5,730.2 95,730.5 99.5,744 100,744.7 103.5,716.3 104,714.2 104.5,714.1 105,713.3 108,705.4 111,710.2 113,712.3 113.5,712.5 117.5,711.8 122.5,700.8 126,688.1 126.5,688.3 128,694.7 129.5,707.8 135,738 147.5,688 149.5,686.7 151,684.6 153,683 154,683.6 155,683 161,697.4 165,718 168,714.8 170.5,709 172,707.8 173,709.5 173.5,709.5 175,708 180,723 183.5,708.1 184,707.3 186,709.4 188,709 190,712.7 191.5,712.2 192.5,712.5 194,716.7 195,718.1 197.5,720.5 203.5,698.9 204,698 204.5,697.9 206,695.1 208,689.8 210.5,694.6 212.5,691.6 214.5,692.3 216,695.4 216.5,695.7 217.5,695.5 222.5,698 224.5,697.6 226.5,695.9 227.5,695.6 229.5,691.5 233,695.9 235,695.5 250,745.5 251,744.6 253,745.9 266.5,747.7 268.5,745.9 269,744.3 273,706.2 274,697.8 275,693.8 275.5,695 283,690 308,665 315.5,658.8 320.5,657.5 321,661.5 323.5,667.8 343,702.5 345.5,702.8 346,702.5 348,699.7 350,700.9 351,703.3 365.5,704.7 367,702.2 369,696.1 369.5,696 373,690.8 375.5,689.1 380.5,686.4 384,691.5 384.5,691.9 385.5,690.5 388,697.9 389.5,700.5 399.5,703.6 401.5,701.9 402,702.1 403.5,704.6 404.5,705.2 405,705 406.5,703.9 407.5,702.5 410.5,696.1 413.5,701.1 417.5,695 420.5,693.2 421.5,691.1 425.5,687 426,686.9 426.5,685.9 433,678.4 440.5,672.4 445.5,669.1 448,670.3 451,674.1 459,679.8 466,700.5 467.5,703.1 469.5,704.8 470.5,704.8 472.5,707 474,706.6 475.5,707.2 477,706.7 478,708.3 479,711.1 483.5,716.3 484,716.4 486,712.1 487.5,704.7 490,702.1 493.5,699.8 497,700.4 500,701.7 501.5,702.9 502,702.8 503.5,704.6 506.5,706.1 509,708.2 511,707.6 513,710.8 513.5,711 515,709.9 516,710 518,713.8 518.5,713.8 520.5,711.7 522.5,714.5 523,714.8 526,714.5 527.5,710.7 531,693.1 531.5,692.3 535,691.3 538.5,692.3 541,692.3 543.5,691.4 547,691.3 549,689.9 553.5,684.5 556,680.8 561,675.3 563,673.2 563.5,674.1 566,662.9 566.5,664.6 580.5,647.7 600.5,630.7 621,616.3 641.5,604 662,590.6 666.5,588.5 677,586.6 680,586.5 680.5,-50 746,-50 746.5,706.6 748,704.3 749.5,705.8 751,704.9 752.5,703.3 754,703.1 770,693.2 772,690.6 773,691.4 778.5,688 779,688 780.5,685.2 782,687.6 782.5,687.8 784,686.4 786,688 786.5,688 789.5,686 790,686.3 794,694.2 796,699.9 800,709.3 800.5,709 801.5,707.2 804,700.1 808.5,683 810.5,677.1 811.5,674.9 816,667.9 817.5,670.5 820.5,677.6 822.5,686.1 824,688.7 826,694.4 828,696.9 829,697.8 830,697.7 831.5,699.4 833,697.6 834.5,701.9 836.5,703 838.5,702.3 840.5,706.4 841,706.7 846,673 848.5,666.2 850,664.9 852.5,660.3 860,695.9 864,701.6 865.5,701.9 867,705.9 870,710.3 872,707.9 873.5,708.2 877.5,706.1 879,707.2 883.5,703.9 887.5,702.5 891.5,697.3 892,697 893.5,697.6 895,694.2 896,696 900,692.5 901.5,689.4 903.5,689.3 905,688 906,686.5 908.5,679.5 910,679.4 911,681.3 911.5,681.2 913.5,671.2 914.5,670.6 915.5,669.2 918,662.7 920,661.8 923.5,655.6 926,652.6 931,639.2 932,635.7 933,635.6 934.5,637 936,636.7 937.5,637.1 940.5,637.1 944,639.3 947,633.4 952,620.3 953,619.7 954,619.7 955,617.8 955.5,617.6 957,619.6 959,624.2 960.5,624.4 962.5,626.5 965.5,627 968,623.1 969,617.7 970.5,614.4 972,613.1 975,611.8 975.5,611.9 976,613 977,617.3 978,618.4 980,619.2 981,619.2 984,617 985.5,614.6 986,615.3 987.5,621.3 989.5,626.3 991.5,634.5 992,635.2 992.5,638.9 994,644.6 995.5,654.1 997,660.5 998.5,660.4 999,659 999.5,660.2 1002.5,660.1 1003.5,659.6 1005,659.9 1007,657.5 1008.5,657.7 1009,657.4 1012.5,651.1 1013.5,650.1 1014,650 1015,650.9 1017,654.1 1025.5,656.5 1026,656.3 1028,653.8 1030,654.8 1030.5,654.3 1031,654.6 1031.5,654.1 1032,654.2 1034,659.6 1035.5,666.7 1042,683 1043.5,680.8 1046,673.4 1049,667.1 1049.5,667.1 1051,668.2 1052,667.6 1053,667.6 1056.5,669.1 1058,668.6 1060,670 1061.5,672.1 1063.5,672.4 1064,672.1 1064.5,672.6 1067,673 1073,662.8 1073.5,662.3 1075,662 1077,658.3 1079,657.8 1080.5,658.2 1082,663 1082.5,-50 1089,-50 1089.5,668.3 1090.5,667.5 1097.5,650.1 1105.5,634.1 1122,607.3 1122.5,607.2 1124,610.7 1136,604.7 1146,598.7 1156.5,590.4 1163.5,586.4 1165.5,571.9 1166,570.8 1177,563.9 1184.5,565.7 1197,546.9 1215.5,524.2 1226,508.3 1249,483 1271.5,470.7 1272,469.7 1274,461.7 1274.5,461.2 1295,457.9 1338,437.4 1343,430 1359.5,425.1 1368,430 1372,442.3 1372.5,450.8 1373.5,495.8 1374,503.5 1386,509.8 1386.5,509.6 1389.5,502.1 1390,501.8 1409.5,509.9 1430,513.2 1443,510 1456.5,498.2 1463,493.3 1473,480 1474.5,437.6 1475,432.2 1476.5,433.4 1494.5,440.3 1508,439.4 1514,442.4 1529.5,434.3 1547.5,430.3 1560,425 1574,427 1582.5,422 1590,421 1598,419 1616.5,490 1643,486.7 1656,485.7 1664.5,490.6 1667,490.5 1668,493.9 1671.5,498.2 1672,498 1678,499.2 1702,499.2 1718,498.2 1718.5,498 1720.5,494 1741,503.6 1751,520.6 1756,540 1757,547 1760,547.3 1780.5,551.5 1813,569 1814,530 1848,529 L1860,529 V800 H8 Z" fill="#d3d333" stroke="#c8c800"/>
<path d="M8,698 L20,698 33.5,698 36.5,750.4 62.5,738 75,738 86.5,730.5 95,730.5 100,745.5 103.5,716.3 104,714.2 117.5,711.8 123.5,698.5 126,691.2 126.5,691.8 135,738 147.5,688 155,683 161,697.4 165,718 175,708 180,723 183.5,709 184,708.2 188.5,712.3 192.5,714 194,717.3 197.5,720.5 204,698 217.5,695.5 222.5,698 235,695.5 250,745.5 251,744.6 253,745.9 266.5,747.7 267.5,746.8 268.5,747 269,745.8 274,702.2 274.5,699.9 283,695 308,670 315.5,663.8 320.5,662.5 343,702.5 366.5,705 373,695 380.5,690 388,700 408,706.2 423,692.5 433,682.5 445.5,673.8 450.5,673.8 459,679.8 466,700.5 470,707.5 470.5,707.9 478.5,709.5 479,711.1 483.5,716.3 484.5,716.5 485.5,717.7 487.5,707.9 493.5,704.2 501,705.5 503.5,708 516,711.8 518.5,714.2 522,713.9 523,714.8 526,714.5 526.5,713.5 527,713.4 527.5,712 531,698 541,695.5 553.5,686.8 563.5,675.5 566.5,666.7 580.5,650.7 601,635.4 621,621.4 641.5,609.1 662,595.7 666,592.7 677,590.7 680,590.6 680.5,-50 746,-50 746.5,707.7 778.5,688 791,688 800,709.4 800.5,710 801.5,709.8 808.5,683 816,670.5 826,695.5 841,706.8 846,673 852.5,663 860,695.9 870,710.3 874,710.1 891,700.5 905,688 914,678.6 921,660.3 932.5,646.4 955.5,632.5 967,628 978.5,621 984,617 985.5,614.6 986,615.3 991.5,637.9 992,638 992.5,642 997,660.5 1008.5,659.6 1013,652.4 1013.5,652.1 1016.5,652.9 1017,654.1 1019.5,654.8 1025.5,656.5 1026.5,655.8 1030.5,656.9 1031,658.1 1032,658 1042,683 1052,670.5 1067,673 1082,663 1082.5,-50 1089,-50 1089.5,668.3 1091.5,666.9 1097.5,654.2 1105.5,640.3 1115.5,625.3 1122,616.4 1122.5,616.4 1124,619.9 1146,606.9 1156.5,599.6 1163.5,595.6 1165.5,582 1166,580.9 1177,573 1184.5,568.8 1197.5,552.4 1207.5,541.4 1217.5,532.4 1226,521.8 1249,496.8 1271.5,485.6 1272,484.6 1274,476.6 1274.5,476.1 1295,469.3 1343,445 1359.5,440.1 1368,445 1372,455.8 1372.5,464.6 1373.5,512.1 1374,520.2 1386,526.5 1386.5,526.2 1389.5,518.8 1390,518.5 1409.5,526.6 1430,529.9 1443,526.7 1456,515.3 1463,510 1473,496.7 1474.5,450.2 1475,444.3 1476.5,445.6 1494.5,452.6 1508,450.6 1514,454.7 1529.5,446.5 1547.5,442.5 1560,437.3 1574.5,440.3 1590.5,434.3 1598,432 1616.5,493.3 1656,489.4 1659.5,491.1 1667,490.5 1669,497.9 1669.5,499.2 1671,501.2 1671.5,501.5 1672,501 1678,502.2 1702,502.2 1718,501.2 1718.5,501 1720.5,497.1 1740.5,506.2 1741,506.6 1751,523.7 1756,544 1757,551 1760,551.4 1780.5,556.6 1813,574 1814,536 1848,535 L1860,535 V800 H8 Z" fill="#c0c033" stroke="#b0b000"/>
<path d="M8,699.9 L20,699.9 21.5,699.9 22.5,705.1 23,705.5 24.5,705.5 25,700.5 25.5,699.9 28,699.9 29,705.5 30,705.5 31,700.3 31.5,699.9 33.5,699.9 36,745.9 36.5,750.8 37,750.6 38,752.3 40,751.6 40.5,749.6 41,749 43,748.1 43.5,749.8 44,750 46,749.3 47,746.3 48,748.5 62.5,743 64.5,743 65.5,739.2 74,739.2 74.5,742.6 75,743 78.5,741.4 79,737.8 79.5,736.5 80.5,735.9 81,736.7 81.5,740.1 84.5,738.8 85.5,733.1 86.5,732.4 93.5,732.4 95,738 99,746 99.5,745.5 100,746.1 101.5,734.4 102,735.3 104,724.2 105,716.5 113,715.1 113.5,715.2 114.5,717.5 115.5,717.4 116,722 117.5,721.8 121.5,709 123,700.8 126,692.5 126.5,693 129,706 130,713 135,738 145.5,722.2 146.5,717 148.5,700.6 149.5,694.9 150,694.2 154,691.8 155.5,701.9 156.5,701.8 157.5,702.2 158,701.3 160.5,714 162.5,718 163,717.5 163.5,715.3 164,715.9 165,722.5 165.5,722.8 166.5,722.2 167,721.5 168,716.6 173,712.2 174,717.9 174.5,718.2 175,718 180,724.2 183.5,709.6 184,708.8 188.5,712.3 192.5,714 194,717.4 196.5,719.9 197.5,721.8 200,712.4 200.5,713.4 201,712.6 204,705.4 204.5,699.8 216,697.1 216.5,700.9 217.5,700.5 222.5,708 223,707.9 224.5,700.4 225,700 232.5,698.5 233,699.1 233.5,704.5 234,705.7 235,705.5 250,745.5 251,744.6 253,745.9 266.5,747.7 267.5,746.8 268.5,747 269,745.9 274,705.5 274.5,704.9 283,700 308,677.5 315.5,671.2 321.5,669.8 323,671.8 323.5,674.7 324.5,687.4 330.5,693.3 331.5,692.7 332,694.7 343,705 345.5,706.1 346,703.8 350.5,704.8 351.5,709.7 364,716.7 365.5,708 367,707.5 373,698.8 380.5,694.5 388,702.2 389.5,703 391,705 392,705.2 393,706.7 393.5,706.8 394,705.6 394.5,706 395.5,710 398,710 399.5,705.6 400,705.3 403.5,706.1 404,707.1 405,706.5 408,707.2 423,694.4 433,685 445.5,676.9 450.5,676.9 451,677.1 452,685.1 452.5,686.6 459,689.9 459.5,690.6 466.5,706.2 467,706 467.5,704.2 470.5,707.9 478.5,709.5 479,711.1 483.5,716.3 484.5,716.5 485.5,717.7 487.5,709.1 493.5,705.8 501,706.8 503.5,708.7 513,711.3 513.5,712.4 514,711.5 516,712.1 518,714.3 522,713.9 523,714.8 526,714.5 527.5,712.3 531,699.9 541,697.1 547.5,692.8 548,695.2 548.5,692.2 553.5,688.9 563.5,678.6 566.5,668.8 580.5,653.8 601,639.5 621.5,627.2 662,600.8 666,597.8 677,594.8 680,594.3 680.5,633.3 682,630.5 682.5,-50 746,-50 746.5,708 749,706.7 749.5,708 750,707.9 750.5,707.3 751,705.6 753.5,704.2 754.5,706.3 755.5,706 756,704.7 757,704.5 757.5,705.1 758,705.1 761,704.1 762,701.5 763,703.4 769.5,701.1 770.5,694.9 772.5,693.8 773.5,699.7 778,698.2 778.5,696.8 779,691.7 779.5,690.5 785.5,690.1 786,691.6 786.5,690.1 790.5,689.9 791,691.1 791.5,696.4 792,696 792.5,694.5 793,694.3 795.5,699.9 796.5,704.8 797,705.6 797.5,705.6 798.5,707.3 799.5,709.9 800,709.5 800.5,710 801.5,709.9 804,701.4 804.5,703.2 807,697 809,684.8 816,674.9 826,696.1 828,697.6 828.5,698.4 829.5,698.7 834.5,702.3 835,704 835.5,704.1 836,703.4 841,707.1 845,692 846.5,676.1 852.5,668 859,693.2 859.5,697.1 860,698.3 863.5,703 864,702.1 867,706.4 868.5,709.7 869.5,711 870,711 870.5,710.2 874,710.1 879,708 879.5,709.8 880,709.6 880.5,707.2 886,704.3 887,706.9 887.5,706 888,703.3 891,701.8 895.5,697.5 896.5,699.4 899,696.5 900,693.3 903,690.4 903.5,691.7 905.5,689.7 906,687.5 911,682.8 911.5,685.6 912,681.8 914.5,678.2 921,662 932.5,648.7 944,641.8 955.5,635.4 967,630.9 980.5,622.4 981,623 982,629.6 984,628 985.5,628 986.5,630.3 987.5,624.4 989.5,630.8 990,633.5 991.5,638 992,638 992.5,643.8 995.5,655.3 996,659.9 997,663 998,662.9 998.5,661.1 999,661 999.5,660.9 1000,662.8 1002.5,662.6 1003,660.7 1004,660.6 1005,662.3 1005.5,660.5 1007,660.3 1008.5,659.6 1013,652.4 1013.5,652.1 1016.5,652.9 1017,654.1 1019.5,654.8 1025.5,656.5 1026.5,655.8 1030.5,656.9 1031,658.1 1031.5,658.7 1032,658.6 1035.5,667.4 1036,670.5 1038.5,676.6 1042.5,685 1043.5,682.1 1052,673.8 1061,674.4 1062,681.5 1062.5,681.1 1063.5,675 1064,674.6 1064.5,674.9 1065.5,678.8 1066,679.3 1067.5,674.6 1081.5,665.8 1082,672.7 1084,664 1085,669.8 1085.5,670.8 1086,670.5 1087.5,654.9 1089,627.4 1089.5,668.3 1093,665.9 1097.5,658.4 1105.5,646.4 1116,634 1122,629.4 1122.5,629.5 1124,632.1 1136,624.1 1163.5,607.8 1165.5,593.3 1166,592.1 1184.5,574 1207.5,550.6 1217.5,542.6 1227.5,532.6 1234,522 1249,511.8 1271.5,502.7 1272,501.8 1274,493.9 1274.5,493.4 1295,486.5 1338.5,464.8 1359.5,458.4 1368,463.3 1372,475.6 1372.5,484.2 1373.5,529.2 1374,536.8 1386,543.2 1386.5,542.9 1389.5,535.4 1390,535.1 1409.5,543.3 1430,546.6 1443,543.3 1456,533.6 1463,526.7 1473,513.3 1474.5,477.3 1475,472.3 1476.5,468.4 1516.5,478.3 1543,470 1576,465.1 1589.5,463.4 1596.5,470.4 1608,496.7 1618,496.5 1620.5,496 1641,494 1661,491 1667,490.5 1671,505.3 1671.5,506 1672,504 1678,505.3 1702,506.3 1718,506.3 1718.5,506.1 1720.5,501.2 1740.5,511.2 1751,527.8 1756,548 1757,556 1780.5,561.7 1813,579 1814,543.3 1848,543 L1860,543 V800 H8 Z" fill="#adad33" stroke="#989800"/>
<path d="M8,702.5 L20,702.5 21.5,702.5 22.5,705.3 23,705.5 24.5,705.5 25,702.8 25.5,702.5 28,702.5 29,705.5 30,705.5 31,702.8 33.5,702.5 36,746.9 36.5,751.3 37,751.2 38,752.3 40,751.6 40.5,750.4 43,749.2 43.5,750 44,750 46,749.3 47,747.5 48,748.5 62.5,743 64.5,743 65.5,741 74,741 74.5,742.8 75,743 78.5,741.4 79,739.4 79.5,738.6 80.5,738.1 81,738.4 81.5,740.1 84.5,738.8 85.5,735.6 86.5,735 93.5,735 99,746 100,747 101.5,736.3 102,735.3 103.5,725.8 105,720 113.5,718.6 114.5,719.7 115.5,719.6 116,722 117.5,721.8 121.5,709 123,702.4 126,694.2 126.5,694.7 135,738 145.5,722.2 149.5,705.8 154,703.1 155.5,708.1 157.5,707.8 158,707.2 160.5,714 162.5,718 163,718.2 163.5,717.5 164,718.3 165,722.7 166.5,722.2 167,721.7 168,718.9 173,715.4 174,718.2 175,718 180,724.2 183.5,710.4 184,709.7 186.5,711.8 187.5,711.8 192.5,714 195,719.1 197.5,721.8 200,713.8 200.5,713.7 201,712.6 204,705.4 204.5,702.3 216,698.9 216.5,700.9 217.5,700.5 222.5,708 223,707.9 224.5,703.8 225,703.5 232.5,702 233,702.3 233.5,705.1 234,705.7 235,705.5 250,745.5 251,744.6 253,745.9 266.5,747.7 267.5,746.8 268.5,747 269,746 273,714.1 274,710.2 283,705 295.5,693.8 308,683.8 315.5,678.8 321.5,677.5 323,678.5 324.5,687.5 330.5,693.3 331.5,693.4 332,694.7 343,705 345.5,706.3 346,705.1 350.5,706.8 351.5,709.7 364,716.7 365.5,712.4 367,711.4 373,704 380.5,700.9 383,701.8 388,705.2 389.5,705.8 391,707.1 392,707.3 393,708.2 393.5,708.3 394,707.7 394.5,707.9 395.5,710 398,710 399.5,707.7 400,707.5 403.5,707.9 404,708.5 405,708.1 408,708.5 423,697 433,688.5 445.5,681.2 451,681.4 452,685.7 452.5,686.6 459,689.9 466.5,706.2 467,706.5 467.5,705.6 470.5,707.9 478.5,709.5 479,711.1 483.5,716.3 484.5,716.5 485.5,717.7 486,716.8 487.5,710.9 493.5,708 501,708.5 503.5,709.6 513,711.8 513.5,712.4 514,712 516,712.5 518,714.3 522,713.9 523,714.8 526,714.5 526.5,713.5 527,713.4 528,711.8 531,702.5 541,699.2 547.5,695.5 548,696.6 548.5,694.9 553.5,692 563.5,683 566.5,673 580.5,662 601,649.7 621.5,640.5 641.5,634.5 662,630.4 677,623.4 680,622.4 680.5,635.1 682,633 682.5,-50 746,-50 746.5,708.5 749,707.4 749.5,708 750,707.9 751,706.5 753.5,705.3 754.5,706.3 755.5,706 756,705.2 758,705.1 761,704.1 762,702.5 763,703.4 769.5,701.1 770.5,697.6 772.5,696.7 773.5,699.7 778,698.2 778.5,697.4 779,694.6 779.5,693.9 785.5,693.2 786,693.9 786.5,693 790.5,692.6 791,693.2 791.5,696.4 792,696.6 792.5,696.2 793,696.5 795.5,701.5 796.5,705 799,709.1 799.5,709.9 801.5,710 804,703.1 804.5,703.4 807,697 809,688.5 816,681 826,697 834.5,702.9 835,704 836,704 841,707.5 845,692 846.5,681.5 852.5,675 859,694.7 859.5,697.3 863.5,703 864,702.9 869.5,711 870,711 870.5,710.2 874,710.1 879,708.9 879.5,709.8 880,709.6 880.5,708.2 886,705.8 887,706.9 888,704.9 891,703.5 895.5,698.9 896.5,699.4 899,696.6 900,694.3 903,691.2 903.5,691.7 905.5,689.7 906,688.4 911,684.2 911.5,685.6 912,683.3 914.5,679.1 921,664.4 932.5,651.9 944.5,644.7 955.5,639.4 967,634.8 978.5,627.9 980.5,626.3 981,626.5 982,629.6 984,628 985.5,628 986.5,630.3 987.5,628.6 988,630.2 989.5,632.4 990,636 991.5,638.1 992,638 992.5,646.2 997,663 998,662.9 998.5,661.9 999,661.9 999.5,661.8 1000,662.8 1002.5,662.6 1003,661.6 1004,661.5 1005,662.3 1005.5,661.4 1007,661.1 1008.5,659.6 1013,652.4 1013.5,652.1 1016.5,652.9 1017,654.1 1019.5,654.8 1025.5,656.5 1026.5,655.8 1030.5,656.9 1031.5,659.5 1032,659.5 1038,675.5 1042.5,685 1043.5,683.6 1052,678.3 1061,677.8 1062,681.5 1062.5,681.2 1063.5,677.9 1064.5,677.8 1065.5,679.8 1066,680 1067.5,677.2 1081.5,669.3 1082,672.8 1084,667.6 1085,670.4 1085.5,670.8 1086,670.5 1087.5,661.7 1089,646.6 1089.5,668.3 1092,666.8 1099,660.9 1105.5,653.6 1122,642.3 1122.5,642.3 1124,644.4 1136,638.4 1146.5,632.1 1156.5,628.1 1163.5,626.1 1165.5,615.5 1166,614.5 1176.5,604 1197.5,587.2 1207.5,581.2 1218,575.8 1228,567.7 1234,558.8 1245,553.7 1271.5,545.2 1272,544.4 1274,537.4 1274.5,536.9 1295,527.8 1338.5,509.5 1359.5,505 1368,511.7 1372,522.4 1372.5,530.2 1373.5,571.5 1374,578.6 1386,588.1 1386.5,587.9 1389.5,580.4 1390,580.1 1409.5,586.6 1430,590.9 1443,588.3 1456.5,579.8 1470.5,565.8 1473,555.3 1473.5,550.3 1474.5,524.3 1475,519.3 1476.5,516.7 1496.5,523.4 1516.5,528.3 1543,521.7 1576.5,518.3 1603,518.3 1613,511 1616,497 1620.5,496 1641,494 1661,491 1667,490.5 1672,509 1678,510.5 1702,513.5 1718,514.5 1718.5,514.2 1720.5,508.4 1740.5,519.4 1751,535.9 1756,560 1757,574 1760,575 1780.5,578.1 1811,594.3 1813,595 1814,556.5 1848,556 L1860,556 V800 H8 Z" fill="#999933" stroke="#808000"/>
<path d="M8,705.5 L20,705.5 33.5,705.5 34,710.2 36,748 36.5,752 37.5,751.9 38,752.3 62.5,743 75,743 86.5,738 95,738 100,748 103.5,725.8 104,724.2 117.5,721.8 123.5,702.5 126,696.1 126.5,696.7 129.5,710.2 135,738 147.5,719.2 160,713 165,723 175,718 180,724.2 183.5,711.4 184,710.7 186.5,712.7 187.5,712 192.5,714 195,719.7 197.5,721.8 204,705.4 217.5,700.5 222.5,708 235,705.5 250,745.5 251,744.6 253,745.9 266.5,747.7 267.5,746.8 268.5,747 269,746.1 273,716.2 283,710 295.5,700 315.5,686.2 323,686.2 343,705 365.5,717.5 373,710 383,707.5 393,710 408,710 423,700 433,692.5 445.5,686.2 452,686.4 459,689.9 466,705.5 467,707 478.5,709.5 479,711.1 483.5,716.3 484.5,716.5 485.5,717.7 486,717.6 487.5,712.9 493.5,710.5 502.5,710.5 516,713 517.5,714.4 522,713.9 523,714.8 526,714.5 526.5,713.5 528,713 531,705.5 541,701.8 553.5,695.5 563.5,688 566,678.8 566.5,678.2 580.5,670.2 601,661 621,655 641.5,649.8 662,645.7 666,640.8 678,639.2 682,635.9 682.5,-50 746,-50 746.5,709.1 778.5,698 791,695.5 799,709.5 799.5,709.9 802,710.1 808.5,693 816,688 826,698 841,708 846,688 852.5,683 860,698.3 869.5,711 870,711 870.5,710.2 879.5,709.8 891,705.5 905,690 912,685.1 921,667.2 932.5,655.6 944,648.7 967,639.4 978.5,632.5 984,628 985.5,628 986,628.8 988,634.8 989.5,634.2 990,638.8 992,638 992.5,649 997,663 1005,662.4 1007,662 1013,652.4 1013.5,652.1 1016.5,652.9 1017,654.1 1019.5,654.8 1025.5,656.5 1026.5,655.8 1030.5,656.9 1031.5,660.5 1032,660.5 1038,675.5 1042.5,685 1043.5,685.2 1067,680.5 1082,673 1092,666.8 1107,654.2 1119.5,645.5 1123.5,650.6 1132,653 1144.5,651 1162,644.2 1166,627.8 1182,618 1207,605.5 1227,598 1232,588 1242,574.2 1243,573.7 1271,565.4 1274,561.9 1309.5,550.4 1359.5,539.4 1368,547 1372,559.3 1372.5,566.6 1373.5,604.1 1374,610.4 1386,612 1386.5,611.6 1389.5,605 1390,604.7 1443,613.7 1451,612.1 1451.5,611.7 1456.5,601.9 1463,597 1473,555.3 1476.5,549.4 1509.5,558 1543,552 1576.5,552.6 1603,548 1613,545.3 1616.5,536 1656,532 1666,534.6 1666.5,535 1671.5,545.5 1676.5,549.4 1716,553.6 1723,548.7 1733,552 1743,563.7 1749.5,576.7 1756.5,609.4 1776.5,614.7 1809.5,625.9 1813.5,593.4 1814,592 1848,594.6 L1860,594.6 V800 H8 Z" fill="#a6e6a6" stroke="#90e090"/>
<path d="M8,707.5 L20,707.5 22.5,707.4 23.5,714.6 24,714.3 24.5,708.2 25,707.3 29,707.3 29.5,710.9 30,708 30.5,707 33.5,706.8 34,711.4 36,748 36.5,752 37.5,751.9 38,752.8 39.5,752.7 40.5,751.4 43.5,750.5 44.5,752.2 45.5,752.1 46.5,749.5 47.5,749.2 48.5,751.8 49.5,751.7 51,748 53.5,751.4 58.5,750.9 59.5,748.7 60.5,747.8 61.5,745.3 62,746 63,749.5 63.5,750.5 64,750.5 65,744.3 74.5,744.4 75,748.9 75.5,749.9 77.5,751 78.5,743.4 81,742.3 81.5,742.9 82.5,750.9 83.5,747.2 84.5,741.3 86.5,740.5 94.5,740.5 95,741.3 96.5,751.6 98.5,751.7 99.5,747.7 100,748.5 101.5,739.9 102,738.5 102.5,742.1 103,740.8 104.5,726.7 115.5,724.7 116,724.8 117,735.3 117.5,735.5 120,723.5 122,708.5 124,701.7 126,696.7 126.5,697.2 129.5,710.2 135,738 141,738 142,734.6 143,738 144,738 145,729.5 146,724.6 147.5,722.8 160,717.5 161.5,725 162,724.8 163,722.2 165,725.3 166,728.8 167,724.5 174,721.5 174.5,722.1 176,731.8 177,731.8 179.5,728.6 181,721.1 183.5,711.7 184,711 186.5,712.7 187.5,712 192.5,714 195,719.7 197,721.6 197.5,723.2 198.5,719.8 200.5,715.2 202,716.4 203,718.8 204,708 204.5,707.6 216.5,703.7 217,710 218.5,715.6 220.5,715.9 221.5,714.8 222.5,712.8 223.5,709.3 233.5,708 234.5,716.9 244,734.5 244.5,734.4 245.5,735.2 247.5,740.7 248,741.8 248.5,741.8 250,745.5 251,744.6 253,745.9 266.5,747.7 267.5,746.8 268.5,747 269,746.2 273,720.7 283,714.9 295.5,706.2 308,698.5 315.5,694.3 323,694.4 324.5,695.5 325,701.2 325.5,701.9 326,701.4 327,702.1 329,709.1 329.5,708.7 331,700.5 331.5,700.9 333,709.3 334,708.4 334.5,708.9 335.5,708.5 337.5,720.2 338.5,715.2 339.5,713.2 340.5,708.1 341.5,713.9 343,727.3 343.5,728.6 344,728.9 344.5,726.4 345.5,710.9 351,713.5 352,718.4 352.5,718.9 353.5,721.7 354.5,722.9 355.5,727.3 356,728.1 357.5,726 358,726.3 358.5,730.2 359,731.2 361,731.4 361.5,730.6 362.5,725.2 363,725.5 364.5,719.7 365.5,720.1 373,713.4 383,710.9 390,712 393,712.1 395,711.8 397,715.6 398.5,711.3 408,710 433,694.6 445.5,689.6 452,689.8 453,698.7 454.5,704.6 465,705.5 466,708 466.5,707.1 467,707 478.5,709.5 479,711.1 483.5,716.3 484.5,716.5 485.5,717.7 486,717.7 487.5,713.9 493.5,711.7 502.5,711.4 516,713.3 517.5,714.4 522,713.9 523,714.8 526,714.5 526.5,713.5 528,713.1 531,706.9 541,703.3 553.5,697.8 563.5,691.2 566.5,682.2 580.5,674.2 601,666.1 641.5,653.9 662,648.8 666,644.8 682.5,641.6 692.5,636 697,637.5 697.5,644.6 699.5,643.8 700,-50 746,-50 746.5,709.2 749,708.5 749.5,708.6 750,709.5 750.5,708 754,707.1 754.5,708.3 755,708.5 755.5,706.7 757.5,706.1 758.5,709.4 759,710.4 759.5,710.4 761,705.4 762.5,704.7 764,710.3 768,710.3 769,707.5 769.5,703.1 770,702.6 773,701.8 774,710.2 776.5,710.2 778,704.7 778.5,700.2 791,698.2 799,709.6 799.5,709.9 802,710.1 804.5,705 805.5,710.5 807,700.3 808.5,696.5 816,692.7 826,700.7 834.5,705.2 835,706.4 835.5,705.7 841,708.6 841.5,707 843,706.3 844.5,701.6 845.5,694.2 846,692.6 852.5,688.6 859.5,700.1 860,703.2 862,710.5 862.5,710.4 864,705 869,710.2 869.5,711.2 870,711 870.5,710.2 879.5,709.9 891,706.3 896,701.5 896.5,707.3 899,698.6 903,694.7 903.5,695.9 904.5,703.2 906,692.2 911,689 911.5,691.3 912,688.3 914,685 914.5,687.5 923.5,672.9 932.5,662.6 944,655.6 967,646.3 978.5,640.5 984,634 986,635.4 989.5,634.2 990,638.8 992,638 992.5,652.3 995.5,659.6 996.5,665.6 998,665.2 998.5,663.1 999.5,663 1000,664.8 1002.5,664.1 1003,662.7 1007,662 1013,652.4 1013.5,652.1 1016.5,652.9 1017,654.1 1019.5,654.8 1025.5,656.5 1026.5,655.8 1030.5,656.9 1031.5,660.5 1032,660.8 1035.5,669.3 1036,671.4 1042.5,685 1044.5,685.6 1061.5,682.7 1062,684.9 1062.5,682.6 1067,681.8 1082,674.8 1085,673.1 1085.5,674.7 1086.5,672.2 1091.5,669.4 1092,668 1119.5,650 1123.5,655.1 1132,657.5 1144.5,655.5 1162,648 1166,635.3 1182,625.5 1207,614.2 1227,606.8 1232,599.2 1243,587 1271,582.1 1271.5,581.5 1273.5,575.8 1274,575.3 1309.5,568.7 1359.5,564.7 1368,570.3 1372,582.6 1372.5,589.5 1373.5,624.5 1374,630.4 1386,633.6 1386.5,633.3 1389.5,627.3 1390,627.1 1409.5,630.3 1443,637 1456,624 1463,618.7 1473,580.3 1476.5,574.7 1509.5,583.6 1543,578.7 1576.5,580.3 1603,575.3 1613,572 1616.5,565.3 1656,561.4 1666,563.6 1666.5,564.1 1671.5,577.1 1676.5,580.3 1716,583.6 1723,578.7 1733,582 1743,593.7 1749.5,606.7 1756.5,632 1776.5,637.1 1809.5,647.9 1813.5,619.9 1814,618.7 1848,621.9 L1860,621.9 V800 H8 Z" fill="#80e680" stroke="#60e060"/>
<path d="M8,709.5 L20,709.5 22.5,709.3 23.5,714.6 24,714.3 24.5,709.8 25,709 29,708.8 29.5,711.4 30,709.2 30.5,708.4 33.5,708.1 34,712.5 36,748 36.5,752 37.5,751.9 38,752.8 39.5,752.7 40.5,751.5 43.5,750.7 44.5,752.2 45.5,752.1 46.5,749.9 47.5,749.6 48.5,751.8 49.5,751.7 51,748.7 52,749.9 53,750.4 53.5,751.4 58.5,750.9 59.5,749 60.5,748.3 61.5,746.4 63.5,750.5 64,750.5 65,745.6 74.5,745.8 75,749.1 76.5,750.7 77,750.6 77.5,751 78.5,745.1 81,744.2 81.5,744.7 82.5,750.9 84.5,743.6 86.5,742.9 94.5,743 95,743.6 96.5,751.6 98.5,751.7 99.5,748.5 100,749.1 102,739.7 102.5,742.1 103,740.8 104,731.3 104.5,729.2 116,727.3 117,735.3 117.5,735.5 120,723.5 122,709.6 124,702.2 126,697.2 126.5,697.7 129.5,710.2 135,738 141,738 142,735.2 143,738 144,738 145,731.4 146,727.7 147.5,726.4 160,721.9 161.5,727.5 162,727.4 163,725.4 165,727.6 166,730.2 167,726.9 174,724.5 174.5,724.9 176,731.9 177,731.8 179.5,728.6 181,721.6 183.5,712 184,711.3 185.5,712.5 186.5,712.7 187.5,712 192.5,714 195,719.8 197,721.9 197.5,723.2 198.5,720.4 200.5,716.5 202,717 203,718.8 204,710.2 216.5,706.4 217,711.1 218.5,715.6 220.5,715.9 222.5,713.4 223.5,710.8 233.5,710.2 234.5,716.9 235,718 244,734.5 244.5,734.4 245.5,735.4 247.5,740.7 248,741.8 248.5,741.8 250,745.5 251,744.6 253,745.9 266.5,747.7 267.5,746.8 268.5,747 269,746.2 273,725.1 283,719.8 300,709.9 312.5,703.5 315.5,702.3 323,702.5 324.5,703.4 325,707.6 325.5,708.2 326,707.8 327,708.4 329,713.7 329.5,713.4 331,707.3 331.5,707.6 333,713.9 334,713.3 334.5,713.6 335.5,713.4 337.5,722.2 338.5,718.5 339.5,717 340.5,713.2 341.5,717.6 343,727.7 343.5,728.6 344,728.9 344.5,727.1 345.5,715.5 351,717.5 352,721.2 353.5,723.7 354.5,724.6 355.5,727.9 356,728.6 357.5,727 358,727.3 358.5,730.2 359,731.2 361,731.4 361.5,730.6 362.5,726.6 363,726.8 364.5,722.5 365.5,722.7 373,716.7 383,714.3 390,714.9 395,713.6 395.5,713.9 396.5,715.8 397,716.1 398.5,712.5 408,710 412.5,707 433,696.8 437.5,695.1 445.5,692.9 452,693.2 453,699.9 454.5,704.6 465,705.5 466,708 466.5,707.1 467,707.1 478.5,709.5 479,711.1 483.5,716.3 484.5,716.5 486,717.9 487.5,714.9 493.5,712.9 503.5,712.2 516,713.6 517.5,714.4 522,713.9 523,714.8 526,714.5 526.5,713.5 528,713.1 531,708.3 553.5,700.1 563.5,694.4 566.5,687.4 580.5,680.4 601,671.2 621,664.2 641.5,658 662,652.9 666,649.9 682.5,647.7 694.5,645.7 699.5,643.8 700,660.3 700.5,660.8 701.5,660.7 702.5,657.4 703,-50 746,-50 746.5,709.2 749,708.7 750,709.5 750.5,708.4 754,707.7 754.5,708.6 755,708.7 755.5,707.4 757.5,706.9 759,710.4 759.5,710.4 761,706.4 762.5,705.8 764,710.3 768,710.3 769,708 769.5,704.6 773,703.6 774,710.2 776.5,710.2 778,705.8 778.5,702.5 791,700.9 799.5,709.9 802,710.1 804.5,706.3 805.5,710.5 807,702.9 808.5,700.1 816,697.4 826,703.3 834.5,706.7 835,707.6 835.5,707 841,709.2 841.5,708 843,707.4 844.5,703.9 845.5,698.4 846,697.2 852.5,694.1 859.5,702.7 860,705 862,710.5 862.5,710.4 864,706.4 869,710.2 869.5,711.2 870,711 870.5,710.2 879.5,709.9 891,707.1 896,703 896.5,707.3 899,700.5 903,697.2 903.5,698 904.5,703.5 906,695 911,692.1 911.5,693.8 912,691.5 914,688.8 914.5,689.6 923.5,678.3 932.5,669.4 944,662.5 978.5,648.6 984,640 986,640.4 992,638 992.5,655.6 996,662.2 996.5,665.6 998,665.2 998.5,663.4 999.5,663.2 1000,664.8 1002.5,664.1 1003,662.7 1007,662 1013,652.4 1013.5,652.1 1016.5,652.9 1017,654.1 1019.5,654.8 1025.5,656.5 1026.5,655.8 1030.5,656.9 1031.5,660.5 1035.5,669.3 1036,671.4 1042.5,685 1043,685.1 1044.5,686.3 1061.5,683.9 1062,685.5 1062.5,683.7 1067,683.1 1085,675.1 1085.5,676.3 1086.5,674.3 1091.5,671.7 1092,670.5 1107,663 1119.5,655.5 1123.5,660.6 1132,663 1144.5,661.8 1157,658 1162,654.2 1166,641.6 1182,633 1207,623 1227,615.5 1232,608 1242,603.5 1243,600.3 1271,597 1274,595.3 1309.5,587 1359.5,578.7 1368,587 1372,599.3 1372.5,605.8 1373.5,638.2 1374,643.7 1386,645.3 1386.5,644.8 1389.5,635.8 1390,635.4 1409.5,638.6 1443,647 1456,637.2 1463,630.3 1473,597 1476.5,592 1509.5,601.3 1543,597 1576.5,599.3 1603,593.7 1613,590.3 1616.5,583.7 1656,581.4 1666,583.6 1666.5,584.1 1671.5,597.1 1676.5,600.3 1716,603.6 1716.5,603.5 1723,598 1733,600.3 1743,612 1749.5,625 1756.5,645.4 1776.5,650.4 1809.5,660.3 1813.5,638 1814,637 1848,640.2 L1860,640.2 V800 H8 Z" fill="#59e659" stroke="#30e030"/>
<path d="M8,715.6 L20,715.6 33.5,712.1 34,716 36,748 36.5,752 37.5,751.9 38,752.8 39.5,752.7 40.5,751.6 43.5,751.3 44.5,752.2 45.5,752.1 46,751.1 48,750.9 48.5,751.8 49,751.8 49.5,751.7 50,750.7 53,750.4 53.5,751.4 54.5,751.3 58.5,750.9 59,749.8 62.5,749.5 63,749.5 63.5,750.5 64,750.5 64.5,749.6 75.5,749.9 77.5,751 78,750 82,750.1 82.5,750.9 83,750.2 90.5,750.4 96,750.6 96.5,751.6 98.5,751.7 99,750.7 100,750.8 104,737 116.5,734.7 117.5,735.5 123.5,705.7 126,698.9 126.5,699.2 129.5,710.2 135,738 141,738 141.5,737 142.5,737 143,738 144,738 144.5,737 147.5,737 175,733.2 176,732 177,731.8 179.5,728.6 183.5,713 184,712.2 185.5,713.3 187.5,712 192.5,714 196,722 197.5,723.2 202.5,718.2 203,718.8 203.5,717.2 204,717 217.5,714.5 218,714.6 218.5,715.6 219.5,715.8 220.5,715.9 221,715.1 221.5,715.1 234.5,716.9 244,734.5 244.5,734.4 247,739 248,741.8 248.5,741.8 250,745.5 251,744.6 253,745.9 266.5,747.7 267.5,746.8 268.5,747 269,746.2 271.5,739.3 275,737 300,729.5 312.5,726.2 325,727 358.5,730.2 359,731.2 361,731.4 361.5,730.6 362,730.5 365,730.8 375,725.8 390,723.2 397.5,717 412.5,707 425,704.5 437.5,702.5 454,703.6 454.5,704.6 465,705.5 466,708 466.5,707.1 478.5,709.5 479,711.1 483.5,716.3 484.5,716.5 486,718.2 503.5,714.5 516,714.5 522,713.9 523,714.8 526,714.5 526.5,713.5 528.5,713.2 541,709.5 553.5,707 566,703.2 678.5,680.8 691,680.2 698.5,679.5 700,670.9 702,661.9 702.5,661.2 706,667 711,663.2 716,662 723.5,657 727.5,662.7 729.5,669 731,672 735.5,689.5 736,689.5 737.5,693.5 738.5,695.5 739,695.5 740.5,698.5 741,700.5 745.5,709.5 758.5,709.4 759,710.4 759.5,710.4 760,709.3 763.5,709.3 764,710.3 766,710.3 768,710.3 768.5,709.4 769,709.2 773.5,709.2 774,710.2 776.5,710.2 777,709.2 791,709 816,711.5 869,710.2 869.5,711.2 870,711 870.5,710.2 891,709.5 916,699.5 931,697 932,687 982,679.5 986,666.9 996,664.7 996.5,665.6 997,665.5 998,665.2 998.5,664.1 999.5,663.9 1000,664.8 1002.5,664.1 1003,663 1007,662 1013,652.4 1013.5,652.1 1016.5,652.9 1017,654.1 1019.5,654.8 1025.5,656.5 1026.5,655.8 1030.5,656.9 1032,662 1035.5,669.4 1036,671.4 1042.5,685 1043,685.1 1044.5,688.2 1067,687 1107,673.2 1119.5,672 1123.5,678.3 1132,680.8 1144.5,682 1157,678.2 1162,674.5 1166,668.2 1182,662 1227,650.8 1242,635.8 1243,634.3 1271,633.7 1271.5,634.1 1273.5,639.9 1274,627 1359.5,617 1368,623.7 1372,634.4 1372.5,641.6 1373.5,679.1 1374,685.4 1386,687 1386.5,686.5 1389.5,677.5 1390,677 1456.5,673.5 1463,668.7 1473,630.3 1476.5,626 1509.5,631.3 1543,630.3 1576.5,632 1603,628.7 1613,626 1616.5,621 1656,619.3 1666,620.9 1666.5,621.4 1671.5,632.1 1676.5,635.4 1716,640.3 1716.5,640.2 1723,635.3 1739.5,635.3 1749.5,653.4 1756.5,682 1776.5,682 1809.5,685.3 1813.5,671.9 1814,671.3 1848,671.3 L1860,671.3 V800 H8 Z" fill="#33e633" stroke="#00e000"/>
<path d="M8,716.1 L20,716.1 33.5,712.6 34,716.5 36,748.5 36.5,752.5 37.5,752.4 38,752.8 40,752.6 40.5,752.1 43.5,751.8 44,752.1 45.5,752.1 46,751.6 48,751.4 48.5,751.8 49,751.8 50,751.2 53,750.9 53.5,751.4 54.5,751.3 58.5,750.9 59,750.3 62.5,750 63,750 63.5,750.5 64,750.5 64.5,750.1 75.5,750.4 76.5,751 77.5,751 78,750.5 82,750.6 82.5,751.2 83,750.7 90.5,750.9 96,751.1 96.5,751.6 98.5,751.7 99,751.2 100,751.2 104,737.5 116.5,735.2 117,735.6 117.5,735.5 123.5,706.2 126,699.4 126.5,699.7 129.5,710.7 135,738 141,738 141.5,737.5 144,738 144.5,737.5 147.5,737.5 175,733.8 177,731.8 179.5,728.6 180,727.5 183.5,713.5 184,712.7 185.5,713.8 187.5,712.5 192.5,714.5 196,722.5 197.5,723.8 202.5,718.8 203,718.8 204,717.5 217.5,715 218.5,715.6 219.5,715.8 220.5,715.9 221.5,715.6 234.5,717.4 244,734.5 244.5,734.9 250,745.5 251,745.1 252,745.8 266.5,747.7 267.5,747.3 268.5,747.5 271.5,739.8 275,737.5 300,730 312.5,726.8 325,727.5 358.5,730.7 359,731.2 361,731.4 362,731 365,731.2 375,726.2 390,723.8 397.5,717.5 412.5,707.5 425,705 437.5,703 454,704.1 454.5,704.6 465,705.5 466,708 466.5,707.6 478.5,710 479,711.1 484,716.9 484.5,717 486,718.8 503.5,715 516,715 522,714.4 522.5,714.9 526,714.5 526.5,714 528.5,713.8 541,710 553.5,707.5 566,703.8 632,690.5 678.5,681.2 691,680.8 698.5,680 700,671.4 702,662.4 702.5,661.7 706,667.5 711,663.8 716,662.5 723.5,657.5 727.5,663.2 731,672.5 735.5,689.5 746,710 758.5,709.9 759,710.4 759.5,710.4 760,709.8 763.5,709.8 764,710.3 766,710.3 768,710.3 769,709.7 773.5,709.7 774,710.2 776.5,710.2 777,709.7 791,709.5 816,712 869,710.7 869.5,711.2 870,711.2 870.5,710.7 891,710 916,700 931,697.5 932,687.5 982,680 986,667.4 996,665.2 996.5,665.6 997,665.5 998,665.2 998.5,664.6 999.5,664.4 1000,664.8 1002.5,664.1 1003,663.5 1007,662.5 1013,652.9 1013.5,652.6 1016.5,653.4 1017,654.1 1019.5,654.8 1026,656.6 1026.5,656.3 1030.5,657.4 1032,662.5 1044.5,688.8 1067,687.5 1107,673.8 1119.5,672.5 1123.5,678.8 1132,681.2 1144.5,682.5 1157,678.8 1162,675 1166,668.7 1182,662.5 1227,651.2 1242,636.2 1243,634.8 1271,634.2 1271.5,634.6 1273.5,640.4 1274,634.6 1359.5,627 1368,633.7 1372,642.9 1372.5,649.5 1373.5,684.5 1374,690.4 1386,692 1386.5,691.5 1389.5,682.5 1390,682 1456.5,677.9 1463,672.7 1473,638.7 1476.5,634.7 1509.5,639.3 1543,638.7 1576.5,640.3 1603,637 1613,634.3 1616.5,630.3 1656.5,628.7 1666,630.3 1666.5,630.7 1671.5,640.4 1676.5,643.7 1716,649.3 1723,644.7 1739.5,644.7 1749.5,661.7 1756.5,688 1776.5,688 1809.5,690.3 1813.5,676 1814,675.3 1848,675.3 L1860,675.3 V800 H8 Z" fill="#33cd33" stroke="#00c000"/>
<path d="M8,716.6 L20,716.6 33.5,713.1 36.5,753 62.5,750.5 100,751.8 104,738 117.5,735.5 123.5,706.7 126,699.9 126.5,700.2 130,713 135,738 147.5,738 175,734.2 180,728 183.5,714 184,713.2 185.5,714.3 187.5,713 192.5,715 196,723 197.5,724.2 204,718 217.5,715.5 235,718 250,745.5 268.5,748 271.5,740.3 275,738 300,730.5 312.5,727.2 325,728 365,731.8 375,726.8 390,724.2 397.5,718 412.5,708 425,705.5 437.5,703.5 465,705.5 466,708 478.5,710.5 486,719.2 503.5,715.5 516,715.5 528.5,714.2 541,710.5 553.5,708 566,704.2 678.5,681.8 691,681.2 698.5,680.5 700,671.9 702,662.9 702.5,662.2 706,668 711,664.2 716,663 723.5,658 727.5,663.7 731,673 735,688.5 746,710.5 791,710 816,712.5 853.5,711.8 891,710.5 916,700.5 931,698 932,688 982,680.5 986,667.9 1007,663 1013,653.4 1013.5,653.1 1030.5,657.9 1032,663 1044.5,689.2 1067,688 1107,674.2 1119.5,673 1123.5,679.3 1132,681.8 1144.5,683 1157,679.2 1162,675.5 1166,669.2 1182,663 1227,651.8 1242,636.8 1243,635.3 1271,634.7 1271.5,635.1 1273.5,640.9 1274,641.3 1359.5,633.7 1360,633.9 1368,640.3 1372,649.6 1372.5,656.2 1373.5,691.2 1374,697 1386,698.6 1386.5,698.1 1389.5,688.2 1390,687.6 1456.5,682.9 1463,678 1473,645.3 1476.5,641.4 1509.5,646 1543,645.3 1576.5,647 1603,643.7 1613,641 1616.5,637 1656,635.3 1666,636.9 1666.5,637.3 1671.5,647.1 1676.5,650.4 1716,656 1723,651.3 1739.5,651.3 1749.5,668.4 1756.5,693.7 1776.5,693.7 1809.5,696 1813.5,679.4 1814,678.7 1848,678.7 L1860,678.7 V800 H8 Z" fill="#33b333" stroke="#00a000"/>
<path d="M8,724.1 L20,724.1 33.5,720.6 36,752.2 36.5,755.1 37.5,755 38,756.5 38.5,759.9 39,760 40,755.1 40.5,754.8 43.5,754.5 44,754.7 45,758.2 46,754.3 48,754.1 49,757.1 50,753.9 53,753.6 55,757.4 56.5,758.4 57.5,757.8 59,753 62.5,752.7 63,752.7 63.5,754.8 64.5,752.7 75.5,752.8 76.5,753.4 77,753.3 77.5,753.8 78,752.9 82,752.9 82.5,753.5 83,752.9 96,753.5 97,757.8 97.5,757.9 98,757.4 99,753.6 100,753.6 102.5,746.3 103,749.7 103.5,742.9 104,742 107.5,739.8 115,739.6 116.5,737.6 117,737.4 117.5,738 119.5,730 120.5,722.6 123.5,708.9 125,704.1 126,702.9 126.5,703.4 129.5,713.8 130,721.8 132,730.6 133.5,739.3 134,741.1 137.5,747.2 139.5,747.9 141.5,741 142.5,741 143.5,746 144.5,741 147.5,739.9 175,735.4 176.5,733.7 177.5,733.2 178,733.4 179.5,730.8 183.5,714.8 184,713.8 185.5,714.3 187.5,713 192.5,715 196,723.1 197.5,725 200,722.1 202.5,720.2 203,720.7 203.5,719.5 204,719.3 217.5,717 218,717.1 219.5,720.9 220,720.9 221,717.7 234.5,720.1 235,725 236.5,726.4 243.5,737.6 244,737.8 244.5,736.6 247,741 248,743.4 248.5,743.6 249,744.5 250,747.5 250.5,746.6 251,746.6 252.5,747.8 254,752 261.5,759.5 262,759.6 263.5,758.7 266,754.9 267,749.7 268.5,748.8 269,748.1 271.5,742.2 275,740.2 312.5,731 358.5,732.7 359,736.1 361,735.9 361.5,732.9 365,732.9 375,728.6 390,726.1 397,720.4 400,717.2 412.5,710.6 425,708.1 437.5,706.2 447.5,706.5 454,707.4 455.5,713.7 456,713.8 462.5,714.1 463,713.7 464,709.6 464.5,710.5 466,711.2 466.5,710.3 478.5,712.4 479.5,721.2 481,728 481.5,727.7 482.5,725.7 483.5,726.3 484,720.1 484.5,720 486,721 503.5,717.4 516,716.8 522,716.2 524.5,718.4 526,717.2 526.5,715.6 528.5,715.4 541,712.1 553.5,710.1 566,707.2 627.5,697.2 678.5,688.1 691,687.8 698.5,687.2 700,681.1 702,674.8 702.5,674.3 706,678.4 711,675.7 716,674.2 723.5,670 726,670.2 727,671.1 728.5,673.6 729.5,676.7 731,678.1 735,690 735.5,692.5 736,692 737,694.1 738,698.3 738.5,698.4 739,697.9 740.5,700.7 741.5,704.8 745.5,710.8 758.5,711.7 759.5,712.9 760,711.8 763.5,712.1 764.5,715.4 766,716.8 767,717 767.5,716.3 768.5,712.5 773.5,712.8 774,718.4 775,718.8 776,717.8 777,712.6 791,710.5 801,712.7 816,713 841,712.3 845,713 866,711.8 869,712.7 869.5,714.2 870.5,713.1 876.5,713 891,711.2 916,702 931,699.5 932,692.5 957,688.8 982,685.8 986,676.9 996,675 996.5,675.4 997.5,683 998.5,672.4 999.5,671.4 1000,673.5 1000.5,679.6 1001,681.1 1002.5,669 1003,667.5 1007,663 1013,653.4 1013.5,653.1 1030.5,657.9 1032,663.2 1035.5,672.5 1037,680.7 1041.5,690 1042,690.3 1042.5,688.1 1043,687.5 1044.5,689.7 1067,688.3 1107,678 1119.5,677 1123.5,683.5 1132,686 1144.5,687.4 1157,684.4 1162,681.6 1164.5,676.3 1166,674.7 1182,669.4 1227,660.8 1242,650.1 1243,648.8 1271,648.1 1273.5,650.4 1359.5,643.7 1368,650.3 1372,658 1372.5,664.7 1373.5,701 1374,707 1386,708.6 1386.5,708.1 1389.5,697.6 1390,697 1456.5,691.9 1463,687 1473,653.7 1476.5,650.4 1509.5,655.3 1543,655.3 1576.5,657 1603,653.7 1613,650.3 1616.5,647 1656.5,645.4 1666,646.9 1666.5,647.3 1671.5,657.1 1676.5,660.4 1716,665.3 1716.5,665.2 1723,660.3 1739.5,660.3 1749.5,678.4 1756.5,702 1776.5,702 1809.5,703.7 1813.5,694.1 1814,693.7 1848,693.7 L1860,693.7 V800 H8 Z" fill="#339933" stroke="#008000"/>
<path d="M8,741.6 L20,741.6 33.5,738.1 35.5,757.7 36,759.8 36.5,760 41,760 60,758 82.5,757 100,758 107.5,745.5 115,748 125,708 127.5,713 130,721.8 134,741.5 137,747.1 140,748 144.5,748 147.5,744.2 160,741.8 175,738 180,730.5 184,715.3 187.5,713 192.5,715 197.5,726.8 200,723 217.5,720.5 225,723 232.5,724.2 236,725.9 250,748 262,760 262.5,760 263,759.7 271,747.1 271.5,746.7 275,745.5 312.5,739.8 325,739.2 365,735.5 375,733 390,730.5 397,725 400,719.2 425,714.2 437.5,712.5 447.5,712.2 452.5,713.8 465,714.2 466,715.5 478.5,716.8 481,728 486,725 503.5,721.8 541,716 616,710.5 641.5,707.9 666,705 678.5,703 711,702.5 723.5,698 726,691 731,690 735,693.5 738.5,700.5 746,711.8 774.5,719.2 791,711.8 801,716.8 816,714.2 841,713 845,715.5 866,713 871,717.9 876.5,717.8 906,708 916,705.5 957,699.2 995.5,697.3 1000.5,683.7 1007,663 1013,653.4 1013.5,653.1 1030.5,657.9 1034.5,675.5 1042,691 1062,689.2 1082,688 1119.5,686.2 1123.5,693.1 1132,696 1144.5,697.5 1162,696 1164.5,688 1182,684.2 1242,681.2 1243,680.3 1271,679.3 1271.5,678.8 1273.5,672.5 1274,672 1359.5,668.7 1368,673.7 1372,684.4 1372.5,691 1373.5,724.7 1374,730.3 1380.5,730.3 1387.5,727 1389.5,722.4 1390,722 1456.5,716.9 1459,714.8 1467.5,696.1 1473,677 1476.5,673.7 1509.5,677 1543,677 1603,676 1613,674.7 1616.5,671 1666,671 1666.5,671.4 1671.5,682.2 1676.5,687 1716,691.3 1716.5,691.2 1723,686 1739.5,686 1749.5,703.4 1756.5,720.3 1776.5,721.3 1809.5,719.3 1813.5,713.9 1814,713.7 1848,713.7 L1860,713.7 V800 H8 Z" fill="#9999ff" stroke="#8080ff"/>
<path d="M8,741.7 L20,741.7 33.5,738.2 35.5,757.8 36,759.8 36.5,760 41.5,760 56,758.5 57,758.7 60,758.1 82.5,757.1 96.5,757.9 97,759.3 97.5,759.5 98,758 100,758.1 107.5,745.6 115,748.1 117,740.1 117.5,744.9 120,728.1 125,708.1 127.5,713.1 129.5,720.1 134,741.6 137,747.1 140,748 144.5,748 147.5,744.4 160,741.9 175,738.1 180,730.6 184,715.4 187.5,713.1 192.5,715.1 197.5,726.9 200,723.1 217.5,720.6 225,723.1 232.5,724.4 235,725.5 237.5,735.8 238.5,734.7 239.5,732.5 240,732.6 241,736.9 241.5,736.9 243,739.7 244,738.5 250,748.1 253.5,751.6 254.5,754.3 258,757.2 258.5,756.8 259,757.1 260,758.9 261,759.7 262.5,760 264,758.5 265.5,759.2 266.5,754.2 271.5,746.8 275,745.6 312.5,739.9 325,739.4 358.5,736.2 359,737 360,746.8 361,737.7 361.5,736 365,735.6 375,733.1 390,730.6 397,725.1 400,719.4 425,714.4 437.5,712.6 447.5,712.4 452.5,713.9 456,714 457,715.8 458,720.1 458.5,719.8 459.5,725.7 460,725.4 461,726.3 461.5,725.3 463,714.3 465,714.4 466,715.6 478.5,716.9 481,730.9 482,727.5 486,725.1 503.5,721.9 541,716.1 616,710.6 641.5,708 666,705.1 678.5,703.1 711,702.6 723.5,698.1 726,691.1 731,690.1 735,693.6 738.5,700.6 741.5,705.1 743,709.6 743.5,710.1 745.5,711.1 746,711.9 765.5,716.7 767,718.1 767.5,717.3 775,719.2 791,711.9 801,716.9 816,714.4 841,713.1 845,715.6 866,713.1 871,717.9 877,717.8 906,708.1 916,705.6 957,699.4 995.5,697.4 1000.5,683.8 1007,663.1 1013,653.5 1013.5,653.2 1016.5,654 1018,665.4 1018.5,665 1019,662.6 1020,660.3 1021.5,688.4 1023,684 1023.5,680.8 1025,664.5 1026,657.4 1026.5,656.9 1030.5,658 1034.5,675.6 1036.5,679.7 1038.5,696.4 1039,696.8 1039.5,695.7 1040,696.1 1040.5,697.6 1041,697.1 1042,691.1 1062,689.4 1082,688.1 1119.5,686.4 1123.5,693.2 1132,696.1 1144.5,697.6 1162,696.1 1164.5,688.1 1182,684.4 1242,681.4 1243,680.4 1271,679.4 1271.5,678.9 1273.5,672.6 1274,679.3 1359.5,678 1368,682.7 1372,691.3 1372.5,697.2 1373.5,728.5 1374,733.5 1390,726 1456,720.7 1456.5,720.3 1473,684 1476.5,680.7 1603,682 1616.5,677.3 1666,677.3 1666.5,677.7 1671.5,688.7 1716,695.9 1723,692 1739.5,692 1749.5,708.4 1756.5,723.7 1809.5,722.7 1813.5,718.2 1814,718 1848,718 L1860,718 V800 H8 Z" fill="#8080ff" stroke="#6060ff"/>
<path d="M8,741.8 L20,741.8 33.5,738.3 35.5,757.9 36,759.8 36.5,760 42.5,760 56,758.6 57,758.8 60,758.2 82.5,757.2 96.5,758 97,759.4 97.5,759.5 98,758.1 100,758.2 107.5,745.7 115,748.2 117,740.2 117.5,745 120,728.2 125,708.2 127.5,713.2 129.5,720.2 134,741.7 136.5,746.7 137,747.1 140,748 144.5,748 147.5,744.5 160,742 175,738.2 180,730.7 184,715.5 187.5,713.2 192.5,715.2 197.5,727 200,723.2 217.5,720.7 225,723.2 232.5,724.5 235,725.6 237.5,735.9 238.5,734.8 239.5,732.6 240,732.7 241,737 241.5,737 243,739.8 244,738.6 250,748.2 253.5,751.7 254.5,754.3 258,757.2 258.5,756.9 259,757.2 260,758.9 261,759.7 262.5,760 263,759.9 264,758.6 265.5,759.3 266.5,754.3 271.5,746.9 275,745.7 312.5,740 325,739.5 358.5,736.3 359,737.1 360,746.9 361,737.8 361.5,736.1 365,735.7 375,733.2 390,730.7 397,725.2 400,719.5 425,714.5 437.5,712.7 447.5,712.5 452.5,714 456,714.1 457,715.9 458,720.2 458.5,719.9 459.5,725.8 460,725.5 461,726.4 461.5,725.4 463,714.4 465,714.5 466,715.7 478.5,717 481,731 482,727.6 486,725.2 503.5,722 541,716.2 616,710.7 641.5,708.1 666,705.2 678.5,703.2 711,702.7 723.5,698.2 726,691.2 731,690.2 735,693.7 738.5,700.7 741.5,705.2 743,709.7 743.5,710.2 745.5,711.2 746,712 765.5,716.8 767,718.2 767.5,717.4 775,719.3 791,712 801,717 816,714.5 841,713.2 845,715.7 866,713.2 870.5,717.7 877,717.8 906,708.2 916,705.7 957,699.5 995.5,697.5 1000.5,683.9 1007,663.2 1013,653.6 1013.5,653.3 1016.5,654.1 1018,665.5 1018.5,665.1 1019,662.7 1020,660.4 1021.5,688.5 1023,684.1 1023.5,680.9 1025,664.6 1026,657.5 1026.5,657 1030.5,658.1 1034.5,675.7 1036.5,679.8 1038.5,696.5 1039,696.9 1039.5,695.8 1040,696.2 1040.5,697.7 1041,697.2 1042,691.2 1062,689.5 1082,688.2 1119.5,686.5 1123.5,693.3 1132,696.2 1144.5,697.7 1162,696.2 1164.5,688.2 1182,684.5 1242,681.5 1243,680.5 1271,679.5 1271.5,679 1273.5,672.7 1274,683 1359.5,682 1368,686.3 1372,694.6 1372.5,700.3 1373.5,730.3 1374,735.2 1390,728 1456,722.7 1456.5,722.3 1473,688 1476.5,684.7 1603,686 1616.5,681.3 1666,681.3 1666.5,681.7 1671.5,693 1716,699.6 1723,695.7 1739.5,695.7 1749.5,711.7 1756.5,726 1809.5,725.3 1814,721 1848,721 L1860,721 V800 H8 Z" fill="#5959ff" stroke="#3030ff"/>
<path d="M8,741.9 L20,741.9 33.5,738.4 35.5,758 36,759.8 36.5,760 43.5,760 56,758.7 57,758.9 60,758.3 82.5,757.3 96.5,758.1 97,759.5 97.5,759.5 98,758.2 100,758.3 107.5,745.8 115,748.3 117,740.3 117.5,745.1 120,728.3 125,708.3 127.5,713.3 129.5,720.3 134,741.8 136.5,746.8 137,747.1 140,748 144.5,748 147.5,744.5 160,742 175,738.3 180,730.8 184,715.6 187.5,713.3 192.5,715.3 197.5,727 200,723.3 217.5,720.8 225,723.3 232.5,724.5 235,725.7 237.5,736 238.5,734.9 239.5,732.7 240,732.8 241,737.1 241.5,737.1 243,739.9 244,738.7 250,748.3 253.5,751.8 254.5,754.3 258,757.2 258.5,757 259,757.3 260,758.9 261,759.7 263,760 264,758.7 265.5,759.4 266.5,754.4 271.5,747 275,745.8 312.5,740 325,739.5 358.5,736.4 359,737.2 360,747 361,737.9 361.5,736.1 365,735.8 375,733.3 390,730.8 397,725.3 400,719.5 425,714.5 437.5,712.8 447.5,712.5 452.5,714 456,714.2 457,716 458,720.3 458.5,720 459.5,725.9 460,725.6 461,726.5 461.5,725.5 463,714.5 465,714.5 466,715.8 478.5,717 481,731.1 482,727.7 486,725.3 503.5,722 541,716.3 616,710.8 641.5,708.2 666,705.3 678.5,703.3 711,702.8 723.5,698.3 726,691.3 731,690.3 735,693.8 738.5,700.8 741.5,705.3 743,709.8 743.5,710.3 745.5,711.3 746,712 765.5,716.9 767,718.3 767.5,717.5 775,719.4 791,712 801,717 816,714.5 841,713.3 845,715.8 866,713.3 870.5,717.8 877.5,717.8 906,708.3 916,705.8 957,699.5 995.5,697.6 1000.5,684 1007,663.3 1013,653.7 1013.5,653.4 1016.5,654.2 1018,665.6 1018.5,665.2 1019,662.8 1020,660.5 1021.5,688.6 1023,684.2 1023.5,681 1025,664.7 1026,657.6 1026.5,657.1 1030.5,658.2 1034.5,675.8 1036.5,679.9 1038.5,696.6 1039,697 1039.5,695.9 1040,696.3 1040.5,697.8 1041,697.3 1042,691.3 1062,689.5 1082,688.3 1119.5,686.5 1123.5,693.4 1132,696.3 1144.5,697.8 1162,696.3 1164.5,688.3 1182,684.5 1242,681.5 1243,680.6 1271,679.6 1271.5,679.1 1273.5,672.8 1274,687 1359.5,686 1368,690.3 1372,698 1372.5,703.5 1373.5,732.2 1374,737 1386,737 1386.5,736.7 1389.5,730.7 1390,730.3 1456.5,724.6 1463,720.3 1473,692 1476.5,688.7 1543,690.3 1603,690.3 1613,688.7 1616.5,685.3 1666,685.3 1666.5,685.7 1671.5,697.1 1676.5,700.3 1716,703.6 1723,699.7 1739.5,699.7 1749.5,715.1 1756.5,728.7 1776.5,729.3 1809.5,728 1814,723.7 1848,723.7 L1860,723.7 V800 H8 Z" fill="#3333ff" stroke="#0000ff"/>
<path d="M8,752.9 L20,752.9 32.5,750.5 36,759.8 36.5,760 68,760 100,759.5 112.5,754.2 125,750.5 130,745 140,748 150,748 175,744.2 200,741 215,739.8 235,738.8 250,750.5 261,759.7 261.5,760 269,760 275,758 325,751.8 350,749.2 375,746 425,741 450,738.8 465,738 466,740 478.5,739.2 483.5,737.5 491,736 516,734.2 541,733 591,729.2 616,728.5 641,726.8 666,724.2 741,720.5 766,720.5 791,719.2 816,718.5 841,718 866,718 916,716.8 931,716 932,715.5 957,711.8 982,712.5 1032,708.5 1062,708.5 1082,706 1107,705.5 1119.5,706 1123.5,711.8 1132,714.2 1144.5,716 1162,715 1164.5,707.5 1182,704.2 1232,705 1242,704.5 1271,704.7 1271.5,704.1 1273.5,697.5 1274,697 1359.5,696 1368,700.3 1372,706.5 1372.5,711.6 1373.5,739.1 1374,743.6 1386,742.7 1386.5,742.3 1389.5,735.7 1390,735.3 1456.5,730.2 1463,725.3 1473,703.7 1476.5,701.3 1543,702 1603,701.3 1613,700.3 1616.5,695.3 1666,695.3 1666.5,695.7 1671.5,707.1 1676.5,710.3 1716,712.6 1723,708.7 1739.5,708.7 1749.5,721.8 1756.5,736 1776.5,737 1809.5,735.3 1814,732.7 1848,732.7 L1860,732.7 V800 H8 Z" fill="#3333e0" stroke="#0000d8"/>
<path d="M8,760 L20,760 935.5,760 936,755.1 936.5,733.5 957,731.8 982,732.5 1032,731.8 1062,731.8 1082,730.5 1107,730.5 1119.5,731.8 1123.5,738.1 1132,741.8 1144.5,743 1162,741.8 1164.5,734.2 1182,733 1242,734.2 1243,735.3 1271,734.7 1271.5,734.3 1273.5,729.7 1274,729.3 1359.5,729.3 1368,733.7 1372,741.4 1373.5,753.1 1374,754.6 1386,753.7 1390,750.3 1456,746 1463,742 1473,732.7 1476.5,732 1603,732 1613,731.3 1616.5,730 1666,730 1666.5,730.2 1671.5,735.4 1676.5,737 1716,738 1723,735.3 1743,735.3 1756.5,748.7 1776.5,748.7 1809.5,748 1814,747.3 1848,747.3 L1860,747.3 V800 H8 Z" fill="#3333b9" stroke="#0000a8"/>
<path d="M58.5,11V760M219.5,11V760M379.5,11V760M521.5,11V760M661.5,11V760M821.5,11V760M982.5,11V760M1122.5,11V760M1283.5,11V760M1443.5,11V760M1603.5,11V760M1743.5,11V760M20,135.5H1848M20,260.5H1848M20,385.5H1848M20,510.5H1848M20,635.5H1848" stroke="#000" stroke-opacity="0.055" stroke-width="1" fill="none"/>
<path d="M22,700.8 23.5,714.6 24,714.2 25.5,690.7 M36,741.2 38.5,759.9 39,760.3 41.5,739.8 M42.5,739.4 43.5,749.6 45,757.7 47,743.5 49,756.3 51,747.2 53,750.6 55,756.9 56.5,758.6 57,758.6 57.5,757.5 59.5,748.4 60.5,747.3 61.5,744.2 M61.5,744.2 62.5,747.1 63.5,753.5 64,752.4 65.5,733.9 M73.5,731.5 75,748.6 76,751.3 77,751.6 77.5,752.3 79,736.6 M81,735.5 82.5,751.9 84.5,739.1 M94.5,735 97,759.2 97.5,760.3 100.5,735.5 M101,731.3 101.5,731.5 103,748.3 105,709.2 M115.5,715.8 117.5,744.8 119.5,731.7 122,705.4 M128.5,679.6 130,722.4 132,730 134,740.9 135.5,742.9 138,750.1 139,751.8 142,734 143.5,745.1 144,743 145.5,723.6 M174.5,719.3 176,731.8 176.5,732.8 177.5,732.8 178,733.4 179.5,730.6 182,711.6 M195.5,718.8 196.5,719.1 197.5,724.1 199.5,713.6 M201,714.2 202,715.8 203,719.9 204.5,698 M216.5,700.9 217,708.8 218.5,717.5 219.5,720.7 220,720.7 221,716.1 222.5,712.2 223.5,705 M233,696.8 235,724.8 237.5,735.7 239.5,732.4 240,732.5 241,736.8 241.5,736.8 243,739.6 244,737.5 244.5,734.9 245.5,734.9 246.5,737.1 247.5,741.7 248,742.9 248.5,742.3 250,747.3 251,744.7 252.5,746.7 255,759.6 256.5,757.4 258,758.1 258.5,756.7 259,756.7 260.5,760.2 261.5,760.3 263,758.5 264.5,758.5 265.5,759.1 269,735.9 M341.5,710.3 343,726.9 344,729.9 345.5,706.1 M357,726.1 357.5,725 358,725.3 360,746.7 362,726.8 362.5,723.9 363,724.3 M395.5,710.7 397,715.2 398.5,708.7 M452.5,692 455.5,713.7 456,713.8 457,715.7 458,720 458.5,719.7 459.5,725.6 460,725.3 461,726.2 461.5,725.2 463.5,709.5 464,707.6 464.5,708.9 466,709.4 468,700.2 M477,692.8 479,717.6 481,730.8 482.5,725 483.5,726.2 485.5,688 M516.5,704.7 518,715.3 519.5,703.9 M520.5,698.3 522,713.2 522.5,715.5 524,718.1 524.5,718.3 526,716.7 527.5,703.2 M696,626.7 698,647.5 698.5,647.6 699,648.6 701,657 M701.5,658.4 703.5,651.4 705.5,661.6 707,662 709,635.8 710.5,633 711,633 713,642.9 715,625.1 715.5,626.3 717,643.5 717.5,643.3 719,631.6 719.5,636 721,641.8 722.5,636.6 723.5,630.1 725,650.1 725.5,653 726,653.1 726.5,651.4 727,651.3 727.5,653.2 729,669.5 729.5,670.9 731.5,672.5 733,666.4 733.5,666.2 735.5,691.7 736,690 736.5,690.1 738,697.8 739.5,695.3 740,696.1 741.5,704.7 743,709.5 745,710.8 745.5,710.7 747.5,693.2 M748,690.3 749.5,708.4 750,709.9 751.5,702.4 M753,700.1 754.5,708.1 755,708.3 756,704.3 756.5,704.2 M756.5,704.2 757,704.2 757.5,705.1 759,711.5 759.5,711.9 761.5,702.1 M762,700.8 762.5,701.5 764.5,715 767,718 769,707.1 770.5,691.4 M772.5,685.4 774,718.1 775,718.7 776,717.5 778,703.6 778.5,696.4 M798,706 799.5,710.8 801,697.3 M804,699.6 805.5,711.1 807,697.7 M860,701.4 862,711.1 863,708.5 864.5,697.5 M867,705.2 869.5,713.2 870,712 871.5,698.4 M878,698.4 879.5,709.9 880,709.6 880.5,706.2 881.5,703.3 M895,678.8 896.5,707.5 898.5,698.1 M903,688.1 904.5,703 906,684 M981.5,625.9 983,645.8 983.5,647.8 985.5,642.9 987,625.6 M995,643.3 997.5,679.1 999,651.4 1000.5,677.9 1001,680.6 1003,659.3 1003.5,657.2 1005,662.2 1006.5,648.7 M1015,641.9 1018,665.3 1018.5,664.9 1020,660.2 1021.5,688.3 1023,683.9 1023.5,680.7 1027.5,644.2 M1034.5,649.9 1036,672.7 1038.5,696.3 1039,696.7 1039.5,695.6 1040.5,697.5 1041,697 1044,673.1" stroke="#20e020" stroke-width="5.4" fill="none" stroke-linejoin="round"/>
<path d="M20,696.8 21,694.8 21.5,696.3 23.5,714.6 24,714.2 26,683 26.5,680.9 M26.5,680.9 29.5,710.3 31,698.6 32.5,680.8 36,741.2 38.5,759.9 39,760.3 42,735.6 43.5,749.6 45,757.7 47,743.5 49,756.3 51,747.2 53,750.6 55,756.9 56,758.2 57,758.6 59.5,748.4 60.5,747.3 61.5,744.2 62.5,747.1 63.5,753.5 64,752.4 66.5,721.1 M72.5,717.1 75,748.6 76,751.3 77,751.6 77.5,752.3 80,725.7 82.5,751.9 87.5,715.3 M92,717.4 95.5,742.9 97,759.2 97.5,760.3 101,731.3 101.5,731.5 103,748.3 106,692.7 M111.5,699.2 113.5,712.8 114.5,715.8 115.5,715.8 117.5,744.8 119.5,731.7 124.5,680.8 M128,665.7 130,722.4 132,730 134,740.9 135.5,742.9 138,750.1 139,751.8 142,734 143.5,745.1 144,743 145,727.7 148.5,694.6 150,682.4 151,678.8 M152.5,677.4 153,675.6 155.5,697.5 156.5,697.4 157.5,698.2 158,697.1 161.5,722.5 162,722.3 162.5,720.2 163.5,713.7 164,714.3 166,727.4 168,714 169.5,696.3 M171.5,689.2 172,689.8 173.5,713.9 176,731.8 176.5,732.8 177.5,732.8 178,733.4 179.5,730.6 183.5,702.8 M188.5,696.2 190,711.1 191.5,704.1 M193,707.8 195,717.6 195.5,718.8 196.5,719.1 197.5,724.1 200,711.1 200.5,713.2 202,715.8 203,719.9 206,680.8 M214.5,671 217,708.8 218.5,717.5 219.5,720.7 220,720.7 221,716.1 222.5,712.2 225,694.8 226.5,688.3 M231.5,682.1 232.5,690.3 235,724.8 236.5,732.4 237.5,735.7 239.5,732.4 240,732.5 241,736.8 241.5,736.8 243,739.6 244,737.5 244.5,734.9 245.5,734.9 246.5,737.1 247.5,741.7 248,742.9 248.5,742.3 250,747.3 251,744.7 252.5,746.7 255,759.6 256.5,757.4 258,758.1 258.5,756.7 259,756.7 260.5,760.2 261.5,760.3 263,758.5 264.5,758.5 265.5,759.1 269.5,732.6 M277.5,653 278,651.5 279,658.3 279.5,658.8 282,633.6 M322,655.4 323,661.6 325,694.7 325.5,695.6 326,695 327,695.9 329,704.6 329.5,704 331,692.5 331.5,692.1 333,704.6 334,703.5 334.5,704.1 335.5,703.7 337.5,718.2 340.5,703 343,726.9 344,729.9 345.5,706.1 347.5,685.8 M349.5,684.5 352,715.6 354.5,721.1 356,727.6 357.5,725 358,725.3 360,746.7 362,726.8 362.5,723.9 363,724.3 364,718.6 367,688.7 M387.5,681.4 389.5,700.9 391,703.5 392,703.7 392.5,704.3 393,705.6 393.5,705.7 394,704.2 394.5,704.7 395.5,710.7 397,715.2 399.5,704.1 401.5,688.4 M402,689 404,706.2 404.5,706 406.5,693.2 M412,678 413.5,700.4 415.5,691.5 M449,658.3 451.5,678.6 453,697.5 455,710.9 455.5,713.7 456,713.8 457,715.7 458,720 458.5,719.7 459.5,725.6 460,725.3 461,726.2 461.5,725.2 463.5,709.5 464,707.6 464.5,708.9 466,709.4 469,695.6 M477,692.8 479,717.6 481,730.8 482.5,725 483.5,726.2 485.5,688 M511.5,696.6 513.5,712.3 514.5,703.5 515.5,700.3 M516,700.1 518,715.3 520,701.5 M520.5,698.3 522,713.2 522.5,715.5 524.5,718.3 526,716.7 528,698.9 M546.5,668.6 548,694.2 549.5,674.8 M659,558.9 661,571 662,568 662.5,568.1 663.5,571.6 665.5,548.9 M670,544.7 672.5,576.8 674,581.1 674.5,581.7 675.5,580.3 M676.5,577.3 678,587.1 678.5,612.8 680,631.9 680.5,632 681,631.2 681.5,629.2 683,626.7 684,621.8 684.5,620.9 685,620.9 686.5,610.4 688,617.7 689.5,603 692,627.7 694,617.2 696,626.7 698,647.5 698.5,647.6 699,648.6 701.5,658.4 703.5,651.4 705.5,661.6 707,662 709,635.8 710,633.8 711,633 713,642.9 715,625.1 715.5,626.3 717,643.5 717.5,643.3 719,631.6 719.5,636 721,641.8 722.5,636.6 723.5,630.1 725,650.1 725.5,653 726,653.1 726.5,651.4 727,651.3 727.5,653.2 729,669.5 729.5,670.9 731.5,672.5 733,666.4 733.5,666.2 735.5,691.7 736,690 736.5,690.1 738,697.8 739.5,695.3 740,696.1 741.5,704.7 743,709.5 745,710.8 745.5,710.7 747.5,693.2 M747.5,693.2 748,690.3 749.5,708.4 750,709.9 752.5,699.1 753.5,701.6 754.5,708.1 755,708.3 756,704.3 757,704.2 759,711.5 759.5,711.9 762,700.8 762.5,701.5 764.5,715 767,718 769,707.1 770.5,691.4 772,682.8 772.5,685.4 774,718.1 775,718.7 776,717.5 778,703.6 780.5,669 M780.5,669 782,685.5 782.5,686.4 784,677.2 M784,677.2 786,690 788.5,679.2 M789.5,674.6 790,676.6 791.5,696.5 793,690.8 794,688.9 796.5,704.7 797,705.5 797.5,705.2 798.5,706.8 799.5,710.8 801.5,692 M802.5,693.7 803.5,695.9 805.5,711.1 810.5,662.3 M826.5,689.9 827.5,692.2 828.5,698 829,698.1 830,693.1 831.5,698.1 833,679.5 M833,679.5 835,705.2 836.5,700.6 838,690 M838.5,687.5 840.5,706.4 843,705.1 844.5,699.3 845,694.6 846.5,669.9 848,653.7 M857.5,671.5 858,672.6 860,701.4 862,711.1 863,708.5 865.5,691.3 M865.5,691.3 867,705.2 869.5,713.2 870,712 872,695.4 M877.5,695 879.5,709.9 880,709.6 881,704.6 883.5,699.3 M884,699.3 885,699.3 886,701.4 887,706.8 887.5,705.8 889.5,689.6 M894.5,682.9 895,678.8 896.5,707.5 900,692.5 901.5,679.5 903,688.1 904.5,703 905,700.5 907.5,663.4 M909.5,658.3 910,660.6 911.5,688.8 913,642.8 M920,655.4 920.5,656.9 921,656.5 921.5,657.2 923,649.8 M942.5,625.7 944,638.4 945.5,625.2 M979,608.3 981,620.5 983,645.8 983.5,647.8 985.5,642.9 988,615.5 989,609 M994,624.6 995.5,652.7 997.5,679.1 999,651.4 1000.5,677.9 1001,680.6 1003,659.3 1003.5,657.2 1005,662.2 1007,644.4 M1014.5,639.2 1018,665.3 1018.5,664.9 1020,660.2 1021.5,688.3 1023,683.9 1023.5,680.7 1028,639.8 M1034,640.4 1036,672.7 1038.5,696.3 1039,696.7 1039.5,695.6 1040.5,697.5 1041,697 1041.5,694.3 1043.5,679.2 1045,661 M1059.5,659.4 1060,659.6 1060.5,663.1 1062,684.3 1064,669.9 1065.5,678.2 1066,678.9 1066.5,677.2 1069,656.6 M1080.5,625.2 1082,672.6 1084,661.5 1085.5,673.2 1086,671.5 1087.5,650 1089,613.6 1090.5,593.6 M1097.5,474.5 1099,470.9 1100.5,459.4 M1157,450.6 1159.5,485 1160.5,476.1 1161,475.2 1164,502.1 1165.5,510.3 1166.5,522.8 1167.5,519.9 1168,516.3 1168.5,517.2 1170.5,535.1 1171,536.1 1174,507.1 M1183,545.5 1184.5,564.9 1186,555 M1222,472.7 1223.5,488 1226,476.4 M1304.5,437.5 1306.5,455.1 1309,444.8 M1317,426.2 1317.5,429.2 1318.5,431 1320,427.4 1322.5,424.3 1323,422.2 M1579.5,377.9 1580.5,382.4 1581,388.2 1582,409.5 1584,431.5 1584.5,432 1586,422.7 1587,421.4 1588,418.5 1588.5,418.1 1589.5,420.5 1591,415.1 1592,413.9 1592.5,414.7 1594.5,426.7 1596,430.4 1596.5,433.7 1598,462.4 1600.5,473.6 1602,473.3 1603,473.8 1603.5,475.6 1604.5,476.2 1605,477.7 1608,497.2 1610.5,506.1 1612,504.7 1613,502.5 1615,495.1 1617.5,479.6" stroke="#eae020" stroke-width="4.4" fill="none" stroke-linejoin="round"/>
<path d="M20,696.8 21,694.8 21.5,696.3 23.5,714.6 24,714.2 26,683 26.5,680.9 29.5,710.3 31,698.6 32.5,680.8 36,741.2 38.5,759.9 39,760.3 42,735.6 43.5,749.6 45,757.7 47,743.5 49,756.3 51,747.2 53,750.6 55,756.9 56,758.2 57,758.6 59.5,748.4 60.5,747.3 61.5,744.2 62.5,747.1 63.5,753.5 64,752.4 67.5,712 68,716.9 70,726.9 72.5,717.1 75,748.6 76,751.3 77,751.6 77.5,752.3 80,725.7 82.5,751.9 89,704.1 89.5,704.9 90.5,711.6 92,717.4 95.5,742.9 97,759.2 97.5,760.3 101,731.3 101.5,731.5 103,748.3 108,659.8 111,694.5 113,710.5 114.5,715.8 115.5,715.8 117.5,744.8 119.5,731.7 125,676.3 126.5,668 128,665.7 130,722.4 132,730 134,740.9 135.5,742.9 138,750.1 139,751.8 142,734 143.5,745.1 144,743 145,727.7 150,682.4 151,678.8 152,678.3 153,675.6 155.5,697.5 156.5,697.4 157.5,698.2 158,697.1 161.5,722.5 162,722.3 162.5,720.2 163.5,713.7 164,714.3 166,727.4 168,714 170,690.3 171,688.6 172,689.8 173.5,713.9 176,731.8 176.5,732.8 177.5,732.8 178,733.4 179.5,730.6 183.5,702.8 184,702.1 186,705.6 188,692.5 190,711.1 191,705.8 191.5,704.1 192,703.8 192.5,704.3 195,717.6 195.5,718.8 196.5,719.1 197.5,724.1 200,711.1 200.5,713.2 202,715.8 203,719.9 208,647.5 210.5,682 212.5,664.6 213.5,669.3 214.5,671 217,708.8 218.5,717.5 219.5,720.7 220,720.7 221,716.1 222.5,712.2 225,694.8 226.5,688.3 227.5,687.8 229.5,662.6 232.5,690.3 235,724.8 237.5,735.7 239.5,732.4 240,732.5 241,736.8 241.5,736.8 243,739.6 244,737.5 244.5,734.9 245.5,734.9 246.5,737.1 247.5,741.7 248,742.9 248.5,742.3 250,747.3 251,744.7 252.5,746.7 255,759.6 256.5,757.4 258,758.1 258.5,756.7 259,756.7 260.5,760.2 261.5,760.3 263,758.5 264.5,758.5 265.5,759.1 270.5,725.3 273,679.3 274,672.7 275.5,654.7 276,650.9 277,653.7 278,651.5 279,658.3 279.5,658.8 284.5,610.3 286,605.9 287.5,611.8 290,586.5 291.5,581.3 292,581.6 295.5,614.2 297,625.5 297.5,625.9 299,612.6 299.5,611.7 300,612.6 300.5,611.3 301,611.2 302,612.9 304,605.7 307,566.3 309.5,554.8 311,560.5 313,541.1 315,562.2 318,613.1 319,623.8 320,628.9 321,650.7 323,661.6 325,694.7 325.5,695.6 326,695 327,695.9 329,704.6 329.5,704 331,692.5 331.5,692.1 333,704.6 334,703.5 334.5,704.1 335.5,703.7 337.5,718.2 340.5,703 343,726.9 344,729.9 345.5,706.1 348,680.6 349,684.3 349.5,684.5 350,687.5 352,715.6 354.5,721.1 356,727.6 357.5,725 358,725.3 360,746.7 362,726.8 362.5,723.9 363,724.3 364,718.6 366,699.4 370,655.4 371.5,629 373.5,632.3 375,626.4 376.5,625.4 377.5,622.1 378,623.6 380.5,657.1 383,672.4 383.5,673.5 384,673.5 384.5,672.2 385.5,655.4 386,657.6 387,676.4 389.5,700.9 391,703.5 392,703.7 392.5,704.3 393,705.6 393.5,705.7 394,704.2 394.5,704.7 395.5,710.7 397,715.2 399.5,704.1 401.5,688.4 402,689 404,706.2 404.5,706 406.5,693.2 410.5,651.4 413.5,700.4 418,678.8 419.5,683.1 420.5,683.8 424,651.5 424.5,652.8 426,672.1 427.5,617.8 428.5,597.3 429,591.4 430,588.1 432,601.1 433,604.6 434.5,603.1 436,604.6 438,596.1 441,627.6 441.5,628.3 443.5,617.8 444.5,616.1 445,617.7 447,634.4 448,650.6 451.5,678.6 453,697.5 455.5,713.7 456,713.8 457,715.7 458,720 458.5,719.7 459.5,725.6 460,725.3 461,726.2 461.5,725.2 463.5,709.5 464,707.6 464.5,708.9 466,709.4 469.5,694.1 470.5,687.5 472.5,699.5 474,695.3 475,697.4 475.5,697.5 477,692.8 479,717.6 480.5,729.2 481,730.8 482.5,725 483.5,726.2 485.5,688 487,677 489,648.8 489.5,647.5 491,651.8 493,633.3 493.5,633.2 494.5,636.9 496.5,660.9 498,660.9 499.5,657.5 500.5,657.2 502.5,685.1 503.5,685.5 504.5,687.8 505.5,688 506,688.9 508,694.8 509,700.1 509.5,699.6 511,692.8 513.5,712.3 514.5,703.5 515,701.2 516,700.1 518,715.3 520.5,698.3 522,713.2 522.5,715.5 524.5,718.3 526,716.7 528,698.9 530.5,657.7 533.5,626.5 535.5,649.3 537,644.6 537.5,645.8 539,659.9 541,655.6 543,667.7 544.5,671.5 545,671.7 545.5,671.1 546.5,668.6 548,694.2 549.5,674.8 552,652.7 552.5,650.8 553,652.2 553.5,652.2 554.5,655.9 555,655.2 556.5,643.2 558.5,635.3 560.5,644.4 561.5,634.9 562,638 563.5,666.2 565,650.1 571,545.8 571.5,542.2 572,541.8 573,538.3 577.5,510.4 579,508.7 581,503.6 582,503.1 584,509.5 586,488 587,485 587.5,486 588,482.7 590,452.6 M616,394.6 617,409 620.5,433.5 626,497.6 627,499.6 627.5,496.6 629.5,479.7 631,459.2 631.5,457.9 632.5,458.2 636,497.8 638.5,518.2 640,523.7 640.5,523.7 642,518.4 644,537.8 644.5,538.9 646,536.5 647,536.9 647.5,536.3 648,536.7 649,535.7 649.5,536.2 650.5,540.2 651.5,540.5 653,516.7 655,512 658.5,554.7 660,566.6 661,571 662,568 662.5,568.1 663.5,571.6 665.5,548.9 668.5,533.5 669,534.6 672.5,576.8 673.5,580 674.5,581.7 675.5,580.3 676.5,577.3 678,587.1 678.5,612.8 680,631.9 680.5,632 681,631.2 681.5,629.2 683,626.7 684,621.8 684.5,620.9 685,620.9 686.5,610.4 688,617.7 689.5,603 692,627.7 694,617.2 696,626.7 698,647.5 698.5,647.6 699,648.6 701.5,658.4 703.5,651.4 705.5,661.6 707,662 709,635.8 710,633.8 711,633 713,642.9 715,625.1 715.5,626.3 717,643.5 717.5,643.3 719,631.6 719.5,636 721,641.8 722.5,636.6 723.5,630.1 725,650.1 725.5,653 726,653.1 726.5,651.4 727,651.3 727.5,653.2 729,669.5 729.5,670.9 731.5,672.5 733,666.4 733.5,666.2 735.5,691.7 736,690 736.5,690.1 738,697.8 739.5,695.3 740,696.1 741.5,704.7 743.5,710 745,710.8 745.5,710.7 748,690.3 749.5,708.4 750,709.9 752.5,699.1 753.5,701.6 754.5,708.1 755,708.3 756,704.3 757,704.2 759,711.5 759.5,711.9 762,700.8 762.5,701.5 764.5,715 767,718 769,707.1 770.5,691.4 772,682.8 772.5,685.4 774,718.1 775,718.7 776,717.5 778,703.6 780.5,669 782,685.5 782.5,686.4 784,677.2 786,690 789.5,674.6 790,676.6 791.5,696.5 793,690.8 794,688.9 796.5,704.7 797,705.5 797.5,705.2 798.5,706.8 799.5,710.8 801.5,692 803.5,695.9 805.5,711.1 811,659.3 811.5,657.6 812,659.6 813.5,655.5 814.5,655.1 815,654.1 815.5,654.4 817.5,649.1 818.5,649.9 819,651.7 820.5,654 822.5,682.4 823,682.7 824,678.3 824.5,679.5 826,688 827.5,692.2 828.5,698 829,698.1 830,693.1 831.5,698.1 833,679.5 835,705.2 836.5,700.6 838.5,687.5 840.5,706.4 842,705.9 843,705.1 844.5,699.3 846.5,669.9 848.5,649.8 850,653.6 851.5,646.6 852.5,645 854.5,656.4 856,671.5 856.5,670.2 857,670.1 858,672.6 859.5,697 862,711.1 863,708.5 865.5,691.3 867,705.2 869.5,713.2 870,712 872,695.4 873.5,697.6 875,694.4 875.5,694.4 876,695.1 877.5,695 879.5,709.9 880,709.6 881,704.6 883.5,699.3 885,699.3 886,701.4 887,706.8 887.5,705.8 890,686.7 891.5,681.8 892,682.2 893.5,693.8 895,678.8 896.5,707.5 900,692.5 901.5,679.5 903,688.1 904.5,703 908.5,652.1 910,660.6 911.5,688.8 913.5,626.2 915.5,636.9 916.5,636.7 917,635.9 918,631.2 919.5,650.6 920.5,656.9 921,656.5 921.5,657.2 923.5,647 924.5,645 925.5,645.2 926,643.6 928.5,617.6 930,595.8 931,588.1 932,571.7 933,576.1 934.5,590.7 935.5,594 936,594.1 937.5,601.6 940.5,611.6 944,638.4 947,609.2 952,538.9 952.5,538.4 953,538.7 954,541.7 955,533 955.5,532.9 957,549.7 959,585.1 960.5,589.8 962,605.5 965,617 965.5,617.7 966,615.4 968,598.6 969,566.3 970.5,549.7 971,546.9 971.5,546.8 972,546 972.5,545.8 974.5,547.1 975.5,549.8 977,590.9 978,601.8 981,620.5 983,645.8 983.5,647.8 985.5,642.9 988.5,611.2 990,606 992,619.4 993.5,624.2 994,624.6 995.5,652.7 997.5,679.1 999,651.4 1000.5,677.9 1001,680.6 1003,659.3 1003.5,657.2 1005,662.2 1007,644.4 1008.5,646.8 1009,649.4 1012.5,639.2 1013.5,638.6 1014,637.2 1015.5,645.3 1018,665.3 1018.5,664.9 1020,660.2 1021.5,688.3 1023,683.9 1023.5,680.7 1028,639.8 1028.5,639.1 1030,643.5 1031.5,631.5 1034,640.4 1035.5,666.3 1038,693.8 1038.5,696.3 1039,696.7 1039.5,695.6 1040.5,697.5 1041,697 1041.5,694.3 1043,683.4 1046,647.5 1049,626.6 1051,648.1 1051.5,649.9 1052,651.3 1053,650 1053.5,650.1 1056.5,657 1058,652.2 1059.5,659.4 1060,659.6 1062,684.3 1064,669.9 1065.5,678.2 1066,678.9 1066.5,677.2 1073,627.5 1073.5,626.3 1074.5,629.5 1075,629.8 1077,613 1078,615.7 1079,616.7 1080.5,625.2 1082,672.6 1084,661.5 1085.5,673.2 1086,671.5 1087.5,650 1089,613.6 1091,583.5 1092,554.8 1096,483.6 1097,474.3 1097.5,474.5 1098,473.8 1099,470.9 1101.5,451.6 1105.5,396.8 1111.5,245 1113.5,228.8 1114,226.4 1114.5,226.4 1115,227.2 1117.5,254.2 1118,252.6 1119,229.9 1120.5,213.8 1122,212 1123,213.2 1124,216.3 1125.5,213.1 1128,233.1 1130,210.5 1130.5,207.7 1131,209.9 1132,227.4 1133.5,234.3 1134.5,253.2 1136,262.3 1138,283 1140.5,319.4 1141,318.3 1142,321.1 1143.5,343.5 1145,338.8 1146.5,365.2 1147,367.2 1148,368.7 1150.5,348.9 1151.5,349.2 1152.5,357.5 1153.5,371.5 1154,391.2 1154.5,391.6 1156.5,443.2 1159.5,485 1160.5,476.1 1161,475.2 1164,502.1 1165.5,510.3 1166.5,522.8 1167.5,519.9 1168,516.3 1168.5,517.2 1170.5,535.1 1171,536.1 1174.5,502.5 1176.5,520.9 1177.5,519 1178,518.8 1178.5,519.4 1179,518.9 1180.5,509.8 1181,511.6 1184.5,564.9 1186.5,551.1 1188.5,530.7 1190,522.1 1192,527.3 1193.5,511.8 1195.5,501.1 1197.5,519.6 1199,512.6 1199.5,512 1201.5,520.3 1204,496.4 1207.5,472.8 1209,455.6 1210.5,449.8 1212.5,463.8 1214.5,454 1215,455.7 1215.5,456.3 1216,455.9 1219.5,446.1 1223.5,488 1226,476.4 1227.5,463.7 1229.5,436.8 1231,443.7 1231.5,444.3 1232,443.6 1232.5,445.4 1234,455.7 1239.5,438.9 1241.5,426.1 1243,439.5 1244.5,429.7 1246.5,402.3 1249,421.5 1250,414.9 1251.5,410.1 1252.5,411.1 1253.5,415.4 1255,408.1 1256.5,394.3 1258.5,381.6 1261.5,403.5 1263.5,390.7 1264,390.1 1264.5,391.4 1266,398.8 1267.5,392.7 1268.5,391.3 1269,389.4 1270,389.7 1271.5,392.2 1273.5,380.5 1275,379.4 1275.5,377.9 1276.5,377.8 1277,378.8 1278,379.1 1279,377.4 1281,389.8 1281.5,391 1282,391.1 1282.5,389.8 1283,389.9 1284,391.8 1284.5,391.7 1286.5,399.1 1288.5,386.7 1290.5,368.9 1291.5,364.6 1293.5,383.5 1295.5,393.8 1296.5,396.1 1298,394.4 1298.5,394.5 1299,395.8 1301,408.8 1302.5,424.2 1304,432.1 1306.5,455.1 1308.5,447.5 1311.5,427.8 1312.5,430.5 1314,437.6 1315,434.9 1316.5,425.4 1317.5,429.2 1318.5,431 1320,427.4 1322.5,424.3 1323.5,420.6 1326.5,399.5 1329,396.7 1331.5,362.3 1334.5,391.4 1335.5,399.4 1336,399.1 1338,381.1 1340.5,340.8 1341,339.9 1341.5,340.1 1342.5,338.9 1343,337.6 1345.5,314.1 1346.5,315.9 1347,315.7 1348,307.4 M1421,198 1423,229.3 1423.5,229.2 1424,224.2 1424.5,227.8 1427,262.8 1428.5,260.6 1430,270.7 1432.5,277.6 1434.5,290 1435,290.7 1436,285.9 1436.5,285.3 1438.5,306.7 1440,314.7 1440.5,314.9 1441.5,311.5 1442,311.6 1442.5,313.1 1445,340 1447.5,354.7 1450,390 1451.5,395.4 1452.5,391.5 1455.5,408.2 1456,407.7 1457,409.2 1459,423.6 1460,426.7 1462,412.7 1462.5,412.7 1463,413.9 1464.5,412.6 1466.5,414.7 1467,413.7 1468.5,401.6 1473.5,385.3 1475,368.9 1475.5,367.4 1476,368.5 1476.5,368.5 1477,365.4 1478,363.3 1480,366.3 1482,372.7 1482.5,372.2 1483,373 1483.5,372.7 1484,373 1484.5,372.3 1486,374.6 1487.5,375.2 1489,362.8 1492,345.2 1494.5,359.1 1495.5,373.5 1496,373.3 1497,370.1 1498.5,375.1 1500,375.6 1500.5,376.7 1502,382.5 1503,380.3 1503.5,380 1504.5,380.8 1505.5,378.7 1506,379 1507.5,387 1509,367 1509.5,367 1511,375.3 1512,368.2 1513.5,377.2 1516,363.5 1517,363.7 1518,362 1520.5,377.8 1521.5,375.1 1522.5,375.4 1523,375.1 1524.5,376.5 1525.5,368.4 1526.5,375.2 1528,378.1 1530,357.4 1531,355.5 1532,357.8 1532.5,355.7 1533.5,354.9 1534.5,355.6 1537,368 1539,374.2 1540.5,371.5 1542,378.1 1543,378.4 1543.5,380.9 1545,367.7 1546,369.6 1547.5,380 1548.5,379.3 1549,379.4 1551,384.5 1552,384.5 1555,376.1 1556.5,369.8 1559.5,347.8 1561,341 1561.5,339.9 1562,340.1 1563.5,345.3 1564.5,334.9 1565,335.1 1566,342.4 1568,368.7 1571,345 1572.5,351.7 1573.5,347.7 1576.5,366.8 1578,370.6 1579,377.3 1580,379.1 1581,388.2 1582,409.5 1584,431.5 1584.5,432 1586,422.7 1587,421.4 1588,418.5 1588.5,418.1 1589.5,420.5 1591,415.1 1592,413.9 1592.5,414.7 1594.5,426.7 1596,430.4 1596.5,433.7 1598,462.4 1600.5,473.6 1602,473.3 1603,473.8 1603.5,475.6 1604.5,476.2 1605,477.7 1608,497.2 1610.5,506.1 1612,504.7 1613,502.5 1615,495.1 1618,476.6 1619,480.1 1620,481.1 1621.5,479 1623,475 1624.5,477 1625.5,480.2 1626,479.7 1628,460.8 1630.5,473.4 1631.5,470.1 1633.5,459.2 1634,459.2 1635.5,462.4 1638,452.3 1639,452.3 1640,456.6 1640.5,457.2 1643.5,431.4 1645,425.8 1647,413.7 1649,419.3 1649.5,418.4 1651.5,407.1 1653.5,419.6 1654,419.8 1656.5,409.4 1659,418.5 1659.5,418 1661,420.5 1662,416.8 1664.5,399.7 1666.5,395.4 1667.5,398.4 1669,397.6 1671,378.3 1671.5,378.3 1673.5,389.3 1676.5,377.1 1678,376.1 1679.5,370.3 M1681,369.3 1682,374.7 1683.5,379.1 1684,377.9 1686,363.1 1687.5,343.7 M1699,306 1699.5,307.3 1700,313.8 1700.5,314.1 1701,312.5 1701.5,314.4 1703,344.1 1705.5,370.3 1706.5,373.3 1707,372.6 1707.5,373.6 1708,373.1 1709,377.2 1710,378.1 1710.5,379.4 1711,379.1 1711.5,380.4 1712.5,380.2 1713,377.9 1715.5,384 1718,399.4 1720.5,380.5 1723,376.4 1724.5,376.4 1725,377.6 1728,392.4 1729.5,391.1 1730,391.2 1732,377.9 1732.5,377.3 1735,401.6 1735.5,401.7 1736.5,400 1737,400.2 1738,403.7 1739,402.7 1739.5,403.1 1740.5,407.1 1741,407.7 1741.5,407.2 1742.5,409.2 1743.5,407.5 1744.5,402.2 1745,402.8 1747,411.6 1747.5,410.2 1749,409.8 1749.5,408.8 1751.5,393.4 1753.5,418.7 1756,441 1756.5,443.5 1759,428.4 1761.5,451.6 1763.5,436.1 1764,435.2 1765,438.8 1766.5,448.5 1767,448.2 1769,437.6 1769.5,436.1 1770.5,435.3 1771,433.5 1773,410.9 1777,442.4 1778,447.2 1783,428.3 1785.5,442 1786.5,438.6 1788,428.7 1789,426.9 1790.5,428.8 1793,437.1 1796,427.5 1797,427 1797.5,427.9 1798,427.4 1799.5,434.1 1801,445.5 1801.5,447.4 1802.5,448.3 1805.5,464.8 1807,467.9 1808.5,466.4 1810,467.9 1810.5,465.8 1812,444.7 1814.5,420.9 1816,430.3 1817,433.8 1819,435.6 1820,438.3 1821,439.3 1822,437.8 1823,437.8 1824,437.1 1825,440 1826,446 1826.5,445.8 1827.5,439.8 1829.5,433.4 1830.5,433.2 1831.5,431.4 1834,445.2 1836.5,453.5 1840.5,447 1841.5,448.9 1842,448.2 1843,443.5 1844.5,453.7 1845,454.7 1845.5,453.9 1846,454.3 1847,457.6 1848,458.1" stroke="#e00000" stroke-width="2.7" fill="none" stroke-linejoin="round"/>
</g>
<use href="#tp" stroke="#c000c0" stroke-opacity="0.55" stroke-width="2.6" fill="none" stroke-linejoin="round"/>
<use href="#tp" stroke="#000" stroke-width="2" fill="none" stroke-linejoin="round"/>
<path d="M1807.7,403.3 C1804.9,403.3 1801.8,404.8 1799.3,406.1 C1796.7,407.4 1794.1,409.3 1792.3,411 C1790.4,412.8 1789.2,414.5 1788.1,416.6 C1786.9,418.8 1785.8,421.1 1785.2,423.7 C1784.7,426.2 1784.4,429 1784.5,432.1 C1784.7,435.1 1785.2,438.6 1785.9,441.9 C1786.6,445.2 1787.5,448.4 1788.8,451.7 C1790,455 1791.7,458.3 1793.7,461.5 C1795.6,464.8 1798.6,468.3 1800.7,471.3 C1802.8,474.4 1804.9,477.5 1806.3,479.8 C1807.7,482 1807.5,483.4 1809.1,484.7 C1810.7,486 1813.5,487 1816.1,487.5 C1818.7,488 1821.7,487.8 1824.5,487.8 C1827.3,487.7 1830.9,487.5 1832.9,487.1 C1834.9,486.7 1835.8,486.6 1836.4,485.4 C1837.1,484.2 1837,482.1 1836.9,479.8 C1836.7,477.4 1836.2,475.1 1835.7,471.3 C1835.3,467.6 1834.8,462 1834.3,457.3 C1833.9,452.6 1833.7,447.7 1833.2,443.3 C1832.7,438.9 1832.3,434.4 1831.5,430.7 C1830.8,426.9 1830.1,423.9 1828.7,420.9 C1827.3,417.8 1825.2,414.9 1823.1,412.4 C1821,410 1818.7,407.6 1816.1,406.1 C1813.5,404.6 1810.5,403.3 1807.7,403.3" stroke="#0808f0" stroke-width="1.7" fill="none"/>
<rect x="19" y="10" width="1830" height="750.5" fill="none" stroke="#454545" stroke-width="2"/>
<path d="M20,759.85H1848" stroke="#0000a0" stroke-width="2.1"/>
</svg>
<div class="xl" style="left:28.5px">Oct 16</div><div class="xl" style="left:189.5px">Oct 24</div><div class="xl" style="left:349.5px">Nov 01</div><div class="xl" style="left:491.5px">Nov 08</div><div class="xl" style="left:631.5px">Nov 15</div><div class="xl" style="left:791.5px">Nov 23</div><div class="xl" style="left:952.5px">Dec 01</div><div class="xl" style="left:1092.5px">Dec 08</div><div class="xl" style="left:1253.5px">Dec 16</div><div class="xl" style="left:1413.5px">Dec 24</div><div class="xl" style="left:1573.5px">Jan 01</div><div class="xl" style="left:1713.5px">Jan 08</div><div class="yl" style="top:4.6px">60000</div><div class="yl" style="top:129.6px">50000</div><div class="yl" style="top:254.6px">40000</div><div class="yl" style="top:379.6px">30000</div><div class="yl" style="top:504.6px">20000</div><div class="yl" style="top:629.6px">10000</div><div class="yl" style="top:754.6px">0</div>
<div class="lg"></div><div class="lt"><div class="r"><i style="background:#000000"></i><span>2000+ sat/B</span></div><div class="r"><i style="background:#ff80ff"></i><span>1700-2000</span></div><div class="r"><i style="background:#ff50ff"></i><span>1400-1700</span></div><div class="r"><i style="background:#ff20ff"></i><span>1200-1400</span></div><div class="r"><i style="background:#ff20ff"></i><span>1000-1200</span></div><div class="r"><i style="background:#d000d0"></i><span>800-1000</span></div><div class="r"><i style="background:#b000b0"></i><span>700-800</span></div><div class="r"><i style="background:#800080"></i><span>600-700</span></div><div class="r"><i style="background:#e06060"></i><span>500-600</span></div><div class="r"><i style="background:#e04040"></i><span>400-500</span></div><div class="r"><i style="background:#e02020"></i><span>300-400</span></div><div class="r"><i style="background:#e00000"></i><span>250-300</span></div><div class="r"><i style="background:#c00000"></i><span>200-250</span></div><div class="r"><i style="background:#a00000"></i><span>170-200</span></div><div class="r"><i style="background:#800000"></i><span>140-170</span></div><div class="r"><i style="background:#e0e060"></i><span>120-140</span></div><div class="r"><i style="background:#e0e030"></i><span>100-120</span></div><div class="r"><i style="background:#e0e000"></i><span>80-100</span></div><div class="r"><i style="background:#c8c800"></i><span>70-80</span></div><div class="r"><i style="background:#b0b000"></i><span>60-70</span></div><div class="r"><i style="background:#989800"></i><span>50-60</span></div><div class="r"><i style="background:#808000"></i><span>40-50</span></div><div class="r"><i style="background:#90e090"></i><span>30-40</span></div><div class="r"><i style="background:#60e060"></i><span>25-30</span></div><div class="r"><i style="background:#30e030"></i><span>20-25</span></div><div class="r"><i style="background:#00e000"></i><span>17-20</span></div><div class="r"><i style="background:#00c000"></i><span>14-17</span></div><div class="r"><i style="background:#00a000"></i><span>12-14</span></div><div class="r"><i style="background:#008000"></i><span>10-12</span></div><div class="r"><i style="background:#8080ff"></i><span>8-10</span></div><div class="r"><i style="background:#6060ff"></i><span>7-8</span></div><div class="r"><i style="background:#3030ff"></i><span>6-7</span></div><div class="r"><i style="background:#0000ff"></i><span>5-6</span></div><div class="r"><i style="background:#0000d8"></i><span>2-5</span></div><div class="r"><i style="background:#0000a8"></i><span>1-2</span></div><div class="r"><i style="background:#000080"></i><span>0-1</span></div></div>
</body></html>
